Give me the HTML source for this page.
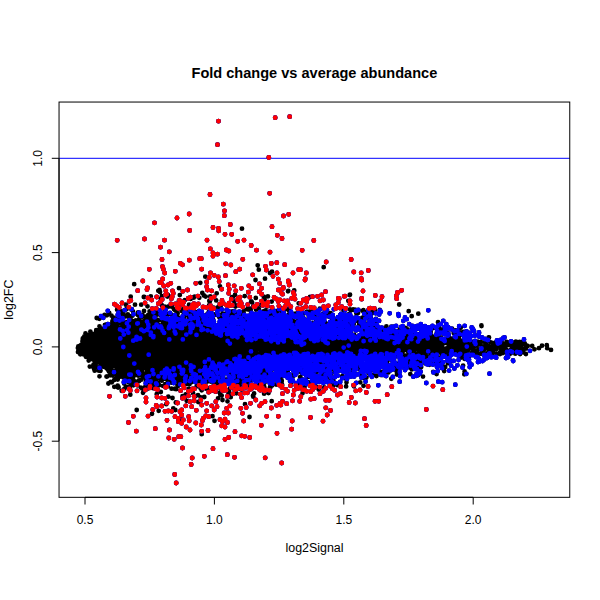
<!DOCTYPE html>
<html><head><meta charset="utf-8"><style>
html,body{margin:0;padding:0;background:#fff;width:600px;height:600px;overflow:hidden}
svg{display:block}
text{font-family:"Liberation Sans",sans-serif;fill:#000}
</style></head><body>
<svg width="600" height="600" viewBox="0 0 600 600">
<rect width="600" height="600" fill="#fff"/>
<line x1="59" y1="158.3" x2="569.8" y2="158.3" stroke="#00f" stroke-width="1"/>
<g fill="none" stroke-linecap="round" stroke-width="4.8">
<path stroke="#000" d="M250.9 374.3h0M146.2 383.1h0M416.6 334.6h0M163.9 376h0M186.4 369.8h0M330.5 313.1h0M124.9 316h0M311.8 384.7h0M186.8 376h0M293.3 370.1h0M117.5 316.9h0M348.3 314.4h0M213.3 319.9h0M133.7 349.1h0M214.8 382.3h0M228.9 378.1h0M203.9 295.5h0M161.8 316.5h0M121.7 370.5h0M325.9 365.7h0M247.8 308.4h0M431.4 335.4h0M300.9 378.6h0M196.8 312.2h0M280.2 369.4h0M430.9 340.4h0M415.2 359.9h0M118.6 323h0M185.4 384h0M353.1 328.6h0M264.3 383.1h0M83.2 353.8h0M210.7 381.6h0M124.3 366.3h0M185.6 326.1h0M155.3 320.2h0M213.6 385.4h0M351.3 329.4h0M112.9 321.8h0M231.8 373.7h0M413.5 351.4h0M343.3 308.2h0M241.5 389.5h0M177.6 313.4h0M165.9 379h0M462.3 340.7h0M366.4 377.6h0M133.1 349.1h0M268 312.2h0M393.4 362.4h0M153 388.2h0M82.3 344.2h0M325.8 363.4h0M312.9 323.4h0M378.2 339.8h0M188.8 376.3h0M143.5 367.9h0M199.7 322.7h0M432.4 345.5h0M383.9 333.3h0M129.6 386.9h0M155.7 313.3h0M215.7 371h0M402.2 353.5h0M448.7 345.6h0M379.8 337.5h0M217.6 310.3h0M170.6 314h0M125.4 372.6h0M363.4 310.2h0M84.4 337.9h0M255.8 297.9h0M251.2 376.7h0M338.4 337.5h0M445.3 333.5h0M178.1 303.3h0M173.1 317.9h0M358.1 321.2h0M188.8 329.8h0M204.3 376.7h0M464.9 358.2h0M105.7 327.7h0M122.4 374.9h0M281.8 372.3h0M161 380.4h0M390.7 358.8h0M149.9 317.3h0M378.4 342.2h0M194.2 296.9h0M181.7 380.5h0M117.4 321.2h0M376.3 354h0M419.3 351.9h0M318.9 388.3h0M437.7 336.5h0M187.4 315.4h0M250.8 308.7h0M108.5 363.9h0M134.5 353.4h0M308.6 321.6h0M148.3 320.6h0M292.8 376.6h0M287.7 371.4h0M147.4 320.8h0M196.6 386.4h0M396.4 355.4h0M114.2 380.1h0M250.9 311.6h0M374.9 309.9h0M205.7 296.6h0M187.7 378.1h0M334.2 336.5h0M385.3 375.3h0M116.8 374.6h0M364.5 318.4h0M210 305.8h0M407.6 329.3h0M96.2 330.2h0M429 357.8h0M310.4 385.5h0M410.3 374.1h0M383.4 329h0M94 336.7h0M322.2 375.7h0M450.7 344.9h0M349.7 328h0M174 309.3h0M264.2 386.6h0M278.3 381.4h0M360.4 370.1h0M425.8 363h0M300.6 363.4h0M447.9 363.2h0M222.5 313.6h0M277 371.8h0M117.7 379.6h0M112.8 375.6h0M243.6 312.8h0M147.2 384.3h0M97.8 333.5h0M107.1 360.1h0M251.1 301.8h0M381.6 353.2h0M459.1 336.7h0M106.2 361.1h0M322.1 378.7h0M334.9 371.7h0M409.8 365h0M288.3 330h0M295.3 313.7h0M195.8 381.3h0M369 373.3h0M183 383.9h0M95.5 365.3h0M151.6 322.3h0M227.7 312h0M148.5 386.9h0M167.2 319.2h0M387.1 361.8h0M202.3 322h0M77.9 348.1h0M82.6 340.3h0M316.5 381.1h0M438.8 339.7h0M124.5 378.1h0M221.3 317.9h0M127.8 316h0M437 332.1h0M133.8 381.8h0M177.1 373h0M121.3 311.4h0M146.9 378.1h0M121.3 327.2h0M104.5 315h0M131.5 309.7h0M212 317.8h0M469.9 340.5h0M434.4 337.2h0M264.6 299.7h0M252 316h0M89.4 334.9h0M85.9 356.8h0M113.5 371h0M460.4 341h0M250.3 315.3h0M93.5 364.7h0M450.4 361.2h0M268.5 393.1h0M111.3 368.2h0M284.9 371.6h0M331.2 368.6h0M250.9 316.7h0M165.4 310.1h0M109.6 360.7h0M115.6 318.7h0M195.3 396.3h0M284.8 309.3h0M99.9 328.1h0M142.4 316.7h0M442.8 348.7h0M292.9 318.2h0M232.6 387.9h0M173.7 365h0M342.3 376.1h0M208.5 344.8h0M332.8 386h0M185.1 331.8h0M431.6 344.1h0M141.2 379.7h0M139.4 318.4h0M267.6 306.3h0M249.6 381h0M239.6 385.8h0M460.7 327.8h0M131.1 353.3h0M469.2 356.2h0M461.1 357.6h0M322.4 314.3h0M156.1 385.9h0M439.6 362.5h0M133.1 347h0M208.4 349h0M441.7 355.6h0M110.6 365.5h0M157.6 324h0M316 319.6h0M115.7 379.1h0M360.3 382.3h0M161.8 305.2h0M108.9 371.6h0M437.2 357.2h0M323.4 377h0M372.7 310.3h0M270.5 373.1h0M415.6 329.4h0M216.5 374h0M389.6 369.9h0M383.5 334.6h0M264.9 382h0M106.5 376.6h0M375.2 323.2h0M85.5 333.4h0M161.9 296.2h0M195.7 337.7h0M157.7 383.2h0M432.8 327.1h0M110.7 362.2h0M97.4 367.3h0M322 315.9h0M129.9 349.8h0M391.5 359.5h0M209.9 301.3h0M157 323.3h0M350.4 315.9h0M130.9 372.1h0M114.7 322.6h0M223.2 375.8h0M174 346.4h0M137.4 385.3h0M189.3 327.9h0M145.3 386.6h0M463.1 365.6h0M446 342.2h0M104.6 362.5h0M92.1 337.2h0M289.8 368.7h0M462.5 342.7h0M263.3 311.4h0M263.1 371.2h0M125.7 316.4h0M104.9 325h0M359.8 366.8h0M380.2 330.4h0M362.4 317.7h0M302.7 316.8h0M464.3 374.3h0M246.9 316.5h0M433.5 341.5h0M142 374.6h0M184 325.9h0M129.6 329.9h0M94.4 359.5h0M215.3 384.4h0M90.4 331.7h0M230.7 397.2h0M105.9 349.5h0M451.5 339.2h0M210.1 349h0M231.4 315.4h0M417.8 349.3h0M372.1 339.8h0M98.9 370.7h0M455.4 354h0M157.2 384.6h0M376.6 325.3h0M188.9 332.8h0M281.7 381.8h0M393.3 364.7h0M392.8 326.9h0M134.9 353.4h0M197.3 382.2h0M359.3 322.8h0M353.1 309.5h0M219.1 316.9h0M327.4 314.2h0M261.4 305h0M138 375.6h0M113.8 323.5h0M193.7 297.7h0M100.2 369.7h0M447.7 359.7h0M281.3 381.1h0M156 333.7h0M430.6 329.9h0M357.9 311h0M187.5 383.4h0M129 382.4h0M142.6 315.3h0M167.4 296.5h0M393.1 329.7h0M221.7 395.6h0M177.3 376.7h0M126.5 309.2h0M179 381.5h0M211.2 308.7h0M339.5 334.7h0M105.7 324.6h0M161 320.1h0M108.1 369.9h0M442.5 329.4h0M146.5 316.4h0M149.6 311.3h0M121.7 374.1h0M125.8 386.6h0M469.1 348h0M128.8 370.8h0M322.8 364.7h0M408 351.3h0M109.8 359.9h0M298.4 332.9h0M179.1 321.7h0M155.4 363.3h0M246.6 371h0M86.1 356.7h0M368.7 372.8h0M199.3 297.8h0M227.3 379.4h0M153.4 332h0M112 366.3h0M227.1 373.1h0M128.4 335.6h0M168.8 313.8h0M112.4 357.2h0M108.4 383.5h0M121.8 327.9h0M186.4 376.3h0M408 350.9h0M178.9 300.7h0M96.5 333.4h0M220.1 304.2h0M163 322.3h0M177.8 386.2h0M388.4 372.4h0M130.7 333.6h0M129.9 388.2h0M311.1 310.5h0M330.7 382.1h0M142.3 368.8h0M309 315.1h0M421.2 367.1h0M452.9 340.1h0M128 331.6h0M107.4 351.3h0M107 376.5h0M136.3 326h0M446.2 348.4h0M407.6 336.8h0M373.3 343h0M400.3 349.3h0M374.3 370.3h0M308.7 317.1h0M355 367.4h0M436.5 339.9h0M378.2 343.1h0M207.3 346.4h0M355.2 310.6h0M249.7 371.1h0M105.1 363.1h0M207 314.5h0M202.7 379.5h0M292.4 379.3h0M132.6 346.3h0M235 375.6h0M365.5 336h0M192.6 330.8h0M190.6 331.5h0M131.3 333.9h0M201.4 318.4h0M107.9 359.2h0M116.5 367h0M210.1 342.4h0M276 371.8h0M302.4 372.1h0M396.2 367.2h0M127.8 314.3h0M236.5 383.2h0M328.3 362.1h0M358.6 336.4h0M127.1 380.6h0M455.5 349h0M300.1 331h0M79.1 346.7h0M184.9 379.5h0M407.2 348.8h0M116.1 373.1h0M417.4 353.6h0M214.6 377.5h0M359.8 323.6h0M135.3 350.5h0M183 384.5h0M210.8 311.2h0M260.7 372.8h0M122.7 321.7h0M116.6 367.9h0M112.6 374.3h0M193.6 336.3h0M126 339h0M111.3 362.6h0M428.3 342.3h0M372.8 337.8h0M422.5 327.1h0M234 382.4h0M408.1 354.6h0M371.7 313.5h0M214.2 314.4h0M441.6 331.4h0M123.5 316.3h0M178.2 370.6h0M347.7 326.6h0M385.2 341.1h0M319.8 308.7h0M94.9 361.6h0M196 335.1h0M273.3 367.4h0M140.2 349.1h0M365.2 315h0M132.4 315.7h0M444.8 343.1h0M448 347.8h0M189.7 368.9h0M147.3 318.3h0M163.2 373.4h0M186.5 310.9h0M198 337.4h0M381 352.5h0M164.8 306.6h0M381.4 341.3h0M216.9 383.1h0M160.4 374.3h0M208.7 348.4h0M214.4 355.9h0M448.6 346.7h0M322.2 363.6h0M177.7 378.3h0M423.5 339.6h0M112.3 362.2h0M458.8 338.3h0M129.2 371.3h0M423.2 355.9h0M331.5 363.5h0M92.5 358.6h0M331.2 373.5h0M130.3 317.1h0M193.7 320.2h0M382 333.8h0M159.7 376.1h0M99.5 376.3h0M440.4 329.9h0M200.2 366.7h0M125.6 333.9h0M225.4 313.8h0M412.2 327.5h0M404.4 355.4h0M237.9 374.3h0M181.6 374.5h0M377.7 351h0M210 352.5h0M172.6 345.5h0M85.8 344.8h0M104.6 348.9h0M374.1 346.7h0M131.6 328.2h0M100.9 331.1h0M102.1 329.3h0M458.7 341.8h0M285.6 368.8h0M205.8 344.6h0M376.4 376.1h0M386.6 344.6h0M186.4 376.8h0M178.7 367.5h0M300.8 363.9h0M240.4 328h0M246.3 316.6h0M226.8 380.9h0M375.9 318.9h0M171.6 388.7h0M222 384.9h0M267.2 327.9h0M183 376.7h0M202.1 378.6h0M212.6 390.5h0M106.1 365h0M129.3 316.7h0M328.7 316.6h0M427.3 352.7h0M263.4 367.3h0M99.5 326.3h0M247.8 377h0M355.1 343.7h0M94.5 364.7h0M174.7 367.6h0M424.4 347.8h0M447.4 351.3h0M135.7 374.7h0M188.9 320.9h0M193 339.4h0M120.5 376.6h0M215 385.4h0M461.3 354.6h0M154.2 334.1h0M155 377.2h0M184.7 331.4h0M219.7 386.4h0M234.4 378.7h0M457.9 349.8h0M212.8 343.8h0M409.2 350.5h0M416.2 336.8h0M421.6 331.3h0M184.9 300.1h0M225.2 326.2h0M460.2 348h0M151.8 328.8h0M366.6 336.8h0M447.8 354.8h0M446.9 352.9h0M184.6 328.4h0M301.1 335.6h0M371.5 338.9h0M440.7 352.5h0M306.9 311.6h0M376.6 346h0M364.7 328.1h0M165.3 327.2h0M368.8 326.7h0M100.5 370.7h0M133.4 372.8h0M182.3 319.9h0M440.7 337.3h0M162.2 313.1h0M219.6 371h0M335 371.9h0M444.7 353.4h0M143 346.3h0M371 318h0M376.7 351.6h0M445.2 350.1h0M105.5 364.4h0M388.2 359.7h0M88.7 360.5h0M104.2 347.8h0M200.9 379.3h0M154.1 334.1h0M431.1 345h0M144.8 374.2h0M152.4 387.7h0M362.9 377.8h0M292.3 330.2h0M107.2 345.7h0M191.3 382.3h0M340.5 335.2h0M340.5 343.1h0M130.7 348.3h0M371.2 328h0M220.5 376h0M384.9 344.8h0M330.7 364.4h0M189.4 314.3h0M419.2 352.3h0M165.7 374.9h0M267.2 391.8h0M109.6 359.4h0M226.1 329.6h0M189.4 330.4h0M131.1 353.7h0M153.3 332.1h0M251.4 313.7h0M223.8 326h0M353.7 324.1h0M161.6 372.3h0M445.6 331.1h0M161.5 367.1h0M175.8 375.1h0M339.5 346.9h0M213.6 358.6h0M195.5 321.1h0M415.7 347.7h0M215.1 354.2h0M110.9 359.2h0M216 325.2h0M261.8 374.4h0M179.6 377.5h0M80.4 345.6h0M468.2 355h0M154.6 373.2h0M111 356.4h0M425.1 353.2h0M407.1 349.1h0M430.7 350.3h0M124.7 372.9h0M187.2 382.1h0M388.6 340h0M211 351.9h0M292.5 330.6h0M94.2 369.2h0M429.2 349.6h0M151.4 384.5h0M78.9 350h0M111.3 330.8h0M135 381.5h0M151.5 324.6h0M123.2 313h0M117.1 309.7h0M186.2 375.5h0M459.6 332.5h0M230.3 318.2h0M247.7 309.4h0M228.3 394.5h0M259.4 378.8h0M260.6 348.4h0M114.3 386.8h0M318.1 350.5h0M417.7 358.2h0M99.3 362.6h0M190.6 363.2h0M369.2 340.5h0M432.5 343.3h0M186.6 362.8h0M324.8 369.6h0M323.1 365.9h0M179.1 376.2h0M189.8 320.9h0M157.6 372.7h0M110 342.1h0M364.1 329.2h0M224 357.3h0M379.5 350.1h0M266.6 373.1h0M141.5 345.7h0M344.2 362.5h0M296.5 315.1h0M422.7 345.6h0M433.4 350.5h0M256.1 349.1h0M404 355.8h0M139.5 329.5h0M355.4 344.1h0M216.6 353.3h0M195.9 362.7h0M369.2 339.7h0M133.8 353.9h0M336.8 338.6h0M196.7 381.9h0M407.2 333.1h0M464.5 358.8h0M298 330.9h0M378 342.4h0M376.4 340h0M198 395.1h0M354.4 344.6h0M265.4 370.3h0M339.5 342.4h0M297.6 383.8h0M323.9 377.1h0M127.7 332.3h0M242.2 380.4h0M152.7 382h0M202.2 322.3h0M144 358.3h0M109.9 327.7h0M289.9 368.3h0M171.8 306.7h0M468.6 342.1h0M155.1 327.9h0M291.6 382.2h0M338 319.8h0M101.2 330.8h0M161.2 331.9h0M307.7 373.5h0M300.1 377.1h0M192.9 328h0M89.1 334.9h0M184 313h0M186.5 333.5h0M86 355.7h0M82.8 354.1h0M269.2 315.8h0M207.8 388h0M196 340.4h0M223.7 359h0M220.8 305.7h0M261 349.2h0M380.7 354.3h0M153.4 313.8h0M130.6 384.3h0M386.4 326.3h0M291.4 379.3h0M114.4 342.2h0M138.5 373.5h0M117.1 376.1h0M454.2 341.1h0M106.7 345.7h0M149.4 330h0M187.6 383.6h0M126.2 374.3h0M103.1 363.3h0M417.3 336.4h0M161.5 378.3h0M108 330.2h0M404.6 350.2h0M298.2 328.5h0M366.4 346.7h0M165.4 328.8h0M177.1 321.2h0M145.9 356.6h0M189.7 316.9h0M150 327.7h0M134.7 326.3h0M327.1 311.2h0M267.9 296.4h0M158.9 310.9h0M208.8 349.2h0M319.7 362.3h0M127 330.7h0M194.7 332.4h0M105.7 364.2h0M162.5 324.5h0M353.6 370.6h0M420.8 361.5h0M409.1 355.7h0M453.7 333h0M254.1 350.3h0M356.5 344.2h0M406.7 363.1h0M422.5 357.5h0M185.6 370.6h0M181.2 377.3h0M442.1 354.1h0M416.8 348.2h0M382.8 340.4h0M271.4 314.8h0M175.9 377.4h0M256.2 361h0M120.1 333.6h0M82.5 341.4h0M99.2 360.1h0M135 321.3h0M143.3 377.4h0M142.4 359.3h0M175.4 348.9h0M253.3 305.9h0M185.4 360.7h0M284 313.7h0M429.3 364.8h0M417.9 375.3h0M145.9 368.5h0M336.1 338.8h0M155.5 379.8h0M185.6 324.2h0M255.1 378.7h0M191.5 371.8h0M276.1 384.5h0M94.6 355.6h0M117.9 328.9h0M269.4 312.5h0M452.6 347.6h0M176.7 320.5h0M409.7 351.9h0M361.4 321.7h0M213.4 373.8h0M96.5 354h0M367.7 347.7h0M217.8 381.4h0M357 344.1h0M310.7 360.6h0M443 350.2h0M436.6 374h0M129.9 354h0M252.9 378.3h0M430.2 356.8h0M442.8 331.4h0M453.7 350.7h0M119.8 314.1h0M278.7 339.5h0M177.5 309.2h0M175.3 351.8h0M279.8 341.1h0M355.5 344.5h0M173.6 368.9h0M92.6 352.9h0M120.4 370.8h0M209.2 305.1h0M382.1 328.5h0M183.8 357.3h0M420.3 367.3h0M263.8 296.7h0M147.7 378.3h0M141.3 322.2h0M151.4 331.6h0M147 370.2h0M115.3 379.3h0M217.5 353.8h0M268 376h0M85.2 339.8h0M302.6 314.5h0M108.5 328.6h0M122.6 325.4h0M117.7 385.7h0M222.2 340h0M398.5 368.7h0M216.3 391.5h0M366.4 350h0M127.1 321.9h0M142.9 321.6h0M400.7 344.8h0M143.1 324.8h0M132.8 376.3h0M82.5 343.8h0M198.1 379.9h0M347.3 340.1h0M350.3 317.6h0M359.1 324.3h0M453 340.9h0M403.9 346.9h0M444.6 340.1h0M264.1 393.7h0M88.6 353h0M159.3 334h0M395.1 350.4h0M147.1 376.3h0M393 339.7h0M239.1 348.6h0M132.1 342.2h0M381 332.9h0M396.9 372.8h0M221.7 375.8h0M454.6 332.5h0M410 337.8h0M89.1 344.1h0M329.1 368.3h0M131.2 325.2h0M113.3 336.3h0M223 321.5h0M121.1 349.4h0M368.5 313h0M375.6 342.5h0M250.9 351h0M102.1 333.1h0M276.9 338.1h0M152 317.3h0M404.2 346.7h0M377.4 328.1h0M121.9 354h0M180.4 371.2h0M130.4 379.5h0M111.8 382.3h0M231.7 384.4h0M433.8 358.2h0M324.9 344.6h0M397.4 344.5h0M406.7 349.3h0M275.7 366.9h0M122.1 348.7h0M372.8 374.9h0M94.4 340h0M222.4 361.9h0M339.6 348.3h0M364.7 348.9h0M235.4 306.5h0M396.1 370.2h0M114.3 371.1h0M315.7 348.3h0M263.9 383.2h0M229.3 377.7h0M124.2 327.9h0M115.3 359.1h0M78.3 347.3h0M361 336.1h0M147.6 370h0M256 309.4h0M201.7 326h0M214.9 345.6h0M403.3 350.5h0M224.9 353.8h0M309.2 311.7h0M173.9 357.4h0M265.3 331.8h0M427.3 357.2h0M210.7 352.5h0M98.6 348.5h0M138.4 375.5h0M432 347.5h0M463.7 331.9h0M446 352.4h0M144 311h0M374.8 347.7h0M440.7 349.7h0M119.8 349.2h0M405.6 339.5h0M133 332.2h0M262.2 380h0M150.3 313.9h0M119.2 352.1h0M234.2 382.1h0M234.4 389.3h0M397.7 348.7h0M93.4 349.7h0M376.3 336.2h0M104 366.8h0M403.2 344.6h0M377.2 329.3h0M410.8 348.6h0M265.2 319.5h0M332.5 318.7h0M83.1 344.9h0M204.6 332.5h0M218.5 347.5h0M131.4 340.3h0M203.9 330.7h0M181.7 374.4h0M397.1 353.5h0M228 357h0M447.3 338.4h0M360 347.7h0M183.3 375.9h0M338.7 367.2h0M440.6 348.4h0M209.6 356h0M214.6 389.2h0M394.8 341.1h0M106.3 360.2h0M450.7 343h0M410 348.9h0M139.5 342.4h0M429.3 339.7h0M185.9 324.7h0M122.3 321.5h0M148.3 370.9h0M344.7 322.5h0M385.9 348.7h0M125.5 370.1h0M174.1 358.9h0M191.9 333.8h0M211 352.9h0M469.1 348.2h0M337.2 343.3h0M116.1 371.5h0M353.9 386.3h0M158.2 378.4h0M123 337h0M98.3 335.4h0M235.9 346.4h0M142.1 359h0M240.1 383.7h0M390.1 347.9h0M371.8 347.7h0M90.2 346.7h0M332.7 316.6h0M411.8 369.4h0M338.7 368.7h0M362.7 323.7h0M268.7 332.3h0M206.7 327.5h0M163.1 370.5h0M212.8 343.5h0M94 334h0M112.4 321.2h0M116.2 329.8h0M98.7 356.3h0M326.3 345.7h0M188.2 360.6h0M197.4 367.1h0M195.5 371.3h0M218.3 354.7h0M191.5 361.7h0M379.8 310h0M325.8 371.6h0M109.6 348.6h0M122.8 361.9h0M257.2 343.5h0M141.5 339.6h0M376.3 334.9h0M350 309.3h0M212.4 359.1h0M105 351.1h0M181.4 359.3h0M82.1 350.9h0M418.9 365.3h0M131.3 347.5h0M316.4 353.5h0M380.5 355.9h0M423 376.6h0M281.5 310.7h0M211.3 354.6h0M103.1 349.5h0M102 366h0M332.6 321.6h0M122.5 336.2h0M429.9 348.4h0M216.2 300.4h0M444.2 371.1h0M251.7 353.8h0M280.7 377.4h0M139 380.3h0M350.3 347.5h0M381.5 341.2h0M197.9 339.3h0M314.1 349.4h0M444.8 351.5h0M113.7 335h0M263.1 367.9h0M147.7 372.6h0M433 328.2h0M104.9 345.7h0M103.6 350.3h0M436.6 333.4h0M377.9 344.4h0M183.9 350.8h0M142.1 388.5h0M202.5 379.6h0M182.5 396.2h0M296.1 323.5h0M439.4 358.9h0M423.9 352.9h0M236.7 358.8h0M311.8 365.4h0M256.3 357.8h0M178.8 347.7h0M461 343.2h0M361.9 350.4h0M173.1 357.3h0M144.9 327h0M427.4 341.5h0M419.2 353.8h0M177.9 357.8h0M372 328.4h0M173.4 355.5h0M97.2 340.9h0M98.1 347h0M173.8 362.8h0M163.4 330.9h0M177.2 315.6h0M78.3 346.5h0M386.7 345.2h0M164.7 330.7h0M201.7 365.1h0M179 346.3h0M197.4 375.7h0M239.9 316.1h0M181.7 360.4h0M149 358h0M143.8 350.9h0M212 377.8h0M216.8 314.9h0M100.9 328.5h0M247.7 346.4h0M185.3 369.2h0M129.4 372.8h0M342.5 349.4h0M191.2 363.1h0M343.4 309.8h0M288.7 314.9h0M388 359.5h0M378.6 329.6h0M196.8 341.3h0M119 367.2h0M119.1 350.3h0M159.8 371.6h0M235.2 344.9h0M176 374.9h0M211.5 331.7h0M302.3 348.5h0M223.4 314.5h0M124.3 367h0M403.7 345.5h0M127.3 373.6h0M185.5 362.5h0M308 369.5h0M452.1 352.2h0M123.4 377.5h0M148 363.5h0M132.4 355.5h0M209.3 300.9h0M176.5 365.6h0M359.8 345.5h0M281.7 380.5h0M414.8 345.8h0M221.7 363.3h0M420.9 351.6h0M172.9 334.2h0M354.2 334.9h0M179.2 365.3h0M366.6 333.9h0M211.3 348.3h0M175.1 366.5h0M305.3 352h0M428 346.2h0M411.7 343.1h0M363.5 385.8h0M383.7 353.9h0M378.4 348.8h0M404.6 341.8h0M392.7 352.7h0M105.5 359.7h0M261.2 368h0M175.1 310.3h0M165.6 329.7h0M211.8 345.5h0M164.4 359.6h0M416.5 354h0M349.8 340.6h0M157.7 372.4h0M103 344h0M204 367.3h0M435.3 346.3h0M303.1 341.9h0M165.7 329.6h0M390 328.8h0M167.3 327h0M170.5 334h0M438.1 333.6h0M157.1 364.1h0M250.9 352h0M424 347.8h0M411.8 367.8h0M194.3 365.8h0M439.2 328.4h0M454.4 331.2h0M257.5 305.2h0M214.2 378.8h0M105.8 367h0M124.1 363.4h0M97.4 347.4h0M374.4 351.7h0M198 363.4h0M203.4 384.7h0M139.1 321.1h0M300.7 330.1h0M241.9 347.9h0M134.4 335.2h0M205.7 326.2h0M154 335.1h0M228.3 381.2h0M357.9 345h0M96.6 359.2h0M377.5 345.4h0M341.1 342.3h0M428.3 349.9h0M427.8 340.1h0M136.3 329.9h0M148.8 357.7h0M451.4 344.3h0M132.4 340h0M118.5 366.6h0M108.3 359.4h0M134 346.6h0M326.7 362.8h0M380.2 359.8h0M274.7 341.1h0M169.4 337h0M221.4 362.1h0M461.8 349h0M257.2 377.2h0M188.4 307.7h0M95.5 352h0M122.9 358.1h0M411.9 340.1h0M351.3 333.9h0M171.7 364.1h0M450.4 338.3h0M110.2 350h0M102.5 356.5h0M380.9 347.5h0M290 381.1h0M185 367.7h0M140.2 372.6h0M292.9 324.5h0M200.3 324.9h0M135.4 349h0M353.8 370.1h0M240.2 324.4h0M183.9 352.8h0M223.3 358.4h0M102.5 358.3h0M117.8 326.7h0M437.5 352.6h0M425.4 363.4h0M405.1 356.7h0M211.3 353h0M115.1 340.2h0M389.7 345.6h0M369.8 339.2h0M237.7 353.4h0M113.1 327.8h0M167.5 384.7h0M383 371.9h0M226.3 353.9h0M136.1 336h0M468 344.5h0M89.8 366.6h0M361.8 335.6h0M189.6 312.4h0M274.1 369.2h0M430.7 331.9h0M156.1 328.2h0M416 354h0M207.3 347h0M166.8 323.4h0M161.2 369.9h0M301.5 333.9h0M137.4 344.6h0M413 353.2h0M333.8 369h0M121.5 330.4h0M232.4 311.4h0M168.2 382.5h0M155.9 388.9h0M112.2 372.1h0M127.2 354h0M340 337.2h0M145.9 381.2h0M449.2 337.8h0M219.9 392.8h0M109.3 347h0M160.5 353.5h0M333.5 381.1h0M229.7 388.8h0M197.7 361.1h0M214.2 347.5h0M161.5 355.9h0M389.7 339.3h0M350.2 333.2h0M194.9 326.3h0M397.2 354.6h0M218.3 378.2h0M97.6 333.6h0M202.8 342.5h0M96 352.4h0M238.6 322.6h0M177.5 385.5h0M143.3 340.2h0M259.9 344.5h0M183.8 314.5h0M320.4 345.7h0M116.6 368.9h0M116.5 340.8h0M100.4 370.9h0M123.5 334.2h0M258.5 358.5h0M419.7 347.3h0M200.1 330.6h0M424.2 343.5h0M437.7 340h0M155.8 313.5h0M131 322.9h0M125.5 326.6h0M178.7 324.1h0M384.7 348.6h0M113.3 347.2h0M181.1 359.5h0M381.3 339.2h0M244.5 348.1h0M337.9 325.2h0M222.2 362.9h0M158.1 333.4h0M193.6 315.8h0M147.7 386.5h0M182.4 362h0M278.5 355.1h0M87.2 339.8h0M241.7 356.4h0M235.1 325h0M448.4 342h0M222.6 355.3h0M461 350.2h0M240.3 315.8h0M441.7 343.3h0M189.8 328.3h0M263.3 384.1h0M95.1 364.6h0M361.2 345.3h0M123.2 341h0M385.7 346.5h0M244.7 296.1h0M143.5 356.4h0M157.1 319.7h0M379.4 336.5h0M236.4 354.1h0M103.9 351.2h0M397 374.5h0M129.7 324.2h0M141.5 334.1h0M187.4 378.7h0M267.9 327.1h0M288 309.3h0M191.4 332.6h0M428.6 343.3h0M360.7 365.8h0M138.8 362.1h0M248.9 350.9h0M186 379.9h0M124.1 383.6h0M395.3 346.4h0M150.4 374.3h0M159.3 357.2h0M108.4 324.7h0M165.9 361.8h0M159.1 328.4h0M159.1 357.6h0M259.4 346.1h0M148.1 371.8h0M238.7 388.6h0M183.7 348.6h0M194.8 332.4h0M148 362.4h0M125.4 360.5h0M120 342.1h0M314.9 352.6h0M436.2 353.6h0M228 368.3h0M156.8 374.8h0M199.1 368.4h0M386.5 364.8h0M182.4 327.1h0M290.9 343.7h0M325.5 379.2h0M432.5 346.7h0M105.9 331.1h0M159.9 368.1h0M352.7 350.1h0M363.1 343.9h0M388.4 342.3h0M230.8 367h0M148.5 378.5h0M368 350.8h0M156.3 329.6h0M88.2 356.5h0M365.1 338.8h0M160 357.9h0M131 374.6h0M316.7 314.4h0M123 365.8h0M220.4 395.1h0M166.9 332h0M105.9 357.5h0M169.7 356.5h0M107.3 350.7h0M272 385.6h0M213 351.5h0M155.7 338.5h0M105.6 334.8h0M167.4 327.8h0M120.8 366.9h0M402.7 339.8h0M403.2 346h0M381.1 375.1h0M348.7 324h0M292.9 318h0M222.3 355.6h0M407.6 329.5h0M195.3 328.5h0M226.3 337.1h0M319.9 325.1h0M174.8 380.9h0M238.4 358.2h0M147.6 368.2h0M206.9 368.4h0M330.2 354.1h0M296.8 334.3h0M93 336.3h0M192.3 323.1h0M110.1 335h0M127.9 343.6h0M300.5 341.6h0M114.8 326.5h0M189.3 336.5h0M173.9 328.1h0M255.6 347.9h0M308.2 382.4h0M331.2 357h0M407.6 358.1h0M99.6 354.5h0M382 347.3h0M123 353.4h0M229.9 354.6h0M143.2 328.6h0M385.7 351.9h0M116.6 338.5h0M299.3 315.7h0M84.9 352.3h0M287.5 352.6h0M200 339.7h0M117.6 352.5h0M384.9 339.9h0M177.1 380.7h0M279.8 307.5h0M426.2 345h0M300.4 377.1h0M410 351.1h0M225 341h0M319.4 342.4h0M248.4 384.5h0M285.6 316.1h0M410.5 331h0M181 343.7h0M83.5 345.8h0M222.9 378.2h0M321.5 343.1h0M91.4 355.6h0M269.5 377.2h0M139.8 326.7h0M107.7 324.1h0M166.2 355.9h0M167.7 334.5h0M179.5 364.4h0M261.7 343h0M372.3 369.5h0M136.2 365.9h0M244 345h0M352.4 370h0M329 324.2h0M215.8 351.8h0M158.1 343.4h0M139 326.1h0M385.6 332.7h0M386.2 363.2h0M428.6 361.6h0M172.7 356.9h0M351.6 324.6h0M212.4 329.8h0M211.6 372.5h0M353.3 341.1h0M94.9 341.2h0M91.7 347.5h0M238.4 344.7h0M102.8 354h0M291.9 329.7h0M205 341.6h0M127.1 339.1h0M238.9 354h0M469.7 336.6h0M451.1 339.7h0M122.5 325h0M115.3 373.7h0M359 327.1h0M142 375.2h0M423.2 349h0M163.3 354h0M159.2 385.2h0M152.3 378.6h0M225.5 365.2h0M114.7 335.2h0M422.3 348.5h0M317.9 345.3h0M256.4 341.3h0M191.8 355.9h0M80.3 354.3h0M282.3 343.1h0M157.3 340.5h0M197.9 363h0M107.5 366.5h0M312.6 346.7h0M111.8 333.5h0M452.8 351.6h0M132.6 368.9h0M119.2 345.2h0M189.2 336.8h0M387.5 345.5h0M165.8 348.4h0M164.8 357.2h0M233.6 378.4h0M232.2 358h0M415.9 353.7h0M136.3 371.1h0M376.5 345.6h0M392.8 363.9h0M193.5 353.2h0M378.6 331.5h0M225.1 319.6h0M85.1 346.2h0M255.9 345.9h0M359.7 374.4h0M88.3 343.6h0M206.2 354.4h0M187.5 345.9h0M237.7 349.9h0M94 360.1h0M160.1 364.1h0M447.7 333.1h0M204.4 370.4h0M250.3 349.5h0M206 334.9h0M158.8 325.2h0M306 349.1h0M425 350.7h0M171 347.5h0M328 353.2h0M464.5 338h0M173.7 351.7h0M249.9 349h0M411.2 345.9h0M84.3 354.7h0M353.2 374h0M222 355h0M107.3 351.8h0M402 340.5h0M256.5 350h0M349.3 346h0M158.1 336.9h0M134.9 354.5h0M372.3 345.8h0M423.9 351.9h0M305.3 338.6h0M216.1 340.1h0M417.5 356h0M82.8 338.5h0M446.3 349.7h0M433.2 345.7h0M144.9 323.9h0M353.4 347.8h0M112.2 370.5h0M206.2 350.7h0M208.1 340.9h0M314.3 345.1h0M104.5 361.3h0M331.6 362.6h0M182.8 324.9h0M207.7 339.4h0M295 368.6h0M117 339.2h0M85.6 347.1h0M132.9 321.2h0M342.4 338.4h0M340.2 334.1h0M142.4 352h0M304.9 367.9h0M189.8 332.3h0M230 339.6h0M127.7 364.9h0M227.3 339.1h0M313.2 349.8h0M220.5 353.7h0M114.7 324.5h0M399.6 334.5h0M240 374.1h0M84.3 336.4h0M414.2 345.1h0M364.4 322h0M153.3 338.2h0M210.9 357.7h0M347.4 350.7h0M422.5 354.5h0M228.9 391.7h0M89.7 342.2h0M379.1 320.6h0M104.7 367.1h0M120.3 360.5h0M88.1 340.2h0M344.3 339h0M124.9 365.2h0M157.9 324.6h0M195.6 358.7h0M419.2 334.2h0M124.4 388.9h0M303.6 343.1h0M327.7 371.4h0M206.5 339.9h0M185.5 370.7h0M426.4 351.1h0M211.2 368.3h0M278 351.4h0M118.1 387.6h0M129.5 368.1h0M155 359.9h0M460.5 348.2h0M430 330.9h0M402.4 355.8h0M187.1 334h0M174.7 326.9h0M455 352.3h0M198.1 369.9h0M127.7 324.6h0M276.7 345.1h0M459.5 347.4h0M273.5 347.6h0M174.5 371.9h0M167 377.8h0M174.6 377.1h0M342.7 351.5h0M89.9 336.7h0M273.5 312.8h0M324.4 340.8h0M114.5 356.6h0M344.5 341.7h0M403.3 338.2h0M168.3 337.5h0M413.4 339.9h0M111.6 351h0M141.9 370.3h0M448.7 347.9h0M84 349.2h0M345 351.5h0M255.6 348.2h0M200.5 367.4h0M174.8 370.8h0M331 349.8h0M100 337.4h0M223.4 366.2h0M176.5 362.2h0M229.8 353.3h0M194 361.8h0M267.9 370.2h0M213.3 341.7h0M185.9 356.6h0M99 351.7h0M138.9 336.8h0M454.3 346h0M94.2 348h0M210.1 317.4h0M153.4 337.3h0M220.8 342h0M189.5 329.1h0M149.7 340.5h0M135.5 362.7h0M154.1 339.6h0M88.6 354.4h0M195.2 328.5h0M256.6 334.8h0M419.7 340.8h0M333.9 340h0M182.7 309.4h0M159.1 352.2h0M258.5 338.6h0M331.5 363h0M167.1 360h0M104.9 356h0M173.6 337.3h0M112 361.3h0M114.5 349.3h0M367.7 317.1h0M91.7 337.5h0M171.8 349h0M375.5 339.8h0M180.2 350.5h0M207.7 356.2h0M179.1 353h0M168 364h0M259.5 342.2h0M452.1 328.7h0M195.5 332.7h0M153.6 317.4h0M190.7 343.9h0M338.5 328.9h0M197.3 328.3h0M134.5 341.7h0M110.7 381.8h0M181.4 345.1h0M240.1 380h0M98.2 343.8h0M182.9 364.6h0M197.1 374.1h0M146.1 326.3h0M164.4 366.9h0M219.2 352.4h0M296.3 343.6h0M200.6 342.6h0M239.6 344.8h0M197.1 353.4h0M220 339.3h0M129.7 347.6h0M155.4 350.1h0M380.5 374h0M138.8 335.9h0M333.7 344.3h0M276.2 349.5h0M460.2 343.6h0M446.9 357h0M105.3 341.2h0M150.8 367.5h0M167.5 331.8h0M210.6 328.2h0M430.3 334.5h0M201.9 362.3h0M344.9 349.5h0M148.8 329.2h0M316.1 353.3h0M317.2 344.5h0M200.6 380.8h0M410.1 350h0M385 351.4h0M315.7 377.9h0M181.1 355h0M123.1 354.4h0M126.5 342.6h0M259.5 384h0M198.7 325.9h0M157.9 357.2h0M152 360.3h0M371.4 339h0M324 347.1h0M379.9 328.7h0M107.6 346.4h0M279.7 346.1h0M147.1 360.3h0M179.5 346.1h0M173.2 353.2h0M211.8 325h0M317.3 345.6h0M171.4 346.6h0M138.7 348.8h0M190.9 341.8h0M300 351.3h0M286 336.7h0M126.9 346.1h0M238.6 342.8h0M208.2 333.5h0M125.2 364.8h0M457 346.9h0M349.8 331.6h0M139.2 365.8h0M123.7 350h0M173.9 358.8h0M104.6 363.6h0M190.9 377h0M93 339.8h0M184.4 348h0M257.9 381.8h0M357.6 310.7h0M409.7 334.6h0M119.6 357.9h0M154.2 335.3h0M154.2 368.4h0M109.6 359.1h0M212.1 388h0M223.1 342.4h0M221.6 351.5h0M414.4 348.6h0M180.4 375.4h0M421.9 342.6h0M422.1 356.5h0M167.2 357.6h0M113.2 360.3h0M255.5 350.6h0M160.8 298.7h0M184.5 353.9h0M168.7 306.5h0M101.9 350.2h0M277.7 337.7h0M88.1 350.6h0M152.5 377.1h0M237.2 313.9h0M279.6 347.1h0M102.1 354.9h0M308.3 376.9h0M157.6 372.3h0M186.5 340.1h0M226.7 320.7h0M312.5 348.1h0M300.7 353.2h0M105.1 351.7h0M242.1 345.8h0M108.1 351.6h0M218.4 343.2h0M143.1 360.7h0M235.1 327.7h0M240.9 341.8h0M150.7 377.7h0M139.2 323.8h0M256.7 349.4h0M104.7 331.6h0M195.3 341.5h0M339.9 347.8h0M231.7 336.1h0M174.1 368.7h0M333 359.7h0M350 375.9h0M132.1 356.9h0M206 342.4h0M158 363.6h0M103.6 342.8h0M88.7 351.2h0M356.6 362.3h0M161.2 344.1h0M374.9 351.8h0M301.1 372.3h0M468 344.9h0M102 344.8h0M280.9 351.9h0M128.3 334.3h0M185.2 333.4h0M155.2 371.8h0M127.5 351.3h0M133.3 379.7h0M171.6 329.7h0M159 326.4h0M323.2 350.8h0M105.5 357.9h0M185.4 373.1h0M93.3 367h0M266.6 316.5h0M405.6 327.8h0M252.1 342.7h0M81.2 345h0M139 344.2h0M290.4 351.6h0M255.4 348.7h0M94.3 358.2h0M158.5 366.3h0M358 312.9h0M204.8 359.2h0M215 347.9h0M210.2 341.9h0M198.2 384.6h0M161.1 339.5h0M316.1 344.3h0M89.3 353.2h0M295 326.6h0M218.7 315.1h0M412.2 355.3h0M166.1 317.2h0M211.3 298.3h0M236.7 359.5h0M165.9 326.2h0M162.1 361.3h0M189.1 317.1h0M439.4 331.7h0M155.5 359.9h0M148.3 314.8h0M425.2 339.9h0M356.4 313.4h0M184.3 352.9h0M188 353.9h0M163.4 356.1h0M326.6 346.7h0M150.6 377.5h0M223.1 325.6h0M184.4 348.6h0M109.4 352.6h0M197.1 346.5h0M184.1 315.3h0M166.3 324.3h0M406 342.3h0M141.2 351.5h0M248.7 353.6h0M340.6 353.1h0M202.6 360.3h0M188.1 343.5h0M261.1 346.1h0M418.3 347.8h0M148 343.7h0M413.5 351.3h0M440.7 339.3h0M304.1 352.4h0M119 316.9h0M338.3 340.5h0M223 344h0M288.2 352.5h0M177.4 360.1h0M274.5 353.3h0M424.3 347.7h0M300.4 341.7h0M139.9 340.4h0M225.3 362.5h0M240.5 351h0M377.2 345.7h0M236 349.8h0M282.7 341.5h0M86.4 341.2h0M398.4 355.4h0M159.1 361h0M356.9 353.2h0M143.9 341.3h0M194.3 345.6h0M204.2 352.8h0M441.4 348h0M417.7 355.4h0M243.4 348.1h0M384.2 358.5h0M325.4 322.8h0M440.6 365.8h0M280.1 314.8h0M138.6 325.2h0M370.5 352.7h0M182.4 368.1h0M140.4 346.4h0M394.5 343.5h0M268.1 314h0M293.4 321.6h0M418.4 349.1h0M227.8 357.8h0M145.5 342.4h0M143 366.9h0M269.5 343.8h0M277.6 342.7h0M109.3 353.2h0M193.7 368h0M176.8 370.9h0M186.7 365h0M148.4 344.9h0M340.6 347h0M118.4 350h0M406.2 349.2h0M201.2 349.4h0M202.5 344.9h0M139 372h0M243.4 345.6h0M400.2 343.2h0M313.3 350h0M438.7 344.2h0M161.7 380.7h0M391.3 326.6h0M346.8 376.5h0M235.4 342.1h0M246.3 320.1h0M99.3 318.8h0M115.6 366h0M94.4 367.4h0M152.7 338.8h0M346 353.5h0M334.2 336.1h0M108.4 324.6h0M214.5 352.7h0M124 357.5h0M339.8 351.1h0M280.3 348.7h0M320.7 349.8h0M442.1 341.6h0M334.4 351.3h0M143.2 321.3h0M288.4 340.3h0M204.4 347h0M260.5 342.6h0M288.3 328.7h0M172.4 328.4h0M154.1 318h0M171.1 330.2h0M147.8 362.4h0M156.1 315h0M227.5 372.4h0M204 338.4h0M343.3 355.3h0M193.7 351.8h0M329.5 350.1h0M247.1 348.6h0M209.7 376.4h0M115.8 351.8h0M235.9 373.9h0M253 395.7h0M138.4 312.5h0M223.2 351.1h0M324 368.4h0M205.8 350.7h0M352.2 353.3h0M459 352.7h0M223.2 363.3h0M233.2 355h0M225.1 367.2h0M142.8 336.9h0M365.8 341.5h0M230.8 353.5h0M202 356.5h0M163.6 351.3h0M180.1 353.4h0M219.1 356.2h0M237.6 378.5h0M112.6 332.6h0M437 344h0M342.6 322.7h0M291.4 351h0M403.1 351.1h0M372.1 346.6h0M374.3 325.8h0M93.8 348.7h0M344.6 329.8h0M223.7 346h0M333.8 349.2h0M277.2 347.1h0M302.1 384.9h0M89.1 357.8h0M242.6 340.5h0M202 327.8h0M225.7 352.7h0M285.6 340.4h0M200.3 384.2h0M206.6 356h0M454.5 341h0M240.4 375h0M227.9 362.9h0M282.2 385h0M325.2 342.5h0M266.4 346.8h0M362.6 324.5h0M193.5 360.6h0M91.4 343.9h0M114.4 360.2h0M333.3 346.7h0M130.3 342.5h0M106.9 315.3h0M255.7 342.9h0M197.8 362h0M193 356.9h0M124.1 329.6h0M207.4 358.9h0M150.2 356.7h0M143.6 332.2h0M140.6 338.3h0M88.3 350.7h0M247.4 344.6h0M327.4 346.4h0M253.3 339.4h0M168 334.3h0M422.7 354.8h0M285.6 343.2h0M238.3 317.2h0M410.7 342h0M195.7 366.9h0M109 333.3h0M337.1 343.5h0M177.3 329.9h0M440.4 350.4h0M94.7 344h0M200.7 374.7h0M235.2 353.9h0M89.3 336.6h0M170.5 364h0M199 373h0M141.4 322.4h0M91.1 357.7h0M144 373.3h0M433.7 351.3h0M117.4 339h0M151.2 314.7h0M178.2 317.8h0M165.1 310.8h0M212.9 340.4h0M145.2 367.8h0M398.5 343.7h0M397.2 364.9h0M118.3 333.6h0M177.7 346.5h0M388.8 352.9h0M151.2 312.4h0M218.3 354.6h0M189.9 338.4h0M340.2 367.4h0M88.6 352.7h0M161.6 364.7h0M192.6 378.4h0M178.1 381.2h0M464 345.7h0M215.3 344.3h0M153 343.1h0M314.7 350.6h0M342.8 344.3h0M170.2 360.4h0M203 320.5h0M168.6 381.3h0M123.5 353.4h0M184.9 355.8h0M112.9 346.4h0M415.2 342.8h0M277.6 344.3h0M175.6 308.6h0M196.7 331h0M347.8 347.2h0M414.5 352.7h0M133 311.3h0M195.4 361h0M237.1 344.6h0M88.3 357h0M195.7 354.3h0M212.9 337.2h0M272.1 324.4h0M251.2 350.9h0M113.1 354h0M190.9 364.8h0M189.3 345.5h0M226.2 349.7h0M156.3 355.6h0M206.5 360.9h0M129.2 317.8h0M275 379h0M115.2 365.2h0M175.5 352.1h0M191.6 357.3h0M136.9 343.3h0M151.8 321.4h0M111.5 338.4h0M358.4 342.3h0M437.6 348.5h0M277.5 310.9h0M365 331.2h0M318.2 348.9h0M105.8 355.3h0M293.1 349.9h0M198 319.8h0M313.7 344h0M126.5 356.4h0M219.3 353.4h0M259.1 358.9h0M333.3 344.2h0M183.6 336.1h0M93.2 346.5h0M93.3 335h0M226.6 353.6h0M221.1 349h0M203.1 337.7h0M131.9 345.8h0M208.9 336.9h0M202.7 345.8h0M304.4 351.9h0M139 361.2h0M164 350h0M213.8 351.2h0M379 371h0M440.3 341h0M328.2 355.2h0M135.1 370.9h0M166.3 316h0M223.4 337.9h0M100.8 333.8h0M149.7 374h0M231.6 340.2h0M325.9 344.7h0M137.4 334.3h0M120.6 353.6h0M220.6 342.1h0M187 320.9h0M160.9 337.2h0M434.1 361.6h0M213.8 322.7h0M223.4 349.5h0M374.6 354.1h0M323.9 356h0M433.2 358.3h0M364 346.2h0M444.2 356.6h0M181.6 371.9h0M246.2 343.5h0M233.9 385.7h0M184.4 378.6h0M89.2 342.1h0M181.6 365.1h0M139.8 330.6h0M178.1 352.9h0M300.3 352.1h0M157.6 320.9h0M149.8 356.7h0M165.5 341.2h0M169.1 353h0M254.9 353.7h0M277 348.2h0M262.6 355.4h0M346.5 382.3h0M109.3 371.2h0M167.6 358.1h0M183.2 345.8h0M119.5 339.6h0M113.8 325h0M116.4 363.6h0M135.3 363.2h0M248.4 354h0M230.2 366.6h0M267.4 351.5h0M428.5 351.5h0M211 336.5h0M430.8 354.5h0M235.2 305.4h0M179.5 364.7h0M132.2 332.6h0M390.7 346h0M218.6 355.9h0M304.1 346.7h0M135.5 350.3h0M228.8 351h0M234.7 320.2h0M442.3 363.6h0M288.8 310.6h0M266.5 347.9h0M356.4 339.4h0M402.9 341.9h0M397.7 346.4h0M157.2 354.6h0M255.7 315.8h0M196.7 347.5h0M232.1 338.9h0M232.3 358.6h0M204.2 343h0M361.5 337.3h0M252 375.1h0M361.8 346.8h0M190.2 360.9h0M275.5 349.7h0M415.6 338.4h0M164 353.6h0M181.5 359h0M130 347.6h0M137.3 349h0M410.8 367.9h0M396.9 363.9h0M144.5 355.2h0M234.1 337.1h0M142.4 337.2h0M141.3 338.1h0M151.4 364.3h0M372.4 355.5h0M234.7 315.4h0M328.3 370.2h0M140 361h0M220.4 358.9h0M301.4 353.9h0M124.9 340.1h0M359.8 338h0M404.5 342.5h0M143 357h0M272.6 346h0M185 375.8h0M153.5 319.5h0M340.7 342.1h0M375.7 342.2h0M379.5 349.8h0M383.5 351.1h0M337.4 348.1h0M176.1 359h0M283.9 346.3h0M127.1 359.8h0M382.7 349.2h0M92.8 347.6h0M169 332.6h0M353.2 344.5h0M408.9 341.3h0M250.2 378.3h0M165.3 353h0M206 342.1h0M278.8 379.6h0M127.6 367.5h0M186.6 360.6h0M128.4 349h0M116.8 332.1h0M239.8 352.1h0M190.3 319.8h0M228.5 374.5h0M294.4 342.2h0M175.9 351h0M428.8 339.3h0M239.5 356.9h0M197.2 368.2h0M265.6 310.4h0M431.2 339.3h0M460.2 349.5h0M99.8 342.3h0M235.2 373.6h0M393.1 349.8h0M107.5 353h0M244.2 337.5h0M228.8 343.9h0M341.3 367.9h0M124.8 368h0M351.6 341.4h0M161.8 372.1h0M214.7 335.1h0M436.3 363.8h0M147.3 388.8h0M279.6 346.7h0M117.6 363h0M135.9 320.4h0M140.6 352h0M165.2 313.3h0M219.6 346h0M249.3 353.9h0M354.8 336.5h0M415.6 333.7h0M192 327.6h0M156.4 345.8h0M227.2 335.4h0M385.3 347.3h0M207.9 367.2h0M351.6 348.3h0M463.9 354.6h0M300.4 348.5h0M126.5 332.8h0M167.5 347.4h0M334.9 352.6h0M130.8 350.7h0M255.6 357h0M433.2 371.8h0M369.8 345.7h0M469.2 348.6h0M139.1 342.6h0M177.9 355.1h0M125.8 324.8h0M228.4 348.3h0M180.5 335.1h0M397 354.6h0M250.5 344.5h0M285.9 351.1h0M245.9 350.3h0M405.6 343.6h0M252 353.6h0M230.2 351.4h0M111.2 369.8h0M173.6 369h0M355.9 348.7h0M118.6 336.3h0M164.1 363.5h0M369.3 337h0M375.5 353.5h0M295.4 332.4h0M167.8 386.2h0M240.7 342h0M309.4 352.1h0M337.4 329.7h0M165.5 325.7h0M416 341.1h0M333.5 342.6h0M218.7 362.9h0M455.4 346h0M217.3 352.1h0M308.9 343.7h0M148.6 361.6h0M460.7 349.3h0M120.8 354.1h0M192.6 332.6h0M99.8 342.5h0M445.2 351.1h0M274.8 355.1h0M461.7 342.8h0M296.7 342.7h0M355.8 351.6h0M106.6 331.1h0M289.2 342.2h0M136.4 350.4h0M244 310h0M147.1 366.6h0M100.9 345.6h0M362.8 352.1h0M228.9 349.8h0M93 339.3h0M335.3 341.6h0M134.3 325.1h0M312.6 348.5h0M144.9 361.8h0M116.3 352.4h0M167.2 336.8h0M135 360.8h0M218.9 355.8h0M166.6 335h0M416.3 340.4h0M213.3 387.1h0M154.1 345.3h0M347.4 327.3h0M121.8 357.5h0M107.1 353.2h0M117.4 360.7h0M150.6 354.1h0M431.7 336.2h0M263.4 351.7h0M115.8 349.3h0M103.9 338.1h0M206.8 360.6h0M181 360.3h0M124 357.2h0M210.2 370.4h0M232 343.1h0M167.1 345h0M146.4 319.5h0M327.1 351h0M165.3 384.1h0M130.9 379.2h0M199.4 353.8h0M134.8 329.8h0M191.3 348.9h0M257.1 356.1h0M146.2 346h0M268.1 348.2h0M270.9 336.5h0M184.5 353.1h0M197.1 357.9h0M110.4 340.7h0M340.4 351.5h0M287.8 342h0M102.2 340h0M110.4 359.5h0M154.9 312.7h0M116.6 346.6h0M233.2 351.9h0M149.6 360.6h0M381.1 339.5h0M83 350.5h0M391.3 348.9h0M449.5 341.6h0M143.3 330.1h0M144.1 343.1h0M189.2 383.8h0M346.2 343.7h0M191.3 337.2h0M312.5 353.8h0M294 353.9h0M268.7 341.7h0M99.9 345.1h0M154.4 386.3h0M409.3 349.6h0M108.6 359.6h0M125.3 338.2h0M211.4 339.6h0M238 354.1h0M421.7 350.3h0M134 357.9h0M282.6 349.4h0M132.3 361.2h0M199.9 334h0M129.6 340.3h0M118 333.4h0M145.7 350.8h0M172 326.9h0M159.4 314.3h0M154.8 335.1h0M245.1 341.4h0M185.2 338.9h0M227.1 340.8h0M243.7 350.8h0M208.7 312.1h0M349.5 321.3h0M167 332.2h0M183.6 363.1h0M434 349.3h0M209.5 351.5h0M179.1 363.9h0M173.6 359h0M124.5 362.6h0M236.3 336.6h0M78 352h0M220.2 358.5h0M94.7 361h0M252.3 378.5h0M306.6 351.8h0M325.6 356.5h0M189.7 359.4h0M368.2 353.8h0M234.4 362.2h0M421.9 337.8h0M167.8 357.5h0M121.5 341.4h0M247.5 340.6h0M400.8 354.4h0M270.6 349.8h0M82.2 345h0M453.7 343.1h0M363.5 339.7h0M132.3 365.9h0M141.3 357.7h0M322.5 323.3h0M137.1 347.7h0M149.4 338.2h0M162.3 346.3h0M202.8 369.3h0M212.6 355.5h0M276.2 355h0M126 330.5h0M160.5 341.6h0M263.5 342.4h0M202.8 371.9h0M191.1 312.5h0M200.8 397.4h0M219.7 365.2h0M171.2 357h0M332.5 341.8h0M423.9 341.2h0M131.5 380h0M414.9 339h0M180.1 341.5h0M188.5 367.4h0M189.6 333.1h0M110.2 355.5h0M464 351.9h0M393.3 346.9h0M243.6 354h0M197.8 342.7h0M134.8 342.3h0M250.6 356h0M411 359.9h0M349.7 351.3h0M349.6 369.7h0M366.8 343.1h0M152.3 347.4h0M176.2 345.9h0M218.3 352.6h0M265.2 352.1h0M101.9 348.8h0M213.2 359.8h0M109.1 349.3h0M321.4 338.7h0M126.8 360.4h0M155 365h0M93.1 344.1h0M259.7 353.4h0M306.1 340h0M111.9 360.8h0M169.2 342h0M336.5 320.3h0M194.5 352.4h0M104.1 334.9h0M145.4 365.4h0M149.1 330.9h0M184.1 338.9h0M110.1 375.3h0M140.9 387.6h0M390.3 339.7h0M155.1 324.9h0M303.1 338.2h0M134 345h0M116 363.7h0M163.4 373.3h0M308.4 342.4h0M143.8 334.6h0M320.3 350.5h0M439.4 349.6h0M244.3 352.3h0M287.9 342.6h0M181.7 332h0M381.6 354.4h0M252.5 357.1h0M146.2 340.9h0M369.1 336.9h0M277.5 344.2h0M222.4 351h0M130.2 349.4h0M189.6 316.1h0M95.3 351h0M382.3 343.5h0M157.1 351.6h0M131.2 316.7h0M416.7 343.8h0M330.5 378.2h0M309.5 346.5h0M355.8 345.5h0M151.4 351.1h0M204.2 328.1h0M224.5 368.3h0M312 353.5h0M435.1 349.3h0M152.3 334.2h0M202.6 346.1h0M371.3 349.4h0M165.1 322h0M199.5 369.9h0M277.5 336.2h0M199.6 333.1h0M289.6 338h0M382.3 338.5h0M117.2 347h0M174 363h0M245.8 353.4h0M170 328.1h0M140.7 369.3h0M311.2 349.6h0M88.6 347.5h0M207.1 365.4h0M130 320.5h0M218.1 349.3h0M178.9 331.8h0M306.9 340.2h0M232.5 352.4h0M465.1 342.9h0M105.8 339h0M141 322.1h0M117.9 371.9h0M293 346.2h0M227 355.6h0M158.7 337.1h0M171.8 378.9h0M103.9 338.6h0M118.1 369.6h0M156.8 369.6h0M371.2 352.1h0M126.5 333.6h0M223.5 331.7h0M229.3 364.4h0M210.7 350.8h0M242.5 357.4h0M460.2 346.1h0M91.9 359h0M227.2 340h0M264.1 350.6h0M91.9 347.6h0M82.2 353.7h0M242.4 347.9h0M150.1 359.6h0M147.1 347.3h0M145.3 317.3h0M228.6 333.7h0M449.9 348h0M233.4 381.2h0M236.4 393.3h0M173 381h0M251.4 339.2h0M234.5 355.2h0M281.8 350.7h0M318.9 327.6h0M269.4 351.6h0M388.8 359.3h0M241.1 348.4h0M151.4 341.1h0M328.1 345.4h0M268.3 345.5h0M192.8 317.9h0M163.5 318.9h0M177.7 342.6h0M347.2 347.6h0M288.1 352.3h0M159.9 314.7h0M245.9 358.2h0M189.6 341.8h0M153 348.3h0M364.8 352.4h0M218.7 346.9h0M170.4 354h0M189.7 353.1h0M409.3 334.6h0M249.9 345.4h0M204.7 336.2h0M394.5 342h0M319.7 352.1h0M353.7 352h0M237.2 343h0M366.3 328.8h0M191 324.1h0M364.2 354.4h0M336.8 347h0M344.6 378h0M217.6 352.7h0M324.4 352.1h0M264.6 347.8h0M174.8 335.5h0M252.9 346.2h0M168.1 350.3h0M206.1 378.2h0M216.3 337.1h0M271.4 346.6h0M96.1 345.8h0M171 338.9h0M124.5 334.7h0M419.5 356.6h0M228.8 328.1h0M264 339.7h0M190.8 371.7h0M211.1 339.2h0M343.9 343.1h0M195 350h0M248.6 348.9h0M110.3 353.5h0M115.6 356.9h0M114.3 344.4h0M173.1 350.5h0M257.2 338.2h0M205.7 334.8h0M91.9 349.8h0M82 345h0M214.1 343.9h0M320.9 341.9h0M270 334h0M144.6 346.7h0M126.1 353.6h0M408.1 345.1h0M198 356.1h0M179.6 364.1h0M234.9 346.9h0M199.4 353.2h0M189.6 383.9h0M190.8 349.3h0M245.7 357.8h0M442 346.1h0M231.5 351.3h0M400.7 353.4h0M234.1 323.9h0M275.4 379.2h0M320.1 344.9h0M149.5 371.6h0M310.2 358.4h0M335 328.9h0M214.8 333.8h0M332 349.5h0M193.8 355.3h0M293.3 344h0M177.3 359.5h0M162.7 355.9h0M269.6 353.6h0M175.5 323.5h0M157.8 366.1h0M437.2 334.3h0M122.7 329.4h0M469.5 345.7h0M456.9 335.6h0M247.9 359.9h0M279 348.7h0M212.5 335.5h0M192 327.7h0M266.1 340.9h0M167.5 337.9h0M255.8 346.3h0M246.1 349.7h0M195.8 349.7h0M128.8 338h0M354.8 353.8h0M141.6 338.5h0M190.6 298.9h0M238.5 322.6h0M282.1 371.6h0M102.7 353.8h0M299.5 353.7h0M399.3 340.1h0M176.3 337.9h0M112.3 331.4h0M284.8 346.4h0M145.1 339.7h0M191.8 347.7h0M404.6 360h0M114.9 363.3h0M147.2 350.3h0M118.4 313.2h0M154.6 341.9h0M277.3 345.7h0M413.4 334.8h0M382.3 358h0M158 347.5h0M350.7 310.4h0M301.1 339.1h0M244.8 315.8h0M203.7 369.9h0M117.2 361.1h0M243.3 353.4h0M152 364.6h0M128.2 359.7h0M184.7 363.6h0M233.9 344.5h0M368.3 349.2h0M457.7 343.5h0M185.7 343.5h0M248.4 347.1h0M310 356.6h0M99.1 341.1h0M179.1 345.4h0M193.2 336.5h0M260.8 349.9h0M200.4 317.4h0M94.7 370.7h0M219.3 368.1h0M98.2 359.5h0M121.1 373.6h0M311.3 342h0M200.4 376.7h0M320.5 323.1h0M301.3 336.9h0M105.6 357.3h0M189.6 372.2h0M240.2 375.6h0M240.4 361.1h0M231.1 341.7h0M98.5 355.7h0M271.3 353h0M197.6 359.1h0M170.8 376.7h0M111.5 365.5h0M147.5 356.1h0M342.6 320.6h0M206.7 343.6h0M457.9 336.3h0M428 340.8h0M104.2 352.1h0M399.7 329.5h0M456.6 338.3h0M155 340.7h0M127.8 353.1h0M238.9 356.2h0M278 342.6h0M225.6 341.2h0M97.2 345.3h0M169.2 364.7h0M261.6 376.7h0M432.1 347h0M189.6 351.4h0M175.8 360.2h0M109.9 333.8h0M147.8 366.2h0M213.7 346.1h0M169.8 322.9h0M240.7 336.9h0M307.9 339.3h0M440.9 346.1h0M175.7 342.5h0M169.7 352h0M195.1 343.6h0M359 356.7h0M114.8 360.6h0M95.6 364.4h0M206.2 334.9h0M134 366.1h0M279.1 342.4h0M97.6 339.9h0M298.6 352.9h0M292.8 342.4h0M114.7 329.3h0M336.7 333.2h0M273.2 316.6h0M87.3 336.2h0M288.7 347.1h0M144.2 342.9h0M277.5 356.3h0M263.6 336.6h0M214.4 373.3h0M295 315.2h0M101.9 347.2h0M460.8 332.3h0M114.8 354.3h0M155.6 321h0M192.6 340.4h0M421.7 340.3h0M445.2 367h0M331.8 346.6h0M271.7 309.9h0M177.3 336.3h0M284.1 347.5h0M154.4 356.4h0M131.3 379.6h0M142.2 346.5h0M97.8 339.9h0M160.3 329h0M307.7 352.7h0M176.7 341.9h0M113.4 354.7h0M419 345.3h0M142 327.9h0M116.8 386.8h0M400.3 343.3h0M97.6 340.7h0M211.5 338.7h0M377.3 346h0M287.3 328.8h0M275 355.5h0M211 359.7h0M264.3 353h0M111.1 326h0M466.3 347.5h0M207.3 351.4h0M189.7 359.2h0M210.2 296.5h0M163.1 318h0M287.1 346.4h0M95.4 353h0M240.9 342.6h0M152.3 374.6h0M175.3 380.8h0M137.8 331.7h0M198.7 349.2h0M108.8 335.2h0M164.3 343.4h0M312 328.2h0M269.3 338.9h0M197.9 362.4h0M220 342.2h0M247.8 363.8h0M282.6 334.1h0M220.2 357.6h0M200.6 359h0M389.8 342h0M150.8 345.9h0M202.4 351.6h0M325.6 350.2h0M124.4 350.9h0M245.8 380.1h0M212.8 343.7h0M408.9 353.4h0M108.1 337.2h0M219.9 369.6h0M213.5 334.6h0M159.9 348.4h0M97.5 337.8h0M161.4 336.9h0M242.7 337.2h0M190.7 366.1h0M233.7 356.5h0M80.3 347.4h0M111.5 345.6h0M294.7 348.4h0M467.3 354.9h0M98.5 346.6h0M127.5 362.3h0M139.2 350h0M173.2 323.2h0M110.5 369.4h0M142.4 362.5h0M91 338.5h0M154 356.8h0M455.6 330.3h0M159.6 344.4h0M120.2 348.7h0M313.2 342.4h0M181.4 339.3h0M284.7 355.5h0M139.3 346.9h0M343.2 343.8h0M127.7 331.2h0M171.9 372h0M218.5 343.2h0M202.1 361.1h0M122.7 336.4h0M248.7 347.7h0M361.2 338.5h0M166.3 352.1h0M100.7 338.5h0M123.6 336.6h0M252.7 348.2h0M270.2 356.1h0M340.6 341.8h0M108.2 337.9h0M198.9 370.5h0M207.2 381.5h0M154.6 384.1h0M330.3 344.2h0M234.5 350.7h0M126.3 348.3h0M316 371.9h0M206 348.7h0M118.2 369.9h0M132.5 337.1h0M128 348.2h0M243.7 317h0M87.6 348.6h0M129.9 337h0M188.5 356.3h0M468.3 348.1h0M100.6 364.9h0M315.5 341h0M139.8 364.4h0M163.9 336.6h0M136.9 353.4h0M216.3 364.7h0M195.9 350.3h0M136.1 370.3h0M106.9 357.7h0M160.3 349.2h0M389.9 335.4h0M218.2 355.6h0M271.5 354.5h0M282.4 347.3h0M138.1 354.9h0M331.4 349.6h0M261.7 346.9h0M163.8 321.4h0M230.4 376.6h0M234.2 372.9h0M197.7 380.4h0M242.6 337.8h0M267.5 343.2h0M103.3 335.1h0M146.6 333.2h0M202.9 353.9h0M122.6 344.7h0M152.8 355.5h0M101 350.2h0M216 364.9h0M113.6 361.5h0M310.3 349.6h0M296.7 321.6h0M245.4 361.6h0M157.3 358.7h0M200.4 362.7h0M330.7 344.7h0M161 346.1h0M320.5 352.2h0M111.5 315.7h0M130 363.7h0M375.5 349.7h0M114.7 331h0M131.4 345.8h0M236.1 339.4h0M329.9 346.6h0M201.1 339.5h0M396 343.1h0M144.4 356.3h0M257.5 353.1h0M231.5 361h0M236.4 360.2h0M296.5 347.5h0M173.8 340.9h0M82.3 345.5h0M100.3 344.1h0M389.7 343.5h0M270.5 356.1h0M271.2 348.3h0M221.3 389.6h0M202.8 351.6h0M255.9 334.5h0M184.9 328.8h0M128.7 355.8h0M184.1 317h0M303.7 338.5h0M451.3 340h0M269.9 330h0M348.5 342.9h0M292.8 355.1h0M317.3 371.5h0M195.7 346.4h0M337.3 385.2h0M399.8 348.9h0M458.7 338.9h0M146.7 325.3h0M227.1 361.8h0M214.9 333.7h0M407.7 360.5h0M100 337.8h0M380.8 348.5h0M407.7 346h0M155.3 339.8h0M160.4 333.7h0M180.3 361.3h0M357.9 348h0M369.6 336.4h0M434.1 350.1h0M293.6 350.6h0M154 353.6h0M208.5 361h0M168 367.2h0M399.6 335.4h0M244.9 373.5h0M254.2 348.3h0M233.6 348.4h0M138.1 312.5h0M426.7 359.7h0M411.7 340.6h0M110.8 353.3h0M131.2 357.4h0M229.5 325h0M141.7 346.3h0M166.6 346.6h0M95.9 353.7h0M171.8 341.1h0M305.7 342.9h0M172.8 338.3h0M178.4 337.6h0M240.4 340.1h0M316.1 340.3h0M445.6 328.3h0M346.7 361.8h0M162.6 346.5h0M133.4 355.6h0M258 338.5h0M160.2 336.2h0M305.1 344.5h0M332.7 346.9h0M330.7 340.6h0M261.6 342h0M170.8 346.8h0M345.1 346.6h0M295.4 315.1h0M188.2 368.3h0M374.5 330.5h0M201.2 333h0M112.3 323.1h0M190.5 369.2h0M189.1 350.5h0M188.3 328.6h0M254.5 359.2h0M264.8 355.5h0M216.1 359.1h0M198.3 357.3h0M315.1 353.4h0M103.9 334.5h0M142.5 365.5h0M386.5 350.3h0M265.3 320.9h0M448.4 352.9h0M381.2 338.4h0M232.7 347.9h0M163.6 338.1h0M107.7 341.3h0M119.3 344.2h0M170.7 332.8h0M225.2 334.7h0M303.6 343.3h0M131.3 378h0M161.1 349.4h0M364.8 371.3h0M431.5 337h0M346 315.3h0M204.3 397h0M345.8 343.5h0M210.4 351.7h0M282 351.8h0M185.4 313.8h0M242 346.9h0M183.8 334h0M96.9 332h0M324.3 324.9h0M140.3 339.2h0M213.4 334.5h0M170.2 343.7h0M392.2 343.8h0M365.4 351.5h0M259.5 374.2h0M122.8 341.9h0M294.2 354.8h0M131 335h0M136.8 330.9h0M148 335.3h0M205.5 350.3h0M129.3 338.7h0M197.5 357.4h0M297 340.8h0M202.9 336.3h0M228.4 327.3h0M228.8 345.5h0M349 339.5h0M268 341.1h0M218.8 342.9h0M270.7 371h0M165.8 357.9h0M227.7 339.6h0M245.5 330.3h0M101.3 359.5h0M194.3 323.3h0M253.4 339.5h0M305 337.5h0M282.1 350.2h0M299 337h0M158.4 359.9h0M399.9 341.9h0M383.8 339.4h0M422.2 354h0M242.3 341h0M306 347.4h0M194.2 349.6h0M177.8 367.3h0M255.4 357.3h0M255.2 357.9h0M163.2 350.3h0M371 351h0M292.1 347.9h0M213.7 339.7h0M225.8 346.4h0M310.5 339.9h0M185.4 336.3h0M232.6 350.3h0M201.2 328.1h0M176.2 331.6h0M335.1 383.8h0M160.8 360.7h0M171.1 375.2h0M163.6 332.3h0M397.8 339.9h0M359.7 343.1h0M221.3 359.4h0M144.3 324.4h0M196.8 341.8h0M244.8 326.8h0M149.5 348.7h0M282.2 351.9h0M204.1 356.3h0M131.2 376.5h0M223.4 337.7h0M375.4 334.8h0M146.2 351.6h0M393.4 334h0M128.4 371.8h0M226.2 359.4h0M136 339.8h0M194 340.1h0M264.9 329.6h0M412.1 345.2h0M95.1 356.8h0M102.8 361.4h0M199.5 337h0M169.1 339.3h0M180.1 353.4h0M182 363.3h0M330.8 346h0M229.6 341.2h0M195.4 335.7h0M187.8 349.3h0M319.4 337h0M250.5 358.5h0M242.8 349.6h0M169.6 376.2h0M242 360.9h0M171.8 382.7h0M165.5 318.8h0M198.9 370.2h0M465.4 355.9h0M181.7 310.9h0M136.9 366.5h0M229.9 335.7h0M369.6 343.4h0M161.3 359.2h0M148.7 321.4h0M177.8 332.1h0M332.4 346.4h0M418.7 360.9h0M259.6 341.6h0M161.3 340.5h0M168.6 330.5h0M189.5 339.1h0M161.1 349.8h0M218 360h0M179.1 327.3h0M432.9 355.8h0M127.1 377h0M155.1 357.2h0M89.4 351.4h0M347.9 343.8h0M268.1 320.9h0M229.8 358h0M208.3 357.8h0M135.6 343.2h0M320.5 356.7h0M326.5 373.6h0M416.1 348.4h0M437.1 353.9h0M200.2 346.1h0M341.4 322.3h0M144.2 345.4h0M146.4 336.8h0M168.5 328.2h0M122.9 347.6h0M312.5 345.7h0M205.5 364.4h0M229.5 360.8h0M142.7 344h0M304.5 338h0M184.8 331.7h0M322.9 371.7h0M235.5 348.9h0M188 349.1h0M190.9 326.6h0M281.7 342.2h0M338 351.4h0M291.6 344.1h0M99.1 368.8h0M203.9 335.8h0M263.6 346.8h0M338.1 349.7h0M208.5 359.7h0M422.4 341.9h0M270.2 374.6h0M158.1 332.5h0M229.8 335.2h0M227.4 333.4h0M118 355h0M153.5 363.5h0M354.9 348.7h0M196.4 374.7h0M135.4 353h0M175.5 344.7h0M173.4 345h0M118.7 337.1h0M343.5 343.1h0M391.4 342.5h0M425.3 352.7h0M251.3 301.4h0M317.2 361h0M167.1 352.8h0M161 346.2h0M250 342.6h0M287.7 349h0M360.9 340.8h0M244.4 378.5h0M109.8 345.6h0M201.3 336.1h0M176.4 344.9h0M239.7 342.7h0M232.3 348.9h0M229.1 346.3h0M164.7 339.8h0M270.1 386.7h0M219.8 335.5h0M167.5 367h0M140.1 354.2h0M273.5 343.1h0M200.3 327h0M251 359.5h0M220.1 343.3h0M327.2 340.4h0M97.6 346.5h0M227.6 351.7h0M149.5 370.2h0M261.5 367.2h0M208.2 363.5h0M153.3 387.7h0M227.3 356.7h0M215.3 361.8h0M221.9 349.4h0M211.3 333.2h0M390 349.6h0M349.3 342.3h0M313.8 340.9h0M245.6 382.2h0M226.7 346.2h0M457.3 340.5h0M309.3 340.3h0M297.7 349.8h0M209.1 359.7h0M233.4 361.1h0M350.9 345.3h0M244.5 384.2h0M392.7 347h0M97.5 337.5h0M368.7 344h0M280.6 353.6h0M195.3 344.9h0M297.4 317.7h0M225.2 344.3h0M210.9 332.5h0M356.9 344.3h0M261.2 347.2h0M305.5 348.9h0M120.5 364.8h0M247 354.2h0M102.4 333.4h0M231.2 339.9h0M121.5 312h0M136.2 372.7h0M356.1 357h0M381.5 344.6h0M389.2 353.9h0M335.9 361.8h0M82.3 348.5h0M179.1 365.2h0M123.9 389.7h0M438.8 340.2h0M151.1 351.7h0M112.9 323.7h0M169 371.8h0M140.8 358.3h0M180.4 361.6h0M171.5 347.7h0M115.3 348.7h0M299.3 347.5h0M147.9 322.1h0M120 365.7h0M308.7 349.6h0M399.1 356.1h0M130.5 378.9h0M124.1 344h0M322.4 341h0M274.3 350.9h0M210.5 364.7h0M117.8 354.8h0M114.1 344.2h0M147.4 353.8h0M117.9 353.3h0M136.8 357.7h0M206.5 328.3h0M109.6 344.4h0M182.9 367.8h0M198.6 339.1h0M291.7 375.5h0M125.5 354.9h0M127.5 324.1h0M340.8 341.9h0M292.3 339.6h0M264.9 353.9h0M265 343h0M319.7 360.4h0M352.3 339.8h0M387.2 355.5h0M330.5 345h0M186.5 350.1h0M322.9 368h0M136.8 333.8h0M106.8 368.4h0M356 349.6h0M219.8 336.5h0M321 366.7h0M301.4 346.7h0M358.9 352.1h0M465.4 342.6h0M181.3 370.5h0M240.9 343.4h0M404.1 336.6h0M185.8 340.3h0M433.4 347h0M143.3 356h0M301.4 310.7h0M281.3 347.8h0M333.3 346.4h0M173.9 317.6h0M464.6 371.5h0M346.3 350.5h0M258.9 309.1h0M113.9 343.7h0M328 376.4h0M104.4 338h0M381.1 350.9h0M148.8 376.9h0M212.2 362.5h0M242.2 322.1h0M270.9 338.3h0M298.4 346.2h0M230.6 347h0M428.7 338.4h0M294.1 327.1h0M118.6 387.2h0M342.3 345.6h0M115.3 339.2h0M86.5 353.2h0M165.5 338.8h0M104.5 343.5h0M126 380.9h0M170.6 367.6h0M213.7 348.5h0M332.7 351.7h0M203.3 380h0M219.1 340.7h0M139 368.1h0M247.7 344.3h0M307.1 346.8h0M292.6 342.3h0M147.8 369.6h0M232.6 340.7h0M178.3 339.4h0M226.3 329.8h0M297.9 343.7h0M121.9 346.8h0M313.8 352.1h0M179.8 339h0M183.4 331.6h0M134 375.7h0M232.7 297.4h0M398.6 338.1h0M105.5 343.5h0M315.5 361.1h0M149.5 345.1h0M364.1 339.6h0M213.7 307.7h0M216.5 351.9h0M215.4 359.1h0M181.2 363.5h0M293.6 357.8h0M204.3 352h0M465.2 348.4h0M112.1 340.7h0M121.3 334h0M137.9 314.9h0M183.3 368.3h0M175.9 362.7h0M140 322.9h0M236.8 328h0M269.6 330.5h0M391.7 343.4h0M155.9 359.5h0M143.7 350.5h0M113.1 351.7h0M260.9 339.7h0M342.7 356.4h0M187.6 380.6h0M136.7 338.6h0M181.3 347.1h0M239.3 339.8h0M184.8 351.5h0M353.4 352.8h0M266 380.3h0M444.6 340.6h0M260.3 368.3h0M136.4 367.3h0M82 350.4h0M250.2 363.7h0M117.3 356.5h0M85.9 353.7h0M117.2 344.8h0M427.2 351.6h0M177.5 360.7h0M184.2 342.3h0M176.1 351.6h0M287.1 346.2h0M294.7 331h0M183.8 381.6h0M129.5 361.6h0M174.7 342.2h0M444.4 342.8h0M305.4 344.5h0M272.8 348.4h0M213.1 347.1h0M243.8 347.5h0M139.2 381.1h0M238.3 339.4h0M143.5 361.8h0M203 307.1h0M189.1 304.6h0M218.2 307.1h0M252.1 302.4h0M168.1 295.1h0M232 297.1h0M234.3 301.4h0M162 298.3h0M238.3 305.2h0M179.8 295.1h0M271.7 301.6h0M255.7 385.5h0M254.1 393.4h0M147.7 387.7h0M270.6 386.9h0M304.6 386.7h0M346.1 386.4h0M209.3 391.9h0M174.8 388.8h0M189.8 389.7h0M176.1 389.2h0M200.7 388.4h0M316.8 386.9h0M193.1 393.2h0M296.3 386.6h0M205.7 388.6h0M250.1 388.3h0M236.2 385.7h0M220.1 393.4h0M174.7 388.8h0M188.9 388.7h0M264.5 391.1h0M163.1 385.9h0M185.7 394.3h0M302.2 385.6h0M133.4 385.3h0M255.3 386.5h0M318.7 389.5h0M210.5 387.6h0M324.3 387.4h0M201.6 388.3h0M299.6 386.3h0M319.1 387.7h0M198.6 385.5h0M208.8 389.7h0M525.9 354h0M525.9 348.6h0M525.9 345.3h0M524.8 343.4h0M523.3 352.3h0M522.3 349h0M521.8 345.2h0M522.5 342.5h0M520.1 354h0M519.1 348.7h0M518.9 345.7h0M519.6 341.8h0M515.3 353.7h0M515.4 349.2h0M515.2 345.3h0M515.9 341.6h0M512.4 352.3h0M512.1 348.6h0M512.2 346.3h0M512.8 342.3h0M510.5 353.6h0M510.6 350.1h0M510.2 345.1h0M509.8 342.7h0M507.5 353.4h0M506.3 349.6h0M505.6 345.8h0M506.8 342h0M502.9 353h0M502.8 349h0M504.3 345.3h0M503.1 343.3h0M499.8 352.8h0M500.8 350.2h0M500.3 346.8h0M499.4 342.4h0M496.8 353.7h0M496.3 349h0M496.1 346.5h0M496.3 341.7h0M492.8 352.9h0M493.6 349.8h0M494.4 345.6h0M494.1 343.5h0M489.7 353.4h0M490.5 349.8h0M491.3 346.9h0M490.8 342.4h0M487.8 353.2h0M488.2 349.1h0M487.9 346.1h0M486.5 342.8h0M483.5 353h0M484 350h0M485.2 345.2h0M484.7 342.1h0M481.1 353.8h0M480.5 349.6h0M481.6 346.4h0M480.9 342.1h0M477.4 353.2h0M478.2 349.4h0M476.9 345.4h0M477.9 341.6h0M474.9 352.7h0M474 349.7h0M474.2 346.6h0M473.9 341.7h0M472.1 352.6h0M472.4 348.6h0M471.6 345.8h0M471.7 343.4h0M467.4 352.4h0M468 350.2h0M467.3 345.2h0M467.3 342.4h0M464.1 353h0M465.1 349.2h0M465.3 345.1h0M464.6 341.8h0M134.2 284.2h0M159.5 290h0M160 292h0M179 288.2h0M130.7 296.7h0M144.2 297h0M194.7 296.7h0M242 228.7h0M257.7 265.3h0M258.8 269.7h0M270 273h0M272 271.7h0M265 278.7h0M255.5 280h0M205.3 276.7h0M200.3 282.8h0M220 286.3h0M202.3 293h0M216.7 293.3h0M235 295h0M288.3 290.8h0M294.2 290.8h0M323.7 267.2h0M349.7 295h0M310 297h0M135 304.7h0M141.2 304.7h0M143.8 297h0M150.8 296.3h0M147.5 306.3h0M125.8 304.7h0M158.3 290.8h0M96.7 318h0M113 317.5h0M109.2 313h0M143 392.8h0M130.3 394.7h0M136.7 410h0M152 413.8h0M158.7 410.8h0M172.5 398h0M175.8 402.5h0M173.3 408.3h0M175.3 410h0M166.3 404.2h0M156.7 394.2h0M160.8 392h0M168.3 396.7h0M121.7 390.8h0M201.7 434.2h0M212.5 416.2h0M214.5 420.8h0M249.5 417h0M271.7 401.2h0M227.5 401.3h0M222.5 400h0M245 404.2h0M218 398.3h0M198.3 402h0M186.7 400.8h0M185 397.5h0M180.8 419.2h0M182 420.8h0M201.7 390.3h0M253.3 396.7h0M302.5 393.3h0M391.3 378.8h0M481.4 325.4h0M488.7 337.3h0M551 349.9h0M546.8 345.2h0M547.2 348.2h0M542 345.7h0M539 348.2h0M534.5 349.3h0M532.2 346h0M527.7 346h0M521.7 343h0M523.2 349.3h0M518 346h0M515 344.8h0M512 347.5h0M507.5 345.2h0M503.7 346h0M500 353.5h0M501.5 348.2h0M495.5 347.2h0M492.5 343h0M491 349.3h0M485 346h0M480.5 344.2h0M476 344.5h0M471.5 346h0M474.5 352h0M399.2 304.5h0M408.7 311.2h0M411.7 316.2h0M418.3 313.7h0M438 322.2h0M288 291.3h0M294.2 290.3h0M350 294.7h0M348.3 300.8h0M298.7 303.3h0M355 309.7h0M362.5 310.8h0M365.8 312.5h0M481.5 326h0M489 337.5h0M500 354h0M521 343h0M517 345h0M418.2 328.7h0M334.5 323.5h0M221.1 365.5h0M321.7 377.9h0M448.3 359.3h0M428.2 351.3h0M258.9 356.6h0M287.6 377.7h0M334.1 360.7h0M339.5 319.6h0M352.3 356.5h0M394.4 357.9h0M350.6 330.9h0M302.8 383.7h0M271.6 334.1h0M233.6 377.3h0M438.2 366.3h0M335.5 324.7h0M324.7 311.1h0M274.6 334.1h0M166.7 368.7h0M333.4 318.4h0M327.8 336.8h0M354.6 337h0M441.4 338.8h0M303.5 366.3h0M324.3 325.9h0M321 316.5h0M232.1 317.1h0M385.6 362.4h0M340.9 365.1h0M325.2 341.7h0M241.4 330.3h0M177.9 326.4h0M329.6 360.4h0M297.7 336.8h0M150.6 381.5h0M419.5 334.3h0M185.2 324.3h0M337.4 357.9h0M356.2 383h0M275.3 318.7h0M237.7 371h0M429.6 363.8h0M369.5 321.2h0M225.4 368.7h0M399.7 358.4h0M263.4 319.7h0M268.5 320.1h0M236.3 335.5h0M271.2 327h0M268.7 320.6h0M182.6 316.5h0M347.9 375h0M350.5 332h0M166.8 319.2h0M243.7 322.6h0M351.3 316.9h0M215.8 367.1h0M343.8 356.6h0M415.4 329h0M220.6 372.5h0M299.8 317h0M231.3 325.7h0M185.2 381.6h0M392.1 364.7h0M430.6 329.2h0M376.4 320.1h0M225.6 330.1h0M165.1 313h0M264.6 328.6h0M335.7 383.2h0M153.4 336.1h0M195.6 379h0M212 373.5h0M258.2 373.8h0M227 334h0M301.4 329.9h0M298 327.2h0M248.2 315.9h0M170.5 377.6h0M246.7 325.5h0M229.8 378.6h0M367.7 316.7h0M315.7 369.5h0M215.8 377.7h0M328.3 369.3h0M290.1 380.9h0M386.1 338.5h0M254.1 335.1h0M361 329.9h0M229.3 333.6h0M352.6 325.4h0M275.3 331.9h0M343.9 361.1h0M246.9 340h0M211.2 325.3h0M230.3 326.4h0M346.9 335.8h0M330.2 321.8h0M190.5 332.3h0M315.1 312.1h0M414.4 368.1h0M423 357.1h0M311.7 338.4h0M366.6 351.3h0M301.9 311h0M282.6 371.1h0M270.3 370.1h0M368.3 357h0M183.9 324.3h0M339.1 360.6h0M182.1 319.3h0M385.5 369.4h0M361.8 332.7h0M426.2 336.1h0M328.5 325.1h0M230.1 380.4h0M134.3 363.6h0M203.7 315.3h0M168.1 384h0M239.8 312.1h0M301.7 344.8h0M203.1 329.4h0M400 339.7h0M362.6 324.7h0M283.5 313.4h0M442.4 357.1h0M346.6 360.9h0M405.1 370h0M427.2 330.1h0M460.2 353.8h0M420.9 365.1h0M354.4 320.8h0M395.6 338h0M327.8 370.9h0M240.3 372.1h0M268.7 319.9h0M260 311.8h0M238.5 321.1h0M283.8 337.4h0M357.9 327.5h0M123.3 347h0M244.4 360.9h0M431.1 327.4h0M322.4 335.8h0M264 325.3h0M347.9 361.6h0M162.5 316.3h0M340.2 382h0M263.5 381.8h0M171.5 317.9h0M266.3 366.2h0M259.7 336.3h0M212.9 381.3h0M321.7 327.7h0M269.7 311.7h0M181.7 370.2h0M323.8 370.4h0M225.7 369.2h0M294.1 353h0M406.2 331.5h0M336.1 374.7h0M281.1 333h0M417.1 363.4h0M299.6 369.9h0M267.8 380.9h0M291 311.7h0M319.7 322.6h0M441.5 364.3h0M318.2 354.4h0M412.7 355.8h0M173.6 318.3h0M286.6 330.3h0M204 370.1h0M247.2 329.4h0M270.7 373.1h0M414.8 330.4h0M333.8 309.3h0M399.4 364.6h0M227.4 315.5h0M202.7 382.2h0M237.3 380.9h0M466.1 355.5h0M322.5 368.8h0M213.8 328.5h0M325.9 374.8h0M238.2 323.4h0M378.6 356.3h0M427.7 338.4h0M253.8 359.1h0M246.4 331.7h0M271.3 365.4h0M217.3 373.1h0M170 312.9h0M449.1 370.6h0M128.4 332.7h0M283.8 341.4h0M400.1 376.2h0M173.6 327.3h0M264.8 329.3h0M326.8 363h0M316.6 380.7h0M195.9 375.6h0M329.3 316.6h0M312.5 315.6h0M318.1 360.2h0M351.7 320.9h0M328.5 326.1h0M226.9 324.5h0M420.5 325.6h0M371.4 355.8h0M275.3 362.9h0M234.2 382.5h0M416.2 333.9h0M247.7 363.4h0M364.7 376.1h0M169.1 327h0M174.7 331.6h0M372.2 356h0M221.7 383.5h0M431 359.4h0M387.8 339.2h0M138 372h0M371.9 376.8h0M125.8 381.1h0M252.9 377.2h0M270.4 325.9h0M271.7 322.9h0M404.1 334h0M205 316.3h0M269.9 377.5h0M312.7 317.2h0M399.6 367.8h0M331.7 363.7h0M347.1 319.8h0M299.7 355.9h0M294.3 364.6h0M299.8 320.5h0M295.9 353h0M442.1 368.2h0M366.6 331.7h0M148.4 327.6h0M409.6 356.5h0M375.8 340.7h0M171.5 318.2h0M447.4 360.7h0M213 375.2h0M275.4 366.9h0M289.7 354.9h0M447.7 335.8h0M284.2 368.4h0M197.6 324.7h0M137.8 323.3h0M391.9 331.2h0M255.4 362.4h0M276.1 379.8h0M224.4 323.8h0M278.2 378.1h0M298.3 336.8h0M263.8 326.6h0M363 326.8h0M285.6 331.5h0M346.8 371.9h0M243.1 320.7h0M328.3 326.4h0M165.8 309.8h0M355.8 374.3h0M200.9 325.9h0M314.8 325.1h0M303.9 371.4h0M190.5 331.3h0M404.1 365.1h0M322.6 339.8h0M292.6 331.2h0M297.3 337.6h0M257.8 373h0M419.5 358.1h0M350.1 314.6h0M209.4 324.9h0M394.6 343h0M287.5 331.1h0M357.3 329.7h0M291.1 336.2h0M276.3 363.2h0M276.2 356.6h0M375.9 319.2h0M297.1 317.1h0M318.3 359.9h0M329.1 366.7h0M206.6 315.4h0M356 311h0M271.7 337.5h0M440.7 332.7h0M272.7 362.5h0M223.6 374.1h0M414.6 366.7h0M355.8 369.4h0M308 353.6h0M191.3 371.3h0M175.5 333.6h0M272.7 368.7h0M262.6 380.8h0M300.4 337h0M322.4 335h0M159.1 327.1h0M169.3 339.4h0M396.1 325.9h0M207 323.9h0M258.1 317.7h0M292.6 329.6h0M427.6 337.7h0M270.5 357.8h0M339.7 353.6h0M271.3 341.3h0M387.3 335.7h0M303.8 318.7h0M412 363.2h0M298 322.1h0M229.9 367h0M254.5 379.4h0M399.8 371.9h0M239.2 311.7h0M422.7 336.6h0M165.3 375.6h0M269.1 377h0M281.4 309.2h0M248.9 336.3h0M236.5 372.1h0M279.9 315h0M340.5 333.7h0M316.9 320.1h0M156.6 324.6h0M269.8 383.2h0M250.8 318.7h0M181.9 373.5h0M139.1 312.7h0M322.8 323.2h0M336.7 329.7h0M455.8 337.3h0M208.4 313.4h0M345.7 315h0M380.8 357h0M275.6 372.8h0M466.5 331.5h0M242.4 326.5h0M206.6 316.3h0M267.4 321.9h0M146.8 376.9h0M284.2 354.7h0M296.8 315.8h0M334.8 367h0M395.1 362.6h0M115.7 319.9h0M385.8 330.3h0M451.7 351.2h0M193.6 366.8h0M304.1 343.6h0M390.8 354.4h0M185.1 378.6h0M413.1 355.2h0M322.8 357.2h0M327.4 361.3h0M374.8 331.2h0M340.6 318.4h0M315.5 370.3h0M325.5 374.9h0M314.5 382.4h0M159.8 310.3h0M208.4 370.5h0M211 367.4h0M303.4 338.3h0M323.2 324.4h0M239.3 328.2h0M367.3 335.6h0M318.1 356.1h0M334.7 335.1h0M380.3 355.7h0M274.1 379.7h0M454.4 368.6h0M301.4 356h0M312.7 313h0M230.4 363.3h0M343.4 314.6h0M148.3 324.6h0M254 335.2h0M343.9 324.6h0M379.2 314.5h0M255.7 313.8h0M340.2 328.7h0M176.7 319.9h0M306.6 384.1h0M411.1 333.7h0M444.2 339.2h0M436.8 354.6h0M199.9 370.8h0M169.9 325.5h0M236.3 363h0M254.3 335.3h0M323.5 366.5h0M314.2 377.4h0M294.5 353.8h0M239.1 313.4h0M186.3 334.6h0M237.4 327.9h0M390.6 332.2h0M295.3 374.9h0M284.1 314.1h0M371.4 328.7h0M396.8 353.2h0M183 372h0M375.2 353.9h0M352 376.3h0M184.5 312.3h0M336 324h0M198.9 314.2h0M451.1 353.8h0M227.2 372.4h0M348.7 315.5h0M308.6 374.8h0M139.1 373.6h0M264 320.9h0M231.4 365.4h0M412.3 336h0M174.2 381.9h0M296.2 383.1h0M195.9 378.9h0M143.8 331.2h0M440.2 359.1h0M267.3 377.8h0M444.9 356.4h0M444.7 341h0M371.5 334.7h0M207.6 330.3h0M295.3 328h0M424.6 360.9h0M325.1 316.6h0M406 361.6h0M430.1 333.4h0M305.5 367.4h0M298 324.7h0M174.7 315.1h0M340.2 333.9h0M426.4 364.1h0M253 315.2h0M332.7 314.8h0M273.6 368h0M412.2 358.9h0M223 326.3h0M217.3 312.6h0M448.3 327.7h0M156.1 383.4h0M239.2 334h0M205.7 376.3h0M259.9 313.2h0M342.7 369.6h0M221.7 309.4h0M251.6 335.5h0M290 379.1h0M326.1 311.9h0M250.4 373.3h0M274.7 314.2h0M311.5 329.9h0M220.8 320.4h0M383.8 367.3h0M457.4 365.3h0M296.5 316h0M265.7 339.7h0M160.7 326.4h0M273 357.2h0M320.6 360.1h0M286.7 316.3h0M292.7 358.1h0M406.4 331.7h0M227 373.2h0M337.5 363.7h0M301.9 316.3h0M190.8 318.9h0M420.4 333.8h0M318.3 323.9h0M163.3 313h0M361.5 377.7h0M318.8 327.7h0M430.3 357.4h0M191.3 377.9h0M243.8 384.6h0M300.9 328.1h0M277 337.9h0M363 334.2h0M379.5 337h0M323.1 327.2h0M290.9 368.4h0M220.9 333.2h0M316.2 327h0M407.4 342.2h0M357.3 338.5h0M292.6 369.5h0M383.2 337.3h0M212.4 364.5h0M264.8 366.2h0M395.5 332.4h0M427.5 364.3h0M386.2 376.1h0M193.4 311.4h0M330 337.6h0M289.2 374.1h0M349.9 330.7h0M315.3 323.1h0M233.3 318.1h0M290.5 320.7h0M358.9 336.5h0M169.8 377.7h0M234.1 325.3h0M356.3 368.9h0M191.4 323.6h0M421.6 331h0M119.6 320.6h0M289.5 335.3h0M449.3 358h0M320.8 335.1h0M326.3 342.7h0M409.6 351.6h0M331.2 316.6h0M398.6 350.3h0M311.4 377.2h0M226.3 380.8h0M309 372.5h0M437.2 330.9h0M380 310.7h0M344.5 355.6h0M176 318.3h0M310.2 358.6h0M395.9 337.3h0M165.1 318.7h0M248.7 337.6h0M292.1 331.4h0M331.9 360.2h0M231.4 319.2h0M301.3 313.8h0M190.1 309.7h0M268.5 327.8h0M208.9 359.4h0M266 335.3h0M126.9 323.3h0M393.5 337.6h0M220.9 335.5h0M334.1 338.2h0M356 338.1h0M290 335.2h0M302.2 331.5h0M400.9 354.5h0M289.9 333.2h0M272.4 337.2h0M347.7 325.7h0M218.2 315.1h0M354.7 368.6h0M236.2 316.8h0M370.1 314.2h0M228.9 311.5h0M209.2 315.3h0M279.2 374.4h0M365.1 356.2h0M253.5 379.7h0M219.8 322.9h0M256.2 357.7h0M319.2 319h0M359.9 355.5h0M279.3 335.8h0M232.9 365.7h0M153.5 374h0M268.3 325.2h0M136.8 339.6h0M307.4 374.5h0M136.6 336.8h0M206.9 377.7h0M271.9 357.5h0M399.9 361.1h0M309.6 316.4h0M236.8 336.4h0M319.6 321.9h0M278.4 315.5h0M356.1 365.3h0M317.4 364.3h0M469 359.7h0M259.2 336.1h0M299.3 380.6h0M133.5 314.2h0M451 328.6h0M370.5 335.2h0M127.1 330.1h0M130.7 374.7h0M118.5 312.7h0M274.8 339.7h0M392.8 359.3h0M317.8 340.4h0M267 324.7h0M366.5 328.4h0M192.4 328h0M242.6 333.1h0M318 369.8h0M323.2 327.3h0M200.1 313.4h0M283.2 375.3h0M267 314.9h0M342.9 370.4h0M212.8 320.6h0M150.8 334.9h0M260.3 370.7h0M343.7 371.9h0M342.3 378.2h0M248.9 321h0M225.7 384.1h0M122.6 318.2h0M129.3 374.6h0M296.7 333.8h0M332.8 320.3h0M346.4 336.4h0M301.5 383.7h0M321.6 366.7h0M445.1 329.7h0M342.1 336.8h0M448.3 358.6h0M258.1 375.3h0M258.9 372.1h0M306.7 336h0M361.5 355h0M205.2 367.2h0M226.6 309.8h0M342.9 327h0M334.6 337.7h0M463.1 335h0M221.3 369.2h0M385.6 368.3h0M385.6 333.1h0M396.4 331.3h0M215.8 370.5h0M378.9 368.6h0M307.9 369.7h0M300.5 368.7h0M108 324.2h0M277 332.1h0M319.9 309.6h0M330.5 373.5h0M363 355.5h0M360.9 365.9h0M314.3 341.2h0M345.7 376.6h0M333.3 353.8h0M330 372.4h0M249.8 316.2h0M360 363.1h0M316.6 356.4h0M303.9 372.2h0M164.1 332.9h0M467.1 355.4h0M295.7 342.1h0M211.8 313.3h0M227.9 312.8h0M233.1 373.5h0M133.2 340.7h0M340.7 354.5h0M195.3 382.1h0M262.9 379.7h0M235.6 365.1h0M305 337.4h0M329.4 374.1h0M213.9 366.6h0M269.2 339.2h0M361 366.1h0M212.6 362.7h0M248.4 357.5h0M411.5 362.7h0M241.6 360.8h0M262.9 313.1h0M365.6 381.6h0M313.6 330.1h0M313.7 374.6h0M360.8 364.2h0M224.5 322.6h0M167.3 370h0M337.4 370.1h0M196.5 334.9h0M315.5 382.5h0M216.7 325.3h0M318.4 381.1h0M347.3 365.3h0M292.1 332h0M324.5 315.7h0M357.8 374.4h0M306.3 313.1h0M257.2 378.1h0M350.1 331.1h0M386.8 353.5h0M391.1 364.8h0M250.3 317.7h0M222.5 330.5h0M346.7 320.8h0M265.4 324.7h0M198 318.8h0M334.7 336.1h0M250.9 384.2h0M265.1 331.3h0M340 329.2h0M323.1 365.8h0M309.2 317.6h0M323.4 383.1h0M260.6 335.6h0M318.5 337h0M233.1 336.3h0M303.3 373.4h0M265.9 355.2h0M457.5 330.3h0M195.9 374.9h0M330.7 322.9h0M193.1 326.3h0M246.2 374.9h0M363.5 376.5h0M334.2 334.5h0M342.7 326.9h0M312.8 381.6h0M316 327.5h0M290.3 336.3h0M366.2 352.2h0M259 358h0M424.1 361.5h0M201.8 311.9h0M351.1 353.8h0M229.9 343.6h0M353.1 321.9h0M373.7 355.7h0M448.6 334.9h0M135.7 339.4h0M316.5 376.1h0M191.2 368.1h0M342.8 338h0M278.2 356.9h0M377 356.4h0M343.2 371.8h0M276.5 317.5h0M223.1 329.1h0M351.3 320.7h0M180.1 323.9h0M329.7 359.1h0M241.4 319.2h0M438.3 359.1h0M264.5 374.7h0M297.8 342.2h0M346.5 316.3h0M259.4 331.8h0M219.8 335.1h0M356.8 328h0M401.8 335.8h0M387.2 358.7h0M355.9 317.5h0M278.3 332.3h0M271 378h0M459.4 333.9h0M289.6 375.6h0M218.1 377.6h0M240.9 317.8h0M448.1 327.1h0M369.5 370.8h0M338.6 359.1h0M284 338.4h0M321.4 314.7h0M380.4 374.6h0M255.7 338.8h0M290.4 322.7h0M334.3 328.6h0M275.1 326h0M465.9 356.5h0M204.8 381.6h0M425.5 334.3h0M279.1 309.2h0M213.3 323.4h0M310.3 358.3h0M198.1 321.4h0M220.1 381.3h0M219.6 321.9h0M343.5 362.2h0M413.3 359.3h0M333.1 355.9h0M232.2 383h0M303.5 354.5h0M258.9 361.3h0M290 326.5h0M224.7 317.3h0M443.7 332.1h0M291.9 314h0M443.7 339.9h0M355.4 362.5h0M174 323.5h0M260.7 312.8h0M224 373.5h0M361.7 369.9h0M360.9 371.6h0M330.4 367h0M227.1 373h0M370.4 375.1h0M281 355.7h0M290.8 313.1h0M250.1 335.5h0M230.8 368.1h0M373.1 321.5h0M177.8 326h0M437.1 360.7h0M274.6 326.7h0M400.3 331.4h0M270 318.9h0M426.7 333.1h0M178.6 319.3h0M272.8 356.9h0M305.9 380.5h0M245.6 335.7h0M209.4 374.8h0M469.6 333h0M311.9 371.1h0M331.2 316.8h0M360.8 351h0M448.4 333.6h0M323.3 326.4h0M386.1 359.7h0M349.7 366.8h0M229.1 370.7h0M255.3 362.5h0M335.5 372.9h0M308.8 314.3h0M205.9 319.1h0M269.2 370.5h0M266.9 336.3h0M421 357.4h0M306.6 373.6h0M298.6 365.3h0M384.6 371.8h0M141.1 316h0M347.2 328.5h0M334.9 377.2h0M290.7 320.8h0M402.2 337.5h0M156.8 384.3h0M469.7 367.1h0M363.6 341.2h0M377.4 356.8h0M236.7 361.9h0M190.6 328.1h0M261.6 357.7h0M338.9 370.9h0M409.5 356.9h0M264.6 375.1h0M174.8 375h0M204.7 371.2h0M266.4 316h0M408.9 332.3h0M370.6 316.5h0M309.8 362.4h0M396.8 338.9h0M393 359.1h0M337.2 356.9h0M213.2 378.6h0M244.5 333.3h0M414.9 368.9h0M190.7 365.3h0M207.7 324.7h0M338.9 337.8h0M229.2 321h0M291.9 337.6h0M387.5 370.2h0M269.7 331.2h0M266.4 334.3h0M214.2 329h0M267.7 370.4h0M272.5 383.9h0M233.3 323.4h0M296.6 371.9h0M316.1 328.1h0M333.5 322.3h0M270.6 324.1h0M318.3 369.4h0M436.2 334.8h0M171.3 324.6h0M411.3 339.2h0M316.7 320.1h0M325.4 361h0M454.7 336.6h0M281.2 331.3h0M308 320.2h0M410.3 330.8h0M272.1 366.3h0M191 310.1h0M349.7 353.8h0M401.2 333.5h0M224.5 318.5h0M413.2 331.2h0M304.8 354.1h0M371.6 325.3h0M380 327.9h0M255.2 332.6h0M295.2 356h0M416.7 326.1h0M205.2 323.7h0M386.8 356.9h0M324.4 357.7h0M351.6 374.2h0M303.1 379.6h0M327.5 354.9h0M231.9 379.4h0M251.5 312.9h0M242.8 377.4h0M374.7 371.5h0M261.5 367.6h0M378.1 358.6h0M327 362.6h0M288 377.2h0M402.7 326.2h0M381.8 366.7h0M295.2 332.9h0M373.3 329.1h0M170.1 374.6h0M312 380.5h0M454.6 331.4h0M270.1 326h0M120.3 338.5h0M183.2 369.9h0M227.4 361.4h0M373.1 323.3h0M122.7 330.8h0M349.8 337.3h0M161.4 327.8h0M370.7 321.3h0M286.5 328.4h0M266.9 356h0M266.6 316h0M174.4 321h0M310.9 364.2h0M420.4 328.7h0M327.4 382.1h0M221.8 330.8h0M406.3 365h0M214.3 366.2h0M324.3 320.4h0M385 357.8h0M199.2 311h0M204.2 374h0M359.5 335.1h0M279.1 333.6h0M281.4 373h0M388.7 329.3h0M354.2 376.5h0M194.4 374.1h0M294.9 315.6h0M262.9 317.6h0M190.3 316h0M230 319.2h0M287.2 335.8h0M344.3 366.2h0M467.8 360h0M376.1 335.3h0M154.6 317.4h0M234.5 326.6h0M248.8 338.2h0M349.9 366.7h0M372.7 369.4h0M391.6 326.9h0M295.6 316.7h0M399 356.7h0M469.7 333.1h0M223.1 377.2h0M415.2 358.4h0M344.9 319.5h0M184.8 323h0M284.4 334.7h0M166.9 318.1h0M208.7 370.8h0M283.4 312.1h0M297.1 324.1h0M374.8 338.2h0M344.7 318.4h0M316.7 319.4h0M275.8 337.4h0M277.8 370.2h0M284.1 372h0M186.1 362.6h0M354.3 367.8h0M372.9 320.8h0M412.5 329.6h0M393.7 362h0M358.3 318.1h0M192.6 324.9h0M437.2 363.3h0M361.4 371.6h0M392.7 330.6h0M277.9 382.7h0M338.3 332.3h0M343.7 330.8h0M274.2 327.5h0M293.1 365.8h0M260.3 376.6h0M444.6 327.1h0M425.9 327.8h0M325.5 327.6h0M339.3 325h0M451.6 329.4h0M232.8 371.7h0M297.5 323.2h0M295.2 373.5h0M182.8 339.4h0M278.9 381.1h0M303.6 333.3h0M251.4 340.2h0M341 313.9h0M297.1 367.8h0M305.3 369.2h0M342.6 315.3h0M216.3 333.6h0M342.9 368.8h0M254.9 374.4h0M364.5 370.5h0M334.3 327.4h0M196.8 313.5h0M195.5 314.6h0M284.3 373.8h0M374.1 338.6h0M129.2 320.1h0M169.1 371h0M296.8 372.8h0M264.2 365.8h0M183 320.8h0M180.2 384.4h0M329 382h0M394.3 356.3h0M320.6 319h0M318.9 379.7h0M183.9 320.4h0M322.6 366h0M444.7 333.3h0M377.4 360.6h0M203.1 380.6h0M449.6 361.6h0M99.5 367.9h0M180.6 327.9h0M207.2 376.4h0M370.1 334.9h0M203.9 370.2h0M276.5 363.6h0M288.2 355.6h0M310.5 337.8h0M404.6 361.2h0M311 376.3h0M124.7 310.2h0M332.1 381.3h0M319 380.2h0M267.1 368.2h0M239.7 356.5h0M396.2 364.6h0M412.3 359.7h0M447.7 358.8h0M435.3 356.5h0M170 320.9h0M447.7 328.5h0M438.8 334.2h0M337.5 324.4h0M348.7 345.6h0M384.5 334.5h0M211.9 380.9h0M377.5 371.4h0M335 365.3h0M402.9 335.1h0M225.3 322.7h0M459.2 326.2h0M283.7 354.5h0M239.3 375.9h0M252.5 371h0M259.4 314.1h0M367.8 329h0M342.6 326.8h0M255.9 382.8h0M358.4 358.3h0M318.7 381.8h0M319.1 376.5h0M455.4 354.3h0M246.4 316.7h0M389.9 332h0M287.6 368.7h0M405.8 364.1h0M318 325.9h0M297.5 369.6h0M179.4 366.8h0M315.7 318.3h0M345.7 331.3h0M261.3 383.1h0M219.2 364h0M241.7 329.8h0M381.7 366.9h0M432.6 354.8h0M330 375.6h0M401.6 359.4h0M436.9 326.8h0M326 337.7h0M161.8 373h0M153.4 312.3h0M238.7 359.4h0M336.2 357.2h0M411.9 326.1h0M228.8 384h0M219.8 322.7h0M321.3 354h0M318.3 354.5h0M381.8 333.8h0M276.5 370.7h0M345.3 356.4h0M325.8 358h0M323.2 378.3h0M166.2 373.2h0M271.8 322.9h0M215.6 330.7h0M329.9 371.9h0M464.8 340.4h0M310.2 357.3h0M263 336.8h0M382 360.7h0M246.3 327.8h0M244 382.1h0M274.2 312.5h0M230.6 321.6h0M193.4 374.7h0M271.1 317.8h0M337.6 368.2h0M372.8 323.9h0M140.1 338.5h0M271.3 317.9h0M221.7 374.7h0M310 322.8h0M330.8 377.1h0M267.2 379.7h0M351.1 365.3h0M135.9 384.6h0M293.1 369.2h0M438.4 325.3h0M191.8 324.5h0M359.8 362.3h0M314.9 328.9h0M228.9 376.1h0M401.2 367.4h0M246.4 324h0M128.7 326.7h0M321.3 381.6h0M251 351.4h0M466.8 346.6h0M160.5 313.9h0M384.1 372.3h0M311.6 316.7h0M316.3 369.9h0M243.5 320.6h0M334.4 353.4h0M329.1 357h0M364.2 313.8h0M348.4 370.5h0M163.7 314.4h0M311 328h0M124.9 380.6h0M269 332.3h0M273.7 310.6h0M292.7 369.1h0M401.9 366h0M248.8 379.9h0M268 332.3h0M272.1 368.6h0M301.8 330.1h0M379 320.9h0M355.6 357.8h0M418 341.6h0M240.4 374.8h0M331.6 367.7h0M404.4 329.7h0M267.8 356.3h0M235.4 323.5h0M204.8 362h0M402.6 331.2h0M379.5 330.7h0M283.8 329.6h0M410.5 334.4h0M344.1 365.4h0M173.7 368.3h0M325.5 377.8h0M343.4 358.4h0M311.1 329.6h0M451.3 355h0M344.7 360.6h0M336.8 323.3h0M300.8 316.5h0M339.2 356.8h0M336.8 324.5h0M306.1 357.3h0M351.4 322.4h0M239.1 376.3h0M392.5 354.8h0M331.2 367.1h0M230.6 319.8h0M228.8 326.9h0M292.9 380.9h0M258 375.6h0M114 372.2h0M393.2 368.6h0M381 354.1h0M314.6 364.7h0M292.5 325h0M318.8 336.7h0M332.8 360.1h0M153.3 337.2h0M385.2 330.2h0M292.3 325.8h0M222 365.1h0M271.7 368.6h0M346.8 330.7h0M347.4 328.8h0M228.1 330.3h0M410.9 365.7h0M255 334.3h0M327.8 343.3h0M232.3 366.1h0M103.3 317.8h0M237.5 337.3h0M322.1 357.7h0M298.1 335.8h0M223.9 315.2h0M312.5 355.8h0M145.7 383.3h0M168.8 328.2h0M254.4 320h0M406.5 359h0M164.9 370.1h0M268 380.6h0M303.2 336.4h0M302.3 380.2h0M381.8 327.6h0M400.7 355h0M309.9 363.9h0M386.6 370.7h0M468.4 355h0M227.5 310.9h0M211 318.6h0M353.4 356.1h0M210.4 311.1h0M251.2 360.8h0M246.8 316.1h0M294.4 316.9h0M425 326.2h0M290.2 322.6h0M377.6 326.4h0M328.8 357.1h0M241.8 324h0M390.3 370.4h0M437.7 371.1h0M215.9 325.8h0M323.4 361h0M281.9 334.8h0M235 319.3h0M443 362.2h0M105 326.9h0M223.9 322h0M247.6 328.6h0M298.4 312.4h0M245.4 334.2h0M348.4 353.1h0M260.4 336.3h0M212 331.7h0M428.2 364.6h0M194.6 380.3h0M213.9 321.5h0M318.6 381.1h0M354.6 320.3h0M347 379h0M218.3 366.1h0M283.9 375.8h0M391.3 337.2h0M417.1 369.2h0M266 366.1h0M433.6 360.3h0M223.3 364.6h0M296 317h0M213.1 316.3h0M453.6 360.9h0M281.1 339.6h0M147 321.6h0M221.5 366.9h0M390.8 358.9h0M393 369.4h0M196.7 316.1h0M259.8 371h0M330.6 365.8h0M318.1 314.2h0M244.2 315h0M356.4 338.9h0M335.4 370.3h0M199.9 377.5h0M217.4 311.1h0M284.6 373.7h0M247.5 317.9h0M351.7 339.5h0M231.7 323.3h0M246 380.2h0M310.9 339.1h0M353.8 371.1h0M381.9 354.4h0M220.7 371.6h0M350.7 376.5h0M295.8 331.9h0M347.8 353.7h0M370.3 340.3h0M339.4 326h0M333.7 367.2h0M227.4 333.6h0M236.6 316.2h0M438.4 359.9h0M458.5 360.1h0M281 369.1h0M278 342.4h0M464.3 338.3h0M350.6 320.4h0M147.1 329.9h0M346.5 323.4h0M232.8 377.4h0M384.8 357.8h0M318 310.8h0M433.5 372.4h0M240.9 319.1h0M372.1 333.9h0M210.6 380.4h0M458.8 333.6h0M263.7 356.9h0M293.5 365h0M150.8 332.6h0M290.6 316.3h0M432.9 364.6h0M123.8 334.6h0M409.3 338.6h0M312.6 318.2h0M306.5 354.3h0M355.9 366.8h0M172.7 379.5h0M327.8 360.2h0M209.4 320.2h0M304.4 319.7h0M367 335.4h0M186.6 320.8h0M285.6 331.6h0M129.3 381.2h0M248.3 323.9h0M428.3 360.1h0M387.8 332.6h0M378.7 356.5h0M443.2 355.4h0M190.9 369.2h0M367.7 331h0M235.2 358.9h0M219.9 321h0M327 310.1h0M364 324.5h0M437 367h0M299.1 337.7h0M332.8 338.6h0M337.1 333.1h0M123.8 382.2h0M458.5 355.7h0M279.6 375.6h0M257.6 380.9h0M290.8 357.5h0M286.4 329.2h0M367.2 335.8h0M313.5 360.1h0M416.2 356.7h0M360 355.8h0M203.6 320.5h0M273.6 322.7h0M334 360.2h0M314.2 364.5h0M333.1 354.8h0M372.9 320.4h0M307.7 321.9h0M418.6 355.9h0M352.6 335.1h0M294.9 339.2h0M274 374.3h0M198.8 322.3h0M227.6 340.9h0M357.8 361.2h0M254.5 316.1h0M334.5 327.8h0M170.4 322.1h0M271.2 382.9h0M419.8 373.5h0M339.2 357.3h0M394 326.6h0M345.4 336.7h0M363.6 321.8h0M347.3 352.3h0M148.7 354.7h0M149 376.1h0M270.3 373.3h0M464.8 332.6h0M268.8 355.6h0M171.3 376.2h0M325.9 379.6h0M399.2 335.3h0M244.7 332.8h0M322.7 354.6h0M340.5 322h0M120 329.4h0M337 354.9h0M222.8 378.1h0M418.8 371.1h0M263.8 381.9h0M365.3 318.6h0M319.3 370.2h0M385.1 360h0M409.8 337.8h0M375.2 335.1h0M340.2 314.9h0M376.1 331.3h0M426.9 330h0M366.9 371.6h0M337.1 368.3h0M289.8 318.4h0M182 328.2h0M423.4 327.1h0M333.9 359.1h0M308.1 370.1h0M201.5 330h0M129.3 355.5h0M213.7 364.9h0M297.4 370.4h0M366.4 357.3h0M390.9 355.4h0M290.4 368.6h0M295 364.5h0M234.5 311.3h0M444.2 334.2h0M313.4 356.7h0M233.5 376.1h0M118.9 315.9h0M245.6 372.1h0M354.4 329.3h0M248.2 363.5h0M189.9 381h0M173.8 383h0M307 382.7h0M302.5 373h0M356.8 317.4h0M162.6 330.7h0M221.8 381.5h0M147.3 381.1h0M293.5 371.2h0M284.7 368.7h0M137.3 323.6h0M347.8 329.3h0M300.8 341h0M202.7 316.5h0M161.8 318h0M334 361h0M402.1 358.3h0M420.6 371.7h0M337.9 317.2h0M355.4 318.9h0M401.2 326.9h0M369.8 373.1h0M292.4 379.7h0M300.5 363.8h0M363.3 372.4h0M380.2 362.2h0M186.6 313.5h0M258.8 336.6h0M356.1 330.4h0M308.9 315.1h0M247.3 371h0M232.2 336.3h0M392.3 360.7h0M287 330.8h0M290.1 376.1h0M274.3 355.6h0M360.4 354.4h0M455.8 336.3h0M297.2 354.1h0M226.6 362.1h0M261 377.7h0M152.5 370.2h0M382.9 374.9h0M226.9 318.7h0M185.4 378.7h0M231.7 319.5h0M306.2 375.5h0M276.4 337.1h0M185.8 376.3h0M283.9 373h0M154.2 327.3h0M416.6 373.8h0M323.9 360.9h0M396.7 335.1h0M316.6 313h0M376.8 325.2h0M351.6 321.1h0M271 333.9h0M315.5 356.9h0M272.3 362.5h0M320.7 372.5h0M342.6 323.1h0M234.4 359.2h0M182.2 325.6h0M250.5 318.2h0M189.9 324.8h0M251.7 377h0M345.2 310h0M194.1 318.1h0M438.2 359h0M282.5 370h0M250.8 334.9h0M321.2 355.6h0M410.9 334.9h0M273.5 352.9h0M364.6 350.9h0M406.6 367.9h0M141.3 329.6h0M122.9 319.4h0M311.8 324.5h0M276.6 364.5h0M320.1 366.4h0M265.8 313.5h0M346.6 376.6h0M398.5 342h0M255.8 335h0M402.6 337.5h0M343.7 347.6h0M419 335.9h0M398.2 366.8h0M320 359.8h0M337.7 375.7h0M299.3 364.6h0M213.9 380.6h0M387.6 365.5h0M263.7 319.9h0M417.6 364.1h0M158.4 376.4h0M345.1 338.1h0M213.1 368.4h0M451.1 365.7h0M164.6 377.5h0M349 370.3h0M245.7 371.6h0M387.8 358.1h0M340.8 354.8h0M297.8 326h0M446.5 333.7h0M173.6 369.7h0M285.1 334.9h0M327.8 365.2h0M224.9 368.4h0M419.5 339.1h0M361.1 321.4h0M379.6 328.1h0M420.6 358.5h0M334.6 326.6h0M262.9 377.2h0M350.8 328.5h0M335.9 325.1h0M367.6 324.4h0M283.4 338h0M370.2 313.8h0M360.6 322.4h0M225.9 315.2h0M392.8 377h0M413.7 362.1h0M310 376.2h0M297.1 366.9h0M107.8 310.8h0M101 316.2h0M117.7 315h0M131.7 309.2h0M378.3 385.3h0M399.7 381.7h0M426.3 383h0M438.3 381.7h0M442.2 382.2h0M455.3 384.7h0M466.3 373.8h0M462.5 367.5h0M413.3 376.7h0M416.7 375.8h0M472.7 328.7h0M479 332.5h0M524 339.5h0M530 350.8h0M513.2 361h0M489.5 373.7h0M506 358h0M507.5 355h0M510.5 351.2h0M518 352.3h0M520.2 352.5h0M511.2 341.5h0M503.7 337.7h0M500.7 340h0M497 340.7h0M497.7 343h0M496.2 357.7h0M489.5 353.5h0M491 357.2h0M485 355h0M484.2 359.5h0M479 361.7h0M477.5 357.2h0M473 355h0M471.5 364.7h0M481.2 349h0M474.5 342.2h0M485 339.2h0M482 337.7h0M488 340h0M428.3 310.3h0M380.8 311.7h0M389.7 313.3h0M398.3 314.2h0M398.7 315.8h0M405 317.5h0M403.3 320.8h0M406.7 319.2h0M443.3 320.8h0M446.3 324.2h0M440.8 324.2h0M464.7 325.8h0M471.7 327.5h0M473.3 330h0M420.8 324.2h0M417.5 325.8h0M409.2 324.2h0M412.5 325.8h0M432.5 325.8h0M435.8 327.5h0M428.3 327.5h0M358.3 310h0M368.3 310.5h0M375.8 313.3h0M472 328.5h0M474 331h0M479 333h0M471.5 336h0M475 335.5h0M479 336.5h0M482 337.5h0M485 339h0M487.5 340h0M467 340h0M470 340h0M475 341h0M475.5 344h0M497 340.5h0M500 342.5h0M503 338.5h0M504.5 337.5h0M498 343.5h0M511 341.5h0M524 339.5h0M481.5 348.5h0M468 355h0M471 355h0M466 358.5h0M476 357h0M479 359h0M478 362h0M482.5 361h0M484 355h0M487 358h0M489 354h0M492 357h0M496 357h0M469.5 363h0M507 352h0M508 357h0M512 352h0M517 352h0M519.5 352.5h0M513 360.5h0M242.8 307.1h0M180.6 390.7h0M240.3 301.6h0M256.4 387.5h0M206.6 307.4h0M278.2 301.6h0M274.1 297.5h0M263.3 304h0M281.9 385.9h0M259 389.2h0M213.7 308.4h0M203.1 307.2h0M241.4 303.6h0M198.3 303.9h0M368.1 386.4h0M249.8 297.2h0M261.3 384.7h0M239 305.2h0M180.7 301.3h0M300.4 387h0M136.9 384.9h0M199 385.3h0M324.4 308.3h0M211.2 298.4h0M255.1 386h0M183.7 302.1h0M325.7 388.3h0M191.2 390.6h0M223.9 390.5h0M353.6 385.2h0M345.7 308.5h0M160.4 301.8h0M186.7 308.2h0M194.1 396.5h0M237.8 388.1h0M188.2 298.5h0M290.5 385.7h0M268.1 302.1h0M251.6 388.6h0M205.9 386.5h0M340.7 386.7h0M233.4 385.2h0M226.6 305.3h0M172.2 296.7h0M262.5 388.1h0M251.9 385.2h0M261.6 301.1h0M214.2 386.2h0M312.7 389.6h0M301 309.1h0M295.8 385.6h0M224.4 384.9h0M190.5 297.1h0M264.4 391.1h0M214.1 296.8h0M215.3 388.9h0M162.9 307.6h0M162.2 299.4h0M302.7 389.7h0M229 303.2h0M192.4 304.8h0M239.8 305.6h0M260.4 390.3h0M203.1 307h0M253.9 306.7h0M279.1 385h0M223.5 303.6h0M239.4 304.9h0M240.1 394.1h0M227.4 396.4h0M262.9 305.4h0M191 307.7h0M211.3 308.7h0M234.9 389.8h0M222.4 390.5h0M170.9 303.9h0M171.4 298.7h0M177.2 307.6h0M178.9 308.2h0M231.2 305.3h0M197.9 296.1h0M264.8 303.6h0M374.3 308.3h0M240.1 297.1h0M165.5 295h0M179.4 300.3h0M231.3 299.2h0M182.5 304.7h0M247.7 304.6h0M237.5 299.8h0M276.4 299h0M370.3 308.1h0M193.8 308.2h0M238.3 297.8h0M272.1 307.3h0M283.4 308.5h0M178.4 308.5h0M222 300.4h0M257.2 304.3h0M255.2 306.5h0M302.3 308.7h0M193.9 303.7h0M210.5 305.6h0M297.7 308.7h0M219.8 304.2h0M232.4 305.2h0M196.2 305.9h0M339.9 308.1h0M369.1 308.6h0M175.4 303.8h0M278.9 306.1h0M229.1 305.8h0M185.3 308.2h0M178.5 303.7h0M267.3 305.9h0M335.7 308.6h0M211.7 390.6h0M310.1 385.8h0M201.7 387.1h0M250.1 389.4h0M259.8 387.6h0M244.6 385.3h0M165.5 387.3h0M241.7 388.9h0M188.3 391.3h0M231.3 387.6h0M204.3 386.1h0M218 387.4h0M247.4 392.8h0M220.7 385.8h0M215.5 391.5h0M145.4 390h0M298 388.5h0M233.2 385.3h0M245.7 386.2h0M244.7 392.9h0M251.2 386.1h0M237.4 388.8h0M312.6 385.2h0M157.6 389.7h0M260.8 389.2h0M259.4 387.9h0M211 387.3h0M245.8 387.4h0M188.5 395.8h0M226 390.3h0M220.1 387.3h0M166.4 387h0M237.4 386.4h0M281.9 387.4h0M183.1 385.4h0M332.6 388.9h0M129.2 388.9h0M194.4 388.9h0M285.9 389.5h0M184.2 387.8h0M269.6 390.4h0M224.8 386.9h0M304.6 389.9h0M155.5 388.8h0M232.9 393.8h0M329.8 386h0M250.6 388.9h0M192.5 388.9h0M149.8 387.9h0M266.4 390h0M208.7 392.2h0M184.2 397.6h0M315 387.3h0M319.8 387.1h0M150 386.4h0M241.6 397.6h0M202.8 388.2h0M218.5 121.2h0M217.5 144.7h0M275.2 117.7h0M289.7 116.7h0M268.8 157.5h0M210 194.5h0M269.7 193.3h0M117.2 240.3h0M154.5 222.8h0M177 218h0M189.2 214h0M189.7 230.5h0M144.5 239h0M164.5 240.2h0M160.5 247.2h0M169.3 251.8h0M162 259.5h0M189.3 260.2h0M199.7 258.7h0M180.3 263.3h0M182.5 264.8h0M149.3 269.3h0M162.5 266.7h0M163.3 269.2h0M164.7 273h0M175.3 271.3h0M162.7 279h0M142.8 281h0M161.3 282.8h0M163.8 286h0M168 285h0M170.8 283.3h0M147.5 288h0M147 289.5h0M137.7 290.7h0M195.8 283.3h0M165.8 290.8h0M166.7 294.2h0M172.5 290.8h0M173.3 293.3h0M182.8 291.3h0M187.5 290h0M223.3 204.2h0M224.5 210.8h0M224.3 215.7h0M283.5 216h0M288.7 214.3h0M230.3 224.5h0M213 227.5h0M218.5 228.3h0M218.7 230.8h0M272 226.7h0M225 234.3h0M231.7 234.3h0M277.3 235.3h0M282 238.5h0M207 240.2h0M237.7 241.3h0M244 240.2h0M251.2 245.5h0M256.5 250.2h0M210.3 248.8h0M213 253h0M213 256.2h0M217.5 254.2h0M226.3 250h0M228.8 251h0M270 252.2h0M201.3 258.7h0M242.8 259.3h0M225.8 263.8h0M230.8 265h0M271.3 263.5h0M276.8 262.7h0M284.7 264.7h0M201.7 269.2h0M235.8 271.7h0M239.7 269.2h0M265.5 266.3h0M266.3 270h0M277 273h0M293 273h0M298.7 269.7h0M210.5 273h0M214.2 275.3h0M218.3 277h0M225.5 275.7h0M252.7 274.8h0M273 276.3h0M209.2 277.5h0M206.7 282h0M219.2 281.5h0M259.5 283.8h0M278.3 279.2h0M279.7 283.3h0M288.3 280.8h0M289.7 284.7h0M206.7 286.7h0M207.5 290h0M211.7 290.8h0M221.7 289.2h0M228.3 285h0M229.2 289.2h0M228.7 293.3h0M234.2 285.8h0M235.8 290.8h0M241.3 288.3h0M248.8 285.8h0M251.7 288.3h0M248.3 292.2h0M259.2 291.7h0M261.7 294.2h0M261.7 288.3h0M278.3 290h0M283.3 288.3h0M281.7 293.3h0M313.8 240.5h0M302.2 250.3h0M326.2 262h0M351.2 259.5h0M300.5 269.7h0M306.3 273h0M305.3 278.8h0M353.8 272h0M361.2 272.8h0M368.3 270.5h0M361.3 278.7h0M325.5 291.7h0M363 291h0M321.7 295h0M317.5 296.3h0M312.5 296.7h0M306.7 298.3h0M344.2 296.3h0M338.3 298.3h0M375.3 295.5h0M382 296.7h0M397.5 292.5h0M396.3 295.8h0M361.7 298.3h0M401.7 290.3h0M114.5 304.2h0M116.7 305.8h0M119.2 307.5h0M122 303h0M129.2 301.3h0M130.8 300.5h0M128.8 307.2h0M145 303h0M147.8 298h0M151.7 300h0M156.7 297h0M152.2 308.7h0M156.3 308.3h0M158.3 303.7h0M159.7 282.5h0M109.5 396.3h0M125.3 396.3h0M146 398h0M146 402h0M133.3 416.3h0M128.5 422.5h0M136.3 431.2h0M148 416.2h0M152.8 409.7h0M156.2 405.3h0M157 406.7h0M161.7 406h0M157 397h0M161.7 398h0M165 398.3h0M167 403h0M165 411.3h0M168.3 411h0M171.7 411.3h0M177.5 403h0M175 416.7h0M178.3 418.3h0M178.3 421.7h0M167 420.3h0M155.3 428.7h0M169.5 430h0M168.8 438h0M174.2 439.3h0M178.7 436.7h0M174.7 474.5h0M176.2 483h0M123 390.8h0M130.3 390.5h0M137 390.8h0M182.5 448h0M192.2 458h0M191.2 464.5h0M204.3 456.3h0M213 448.7h0M227.3 454.7h0M234.5 457.3h0M265.2 457.8h0M281.7 463h0M225 439.3h0M228.7 437.5h0M235 431.7h0M241.7 435.8h0M244.7 436.3h0M249.7 437.5h0M277 433.3h0M261.3 425.3h0M266.7 416.3h0M278.3 416.3h0M243.7 421h0M208 430.5h0M201.7 431.3h0M190 430h0M186.2 427h0M180.8 436.7h0M195.8 423h0M201.3 425h0M202.5 420.5h0M203.3 418.3h0M181.7 423.3h0M183.3 420h0M181.7 415h0M188.7 416.7h0M189.2 420.8h0M205.8 415.8h0M208.7 416.7h0M206.7 410.8h0M196.3 410.3h0M220 419.7h0M222.5 421.7h0M225 419.2h0M227.5 422.5h0M221.7 425.8h0M225 427h0M224.2 413h0M228.3 413h0M226.7 408.3h0M230 405.8h0M240.8 408.3h0M242.5 413.3h0M246.2 407.5h0M250.5 403.3h0M259.7 405.8h0M261.7 403.3h0M255.8 400h0M265 401.7h0M271.3 408h0M276.7 405.3h0M280 403.3h0M214.2 410h0M217 406.7h0M211.7 405.8h0M215.8 401.7h0M201.7 405h0M206.7 403.3h0M200.8 400h0M191.7 406.7h0M185.8 405.8h0M181.7 410h0M180 411.7h0M182.5 398.3h0M190 401.7h0M194.2 400.8h0M291.7 429.2h0M292.2 421h0M310.5 417.5h0M323 421.2h0M327.2 415h0M330.5 410.5h0M325.8 407.8h0M364.5 418.7h0M366.2 425.5h0M292.5 400.8h0M286.7 403.7h0M282.5 401.3h0M280.8 405h0M299.7 401.3h0M300.8 396.7h0M310.8 399.2h0M314.2 398.7h0M325.8 400.3h0M329.2 400.3h0M320 393.7h0M323.3 391.3h0M310.8 391.7h0M306.7 391.3h0M337.5 395h0M340.3 393.7h0M334.7 390.3h0M351.3 397.5h0M349.2 402.5h0M355.3 403h0M355.8 390.8h0M360 390h0M366.3 392.5h0M375 401.3h0M378.7 401.3h0M293.3 395h0M287.5 391.3h0M282.5 393.7h0M294.2 390.3h0M391.8 386.7h0M387.2 394.7h0M433 386.2h0M442.8 389.7h0M426.3 409.5h0M398 292.5h0M396.7 298.7h0M380.8 300.8h0M288.3 281.7h0M289.2 285h0M305 280h0M361.7 280h0M361.7 299.2h0M339.2 298.7h0M345 296.2h0M350 300.8h0M350 304.2h0M338.3 302.5h0M341.7 306.7h0M335.8 305h0M323.3 300h0M320 300.8h0M323.7 306.7h0M328.3 305.8h0M303.3 300h0M306.7 301.7h0M307.5 298.7h0M300.8 303.3h0M310.8 307.5h0M314.2 308h0M305.8 306.7h0M295 299.2h0M291.7 298.3h0M293.3 292.5h0M294.2 295h0M283.3 287.5h0M280 290h0M282.5 294.2h0M280 300h0M284.2 300.8h0M287.5 300.8h0M288.3 304.2h0M285 306.7h0M290.8 306.7h0M286.7 303.3h0"/>
<path stroke="#00f" d="M418.2 328.7h0M334.5 323.5h0M221.1 365.5h0M321.7 377.9h0M448.3 359.3h0M428.2 351.3h0M258.9 356.6h0M287.6 377.7h0M250.2 331.8h0M334.1 360.7h0M339.5 319.6h0M352.3 356.5h0M394.4 357.9h0M350.6 330.9h0M302.8 383.7h0M271.6 334.1h0M233.6 377.3h0M438.2 366.3h0M335.5 324.7h0M324.7 311.1h0M274.6 334.1h0M244.5 373.7h0M166.7 368.7h0M333.4 318.4h0M327.8 336.8h0M354.6 337h0M441.4 338.8h0M303.5 366.3h0M324.3 325.9h0M321 316.5h0M232.1 317.1h0M385.6 362.4h0M340.9 365.1h0M325.2 341.7h0M241.4 330.3h0M177.9 326.4h0M329.6 360.4h0M297.7 336.8h0M150.6 381.5h0M419.5 334.3h0M185.2 324.3h0M257.7 329.7h0M337.4 357.9h0M356.2 383h0M275.3 318.7h0M237.7 371h0M429.6 363.8h0M369.5 321.2h0M225.4 368.7h0M399.7 358.4h0M303.3 381.4h0M263.4 319.7h0M268.5 320.1h0M236.3 335.5h0M271.2 327h0M268.7 320.6h0M182.6 316.5h0M347.9 375h0M350.5 332h0M166.8 319.2h0M243.7 322.6h0M282.2 367.9h0M351.3 316.9h0M215.8 367.1h0M343.8 356.6h0M415.4 329h0M220.6 372.5h0M299.8 317h0M231.3 325.7h0M185.2 381.6h0M392.1 364.7h0M430.6 329.2h0M340.6 362.7h0M376.4 320.1h0M225.6 330.1h0M165.1 313h0M264.6 328.6h0M335.7 383.2h0M153.4 336.1h0M195.6 379h0M212 373.5h0M258.2 373.8h0M227 334h0M301.4 329.9h0M277.5 322.3h0M298 327.2h0M248.2 315.9h0M170.5 377.6h0M246.7 325.5h0M229.8 378.6h0M367.7 316.7h0M315.7 369.5h0M215.8 377.7h0M328.3 369.3h0M290.1 380.9h0M386.1 338.5h0M254.1 335.1h0M361 329.9h0M229.3 333.6h0M352.6 325.4h0M275.3 331.9h0M343.9 361.1h0M246.9 340h0M211.2 325.3h0M230.3 326.4h0M346.9 335.8h0M330.2 321.8h0M190.5 332.3h0M315.1 312.1h0M414.4 368.1h0M423 357.1h0M311.7 338.4h0M366.6 351.3h0M366.6 360.7h0M301.9 311h0M282.6 371.1h0M270.3 370.1h0M274.1 336.2h0M368.3 357h0M183.9 324.3h0M339.1 360.6h0M182.1 319.3h0M385.5 369.4h0M361.8 332.7h0M426.2 336.1h0M328.5 325.1h0M230.1 380.4h0M134.3 363.6h0M203.7 315.3h0M168.1 384h0M239.8 312.1h0M301.7 344.8h0M203.1 329.4h0M400 339.7h0M362.6 324.7h0M283.5 313.4h0M442.4 357.1h0M346.6 360.9h0M405.1 370h0M427.2 330.1h0M460.2 353.8h0M420.9 365.1h0M354.4 320.8h0M395.6 338h0M327.8 370.9h0M240.3 372.1h0M268.7 319.9h0M265.7 358.5h0M260 311.8h0M238.5 321.1h0M283.8 337.4h0M357.9 327.5h0M123.3 347h0M244.4 360.9h0M431.1 327.4h0M322.4 335.8h0M264 325.3h0M347.9 361.6h0M162.5 316.3h0M340.2 382h0M263.5 381.8h0M262.6 327.2h0M344.9 370h0M171.5 317.9h0M266.3 366.2h0M259.7 336.3h0M212.9 381.3h0M321.7 327.7h0M269.7 311.7h0M181.7 370.2h0M323.8 370.4h0M225.7 369.2h0M294.1 353h0M406.2 331.5h0M336.1 374.7h0M281.1 333h0M417.1 363.4h0M299.6 369.9h0M267.8 380.9h0M291 311.7h0M319.7 322.6h0M441.5 364.3h0M318.2 354.4h0M412.7 355.8h0M173.6 318.3h0M286.6 330.3h0M204 370.1h0M247.2 329.4h0M270.7 373.1h0M414.8 330.4h0M333.8 309.3h0M399.4 364.6h0M227.4 315.5h0M202.7 382.2h0M237.3 380.9h0M466.1 355.5h0M322.5 368.8h0M213.8 328.5h0M369.7 364.1h0M325.9 374.8h0M238.2 323.4h0M378.6 356.3h0M427.7 338.4h0M253.8 359.1h0M246.4 331.7h0M271.3 365.4h0M217.3 373.1h0M170 312.9h0M449.1 370.6h0M128.4 332.7h0M283.8 341.4h0M400.1 376.2h0M173.6 327.3h0M264.8 329.3h0M326.8 363h0M316.6 380.7h0M195.9 375.6h0M329.3 316.6h0M312.5 315.6h0M318.1 360.2h0M351.7 320.9h0M328.5 326.1h0M226.9 324.5h0M420.5 325.6h0M371.4 355.8h0M275.3 362.9h0M234.2 382.5h0M416.2 333.9h0M247.7 363.4h0M364.7 376.1h0M169.1 327h0M174.7 331.6h0M274.7 337.4h0M372.2 356h0M351.6 360.7h0M221.7 383.5h0M263.6 360.4h0M431 359.4h0M387.8 339.2h0M138 372h0M277.6 319.6h0M371.9 376.8h0M125.8 381.1h0M274.5 359h0M252.9 377.2h0M270.4 325.9h0M271.7 322.9h0M404.1 334h0M205 316.3h0M269.9 377.5h0M301.1 324h0M275.9 361.5h0M312.7 317.2h0M399.6 367.8h0M331.7 363.7h0M347.1 319.8h0M299.7 355.9h0M294.3 364.6h0M299.8 320.5h0M295.9 353h0M442.1 368.2h0M349.6 333.9h0M366.6 331.7h0M148.4 327.6h0M374.9 358h0M409.6 356.5h0M375.8 340.7h0M171.5 318.2h0M370.4 363.6h0M447.4 360.7h0M421.4 329.2h0M213 375.2h0M275.4 366.9h0M289.7 354.9h0M447.7 335.8h0M284.2 368.4h0M173.2 321.6h0M197.6 324.7h0M137.8 323.3h0M391.9 331.2h0M255.4 362.4h0M276.1 379.8h0M224.4 323.8h0M278.2 378.1h0M298.3 336.8h0M272.7 375.2h0M263.8 326.6h0M317.1 368h0M363 326.8h0M285.6 331.5h0M346.8 371.9h0M243.1 320.7h0M348.8 334.6h0M328.3 326.4h0M165.8 309.8h0M355.8 374.3h0M200.9 325.9h0M314.8 325.1h0M303.9 371.4h0M190.5 331.3h0M404.1 365.1h0M322.6 339.8h0M292.6 331.2h0M297.3 337.6h0M257.8 373h0M419.5 358.1h0M350.1 314.6h0M244.6 373.2h0M209.4 324.9h0M394.6 343h0M287.5 331.1h0M357.3 329.7h0M322.6 316.6h0M291.1 336.2h0M276.3 363.2h0M276.2 356.6h0M375.9 319.2h0M260.7 316.9h0M297.1 317.1h0M318.3 359.9h0M329.1 366.7h0M206.6 315.4h0M356 311h0M271.7 337.5h0M271.9 361.5h0M440.7 332.7h0M272.7 362.5h0M223.6 374.1h0M414.6 366.7h0M355.8 369.4h0M308 353.6h0M191.3 371.3h0M301.3 358.1h0M175.5 333.6h0M272.7 368.7h0M262.6 380.8h0M300.4 337h0M322.4 335h0M159.1 327.1h0M169.3 339.4h0M396.1 325.9h0M207 323.9h0M258.1 317.7h0M292.6 329.6h0M427.6 337.7h0M270.5 357.8h0M339.7 353.6h0M271.3 341.3h0M387.3 335.7h0M303.8 318.7h0M412 363.2h0M298 322.1h0M229.9 367h0M254.5 379.4h0M399.8 371.9h0M239.2 311.7h0M422.7 336.6h0M165.3 375.6h0M421 335h0M269.1 377h0M281.4 309.2h0M248.9 336.3h0M236.5 372.1h0M237.8 365.4h0M277.8 324.4h0M279.9 315h0M340.5 333.7h0M316.9 320.1h0M156.6 324.6h0M269.8 383.2h0M250.8 318.7h0M181.9 373.5h0M139.1 312.7h0M322.8 323.2h0M336.7 329.7h0M242.6 373.3h0M455.8 337.3h0M312.9 336.5h0M208.4 313.4h0M345.7 315h0M380.8 357h0M275.6 372.8h0M466.5 331.5h0M375.3 366.9h0M242.4 326.5h0M206.6 316.3h0M267.4 321.9h0M146.8 376.9h0M284.2 354.7h0M296.8 315.8h0M334.8 367h0M395.1 362.6h0M115.7 319.9h0M382.9 335.4h0M385.8 330.3h0M451.7 351.2h0M193.6 366.8h0M304.1 343.6h0M234.5 366.6h0M390.8 354.4h0M362.3 361.1h0M185.1 378.6h0M413.1 355.2h0M322.7 332.9h0M322.8 357.2h0M327.4 361.3h0M374.8 331.2h0M340.6 318.4h0M315.5 370.3h0M325.5 374.9h0M242.5 362.8h0M365.2 358.1h0M314.5 382.4h0M159.8 310.3h0M208.4 370.5h0M244.8 371.7h0M274.3 320.5h0M211 367.4h0M303.4 338.3h0M364 358.1h0M323.2 324.4h0M239.3 328.2h0M367.3 335.6h0M318.1 356.1h0M334.7 335.1h0M380.3 355.7h0M274.1 379.7h0M454.4 368.6h0M301.4 356h0M312.7 313h0M230.4 363.3h0M343.4 314.6h0M148.3 324.6h0M254 335.2h0M343.9 324.6h0M379.2 314.5h0M275.8 374.6h0M255.7 313.8h0M371.8 333.5h0M340.2 328.7h0M176.7 319.9h0M306.6 384.1h0M411.1 333.7h0M444.2 339.2h0M436.8 354.6h0M199.9 370.8h0M169.9 325.5h0M236.3 363h0M254.3 335.3h0M323.5 366.5h0M314.2 377.4h0M294.5 353.8h0M239.1 313.4h0M186.3 334.6h0M237.4 327.9h0M390.6 332.2h0M295.3 374.9h0M241.5 362.7h0M284.1 314.1h0M371.4 328.7h0M396.8 353.2h0M183 372h0M375.2 353.9h0M352 376.3h0M184.5 312.3h0M336 324h0M198.9 314.2h0M451.1 353.8h0M227.2 372.4h0M348.7 315.5h0M308.6 374.8h0M139.1 373.6h0M286.7 324.8h0M264 320.9h0M231.4 365.4h0M412.3 336h0M174.2 381.9h0M296.2 383.1h0M195.9 378.9h0M143.8 331.2h0M440.2 359.1h0M267.3 377.8h0M444.9 356.4h0M444.7 341h0M259.1 329.2h0M371.5 334.7h0M207.6 330.3h0M383.5 365.4h0M295.3 328h0M424.6 360.9h0M325.1 316.6h0M406 361.6h0M430.1 333.4h0M305.5 367.4h0M298 324.7h0M174.7 315.1h0M340.2 333.9h0M382.5 361.8h0M426.4 364.1h0M253 315.2h0M332.7 314.8h0M273.6 368h0M412.2 358.9h0M361 360.1h0M223 326.3h0M217.3 312.6h0M448.3 327.7h0M156.1 383.4h0M239.2 334h0M205.7 376.3h0M259.9 313.2h0M342.7 369.6h0M221.7 309.4h0M251.6 335.5h0M290 379.1h0M326.1 311.9h0M366.9 362.1h0M250.4 373.3h0M274.7 314.2h0M302.6 322h0M311.5 329.9h0M220.8 320.4h0M348.7 333.7h0M263.6 334.4h0M251.1 333.5h0M383.8 367.3h0M457.4 365.3h0M296.5 316h0M265.7 339.7h0M160.7 326.4h0M273 357.2h0M320.6 360.1h0M286.7 316.3h0M292.7 358.1h0M263.9 329h0M243.9 371.5h0M406.4 331.7h0M227 373.2h0M337.5 363.7h0M301.9 316.3h0M332.9 363.7h0M190.8 318.9h0M421 327.8h0M420.4 333.8h0M318.3 323.9h0M163.3 313h0M361.5 377.7h0M297.3 336.8h0M318.8 327.7h0M430.3 357.4h0M191.3 377.9h0M243.8 384.6h0M300.9 328.1h0M213.7 367.5h0M277 337.9h0M363 334.2h0M330.2 328.3h0M379.5 337h0M267.5 356.8h0M304.6 355.3h0M323.1 327.2h0M290.9 368.4h0M251.3 330.8h0M220.9 333.2h0M316.2 327h0M370.6 330.7h0M407.4 342.2h0M357.3 338.5h0M292.6 369.5h0M383.2 337.3h0M212.4 364.5h0M264.8 366.2h0M395.5 332.4h0M468.8 336.5h0M410.5 332.5h0M427.5 364.3h0M386.2 376.1h0M386.5 366.4h0M266.8 366.1h0M371.6 323.4h0M193.4 311.4h0M330 337.6h0M289.2 374.1h0M349.9 330.7h0M315.3 323.1h0M233.3 318.1h0M290.5 320.7h0M358.9 336.5h0M262.5 321.7h0M169.8 377.7h0M234.1 325.3h0M230.9 330.1h0M356.3 368.9h0M191.4 323.6h0M421.6 331h0M119.6 320.6h0M289.5 335.3h0M449.3 358h0M320.8 335.1h0M326.3 342.7h0M409.6 351.6h0M326.6 335.2h0M331.2 316.6h0M398.6 350.3h0M256.9 368.5h0M311.4 377.2h0M279.9 365.3h0M226.3 380.8h0M309 372.5h0M437.2 330.9h0M380 310.7h0M270.1 321.2h0M344.5 355.6h0M259.5 367h0M176 318.3h0M310.2 358.6h0M395.9 337.3h0M165.1 318.7h0M248.7 337.6h0M292.1 331.4h0M331.9 360.2h0M371.9 366.3h0M231.4 319.2h0M301.3 313.8h0M190.1 309.7h0M268.5 327.8h0M306.8 325.1h0M208.9 359.4h0M243 365.6h0M271.3 328.2h0M266 335.3h0M126.9 323.3h0M393.5 337.6h0M370.2 360.2h0M220.9 335.5h0M334.1 338.2h0M356 338.1h0M290 335.2h0M302.2 331.5h0M400.9 354.5h0M289.9 333.2h0M302.2 326.5h0M272.4 337.2h0M347.7 325.7h0M218.2 315.1h0M257 321.9h0M354.7 368.6h0M250.3 368.8h0M305.5 358h0M224.6 381.7h0M236.2 316.8h0M304.4 323.8h0M370.1 314.2h0M250.2 366.8h0M413.4 329.6h0M228.9 311.5h0M278.1 321.5h0M281.5 326.7h0M209.2 315.3h0M279.2 374.4h0M365.1 356.2h0M253.5 379.7h0M329.6 333.9h0M219.8 322.9h0M256.2 357.7h0M319.2 319h0M359.9 355.5h0M327.4 335.6h0M279.3 335.8h0M232.9 365.7h0M153.5 374h0M268.3 325.2h0M136.8 339.6h0M241.9 372.5h0M307.4 374.5h0M136.6 336.8h0M206.9 377.7h0M271.9 357.5h0M399.9 361.1h0M366.6 363.9h0M309.6 316.4h0M236.8 336.4h0M319.6 321.9h0M278.4 315.5h0M271.2 360.4h0M356.1 365.3h0M367.8 361h0M317.4 364.3h0M469 359.7h0M380.8 364.7h0M271.8 367.2h0M259.2 336.1h0M299.3 380.6h0M133.5 314.2h0M451 328.6h0M241.6 364.4h0M364.6 364.5h0M370.5 335.2h0M127.1 330.1h0M130.7 374.7h0M118.5 312.7h0M274.8 339.7h0M392.8 359.3h0M317.8 340.4h0M267 324.7h0M287.6 322.8h0M366.5 328.4h0M192.4 328h0M242.6 333.1h0M318 369.8h0M276.7 363.1h0M323.2 327.3h0M200.1 313.4h0M283.2 375.3h0M267 314.9h0M342.9 370.4h0M350.6 362.6h0M212.8 320.6h0M150.8 334.9h0M260.3 370.7h0M343.7 371.9h0M260.3 326h0M304.4 329.2h0M342.3 378.2h0M248.9 321h0M234.2 371h0M225.7 384.1h0M362.9 365.2h0M237.5 362.2h0M317 324.9h0M122.6 318.2h0M277.5 320h0M129.3 374.6h0M296.7 333.8h0M248.3 330.1h0M332.8 320.3h0M346.4 336.4h0M301.5 383.7h0M321.6 366.7h0M445.1 329.7h0M342.1 336.8h0M448.3 358.6h0M258.1 375.3h0M258.9 372.1h0M306.7 336h0M361.5 355h0M205.2 367.2h0M226.6 309.8h0M342.9 327h0M334.6 337.7h0M463.1 335h0M221.3 369.2h0M385.6 368.3h0M296.1 335h0M312.5 369.3h0M238.6 367.7h0M319.8 329.5h0M326.6 329.5h0M252.1 324.2h0M385.6 333.1h0M396.4 331.3h0M215.8 370.5h0M378.9 368.6h0M307.9 369.7h0M368.4 359.1h0M300.5 368.7h0M108 324.2h0M423.9 332.5h0M277 332.1h0M319.9 309.6h0M330.5 373.5h0M363 355.5h0M360.9 365.9h0M314.3 341.2h0M345.7 376.6h0M333.3 353.8h0M330 372.4h0M249.8 316.2h0M318.2 328.3h0M360 363.1h0M316.6 356.4h0M377.8 367.3h0M307.8 332.7h0M303.9 372.2h0M164.1 332.9h0M467.1 355.4h0M295.7 342.1h0M350.9 357.3h0M315 338h0M211.8 313.3h0M227.9 312.8h0M233.1 373.5h0M133.2 340.7h0M340.7 354.5h0M195.3 382.1h0M262.9 379.7h0M235.6 365.1h0M305 337.4h0M329.4 374.1h0M213.9 366.6h0M269.2 339.2h0M361 366.1h0M212.6 362.7h0M248.4 357.5h0M411.5 362.7h0M241.6 360.8h0M262.9 313.1h0M365.6 381.6h0M313.6 330.1h0M282.7 318h0M313.7 374.6h0M220.4 324.2h0M360.8 364.2h0M224.5 322.6h0M167.3 370h0M337.4 370.1h0M293.9 331.5h0M222.4 368.8h0M196.5 334.9h0M315.5 382.5h0M216.7 325.3h0M318.4 381.1h0M347.3 365.3h0M292.1 332h0M324.5 315.7h0M357.8 374.4h0M306.3 313.1h0M257.2 378.1h0M350.1 331.1h0M386.8 353.5h0M391.1 364.8h0M250.3 317.7h0M222.5 330.5h0M346.7 320.8h0M265.4 324.7h0M198 318.8h0M334.7 336.1h0M250.9 384.2h0M265.1 331.3h0M340 329.2h0M323.1 365.8h0M309.2 317.6h0M323.4 383.1h0M260.6 335.6h0M318.5 337h0M233.1 336.3h0M282 328.8h0M303.3 373.4h0M265.9 355.2h0M332.3 335.2h0M457.5 330.3h0M195.9 374.9h0M330.7 322.9h0M341.7 363.1h0M193.1 326.3h0M284.7 320.5h0M246.2 374.9h0M363.5 376.5h0M334.2 334.5h0M342.7 326.9h0M312.8 381.6h0M316 327.5h0M290.3 336.3h0M366.2 352.2h0M259 358h0M424.1 361.5h0M250.2 321.1h0M316.1 361.5h0M201.8 311.9h0M296.1 337.1h0M351.1 353.8h0M229.9 343.6h0M353.1 321.9h0M299 325.2h0M249.7 334.4h0M373.7 355.7h0M320.5 331.5h0M448.6 334.9h0M278.7 329.3h0M135.7 339.4h0M316.5 376.1h0M191.2 368.1h0M304.6 361.4h0M342.8 338h0M278.2 356.9h0M377 356.4h0M343.2 371.8h0M239.9 371.3h0M276.5 317.5h0M223.1 329.1h0M351.3 320.7h0M180.1 323.9h0M329.7 359.1h0M241.4 319.2h0M438.3 359.1h0M264.5 374.7h0M297.8 342.2h0M346.5 316.3h0M259.4 331.8h0M219.8 335.1h0M356.8 328h0M320.7 367.9h0M401.8 335.8h0M350.7 362.3h0M387.2 358.7h0M355.9 317.5h0M278.3 332.3h0M271 378h0M325.2 331.9h0M459.4 333.9h0M289.6 375.6h0M218.1 377.6h0M240.9 317.8h0M448.1 327.1h0M351.6 363.2h0M369.5 370.8h0M338.6 359.1h0M284 338.4h0M321.4 314.7h0M254.8 323.2h0M254.3 323.1h0M380.4 374.6h0M255.7 338.8h0M290.4 322.7h0M334.3 328.6h0M275.1 326h0M465.9 356.5h0M204.8 381.6h0M425.5 334.3h0M279.1 309.2h0M213.3 323.4h0M310.3 358.3h0M331.7 361.1h0M198.1 321.4h0M220.1 381.3h0M219.6 321.9h0M343.5 362.2h0M413.3 359.3h0M333.1 355.9h0M364.6 367.8h0M232.2 383h0M303.5 354.5h0M258.9 361.3h0M290 326.5h0M224.7 317.3h0M443.7 332.1h0M256.9 323h0M345.2 359.8h0M275.9 327.2h0M291.9 314h0M443.7 339.9h0M355.4 362.5h0M174 323.5h0M427 363.3h0M260.7 312.8h0M340.7 333.5h0M224 373.5h0M361.7 369.9h0M360.9 371.6h0M330.4 367h0M227.1 373h0M234.9 333.1h0M370.4 375.1h0M247.9 327.4h0M281 355.7h0M366.9 361.9h0M466.8 336.2h0M290.8 313.1h0M250.1 335.5h0M230.8 368.1h0M373.1 321.5h0M177.8 326h0M437.1 360.7h0M274.6 326.7h0M282.8 325.9h0M400.3 331.4h0M270 318.9h0M426.7 333.1h0M217.7 331.6h0M252.5 321h0M178.6 319.3h0M272.8 356.9h0M305.9 380.5h0M245.6 335.7h0M209.4 374.8h0M469.6 333h0M311.9 371.1h0M251.3 331h0M331.2 316.8h0M360.8 351h0M448.4 333.6h0M323.3 326.4h0M386.1 359.7h0M349.7 366.8h0M229.1 370.7h0M255.3 362.5h0M335.5 372.9h0M308.8 314.3h0M311.7 366.8h0M205.9 319.1h0M269.2 370.5h0M266.9 336.3h0M282.4 327.4h0M421 357.4h0M306.6 373.6h0M277.7 326.6h0M279 324.3h0M298.6 365.3h0M384.6 371.8h0M255.3 329.9h0M266.1 362.4h0M141.1 316h0M347.2 328.5h0M334.9 377.2h0M290.7 320.8h0M377.1 369.8h0M402.2 337.5h0M156.8 384.3h0M469.7 367.1h0M229.3 330.2h0M299.6 324.7h0M363.6 341.2h0M378.8 365.9h0M377.4 356.8h0M236.7 361.9h0M190.6 328.1h0M279.7 320.6h0M261.6 357.7h0M338.9 370.9h0M409.5 356.9h0M264.6 375.1h0M174.8 375h0M204.7 371.2h0M266.4 316h0M328.8 333.1h0M221.5 328.1h0M408.9 332.3h0M313.6 367.7h0M370.6 316.5h0M346.3 367.2h0M369.4 334.2h0M279.7 362.6h0M280.1 335.5h0M350.4 364.9h0M317.8 329.8h0M309.8 362.4h0M396.8 338.9h0M278.6 360h0M305 328.7h0M402.8 334h0M393 359.1h0M337.2 356.9h0M308.4 324.3h0M280.2 333h0M213.2 378.6h0M244.5 333.3h0M414.9 368.9h0M217.4 328.2h0M319.7 330.9h0M390.3 356.3h0M190.7 365.3h0M207.7 324.7h0M338.9 337.8h0M229.2 321h0M291.9 337.6h0M387.5 370.2h0M269.7 331.2h0M308.4 333.1h0M389.5 356.9h0M266.4 334.3h0M313.9 365.9h0M214.2 329h0M342.4 325.8h0M267.6 366.7h0M333.7 333.1h0M267.7 370.4h0M272.5 383.9h0M370.9 333.5h0M233.3 323.4h0M296.6 371.9h0M262.4 325.6h0M316.1 328.1h0M333.5 322.3h0M273.1 330.3h0M233.8 370.3h0M369.7 362h0M293.1 360.4h0M270.6 324.1h0M318.3 369.4h0M436.2 334.8h0M171.3 324.6h0M251.4 326.4h0M262.8 323.1h0M411.3 339.2h0M316.7 320.1h0M325.4 361h0M454.7 336.6h0M269.7 359h0M401.2 363.6h0M281.2 331.3h0M308 320.2h0M410.3 330.8h0M272.1 366.3h0M219.8 328h0M191 310.1h0M349.7 353.8h0M401.2 333.5h0M224.5 318.5h0M413.2 331.2h0M304.8 354.1h0M218.6 329.7h0M284.4 365.2h0M371.6 325.3h0M380 327.9h0M255.2 332.6h0M295.2 356h0M279 366.2h0M416.7 326.1h0M329 330.2h0M205.2 323.7h0M261.4 330.7h0M247.8 365.9h0M386.8 356.9h0M217.7 328.6h0M324.4 357.7h0M351.6 374.2h0M303.1 379.6h0M327.5 354.9h0M258.5 326h0M231.9 379.4h0M288.7 320.9h0M251.5 312.9h0M242.8 377.4h0M374.7 371.5h0M261.5 367.6h0M295 362.7h0M331.5 331.6h0M341.2 326.4h0M378.1 358.6h0M327 362.6h0M288 377.2h0M402.7 326.2h0M381.8 366.7h0M295.2 332.9h0M373.3 329.1h0M170.1 374.6h0M312 380.5h0M349.3 366.1h0M454.6 331.4h0M270.1 326h0M120.3 338.5h0M183.2 369.9h0M227.4 361.4h0M373.1 323.3h0M122.7 330.8h0M209.2 321.5h0M242.8 370.1h0M257 363.8h0M349.8 337.3h0M270.8 360.6h0M161.4 327.8h0M370.7 321.3h0M286.5 328.4h0M266.9 356h0M266.6 316h0M174.4 321h0M261.3 331.6h0M349.5 318.7h0M310.9 364.2h0M402.8 362.7h0M333.1 362.8h0M420.4 328.7h0M327.4 382.1h0M285.6 363.5h0M221.8 330.8h0M256 323.1h0M369.9 358.3h0M406.3 365h0M214.3 366.2h0M234.1 329.9h0M324.3 320.4h0M385 357.8h0M199.2 311h0M204.2 374h0M359.5 335.1h0M276.7 326.2h0M279.1 333.6h0M281.4 373h0M250.8 367.3h0M349.1 334.9h0M388.7 329.3h0M354.2 376.5h0M253 330.4h0M194.4 374.1h0M294.9 315.6h0M262.9 317.6h0M190.3 316h0M230 319.2h0M287.2 335.8h0M344.3 366.2h0M334.4 331h0M285.3 360.1h0M467.8 360h0M272.8 337.7h0M376.1 335.3h0M154.6 317.4h0M234.5 326.6h0M248.8 338.2h0M260 325.1h0M349.9 366.7h0M265.6 363.7h0M372.7 369.4h0M391.6 326.9h0M295.6 316.7h0M399 356.7h0M469.7 333.1h0M317.7 335.6h0M301 327h0M223.1 377.2h0M415.2 358.4h0M307.4 334.7h0M344.9 319.5h0M184.8 323h0M284.4 334.7h0M166.9 318.1h0M208.7 370.8h0M283.4 312.1h0M245.9 369.2h0M416.5 327.8h0M297.1 324.1h0M374.8 338.2h0M210.9 323.6h0M344.7 318.4h0M316.7 319.4h0M344.7 334.9h0M275.8 337.4h0M277.8 370.2h0M284.1 372h0M186.1 362.6h0M354.3 367.8h0M372.9 320.8h0M412.5 329.6h0M393.7 362h0M358.3 318.1h0M192.6 324.9h0M437.2 363.3h0M361.4 371.6h0M260.6 321.6h0M392.7 330.6h0M277.9 382.7h0M240.4 363.3h0M338.3 332.3h0M294.4 331.5h0M343.7 330.8h0M258 328.5h0M274.2 327.5h0M293.1 365.8h0M260.3 376.6h0M444.6 327.1h0M425.9 327.8h0M325.5 327.6h0M237.2 329.5h0M254.7 323.1h0M339.3 325h0M451.6 329.4h0M303.1 328.3h0M232.8 371.7h0M297.5 323.2h0M295.2 373.5h0M182.8 339.4h0M282.8 337.1h0M278.9 381.1h0M303.6 333.3h0M251.4 340.2h0M423.3 330.9h0M276.3 358.3h0M341 313.9h0M297.1 367.8h0M305.3 369.2h0M342.6 315.3h0M216.3 333.6h0M342.9 368.8h0M254.9 374.4h0M223.6 322h0M364.5 370.5h0M334.3 327.4h0M287.3 323.6h0M196.8 313.5h0M245.5 365.2h0M195.5 314.6h0M284.3 373.8h0M374.1 338.6h0M129.2 320.1h0M253 366.9h0M315.6 358.8h0M169.1 371h0M296.8 372.8h0M264.2 365.8h0M183 320.8h0M346.2 325.2h0M180.2 384.4h0M329 382h0M373.8 359.9h0M394.3 356.3h0M320.6 319h0M365.2 357.4h0M318.9 379.7h0M283.5 357h0M183.9 320.4h0M322.6 366h0M444.7 333.3h0M377.4 360.6h0M203.1 380.6h0M262.2 362.4h0M449.6 361.6h0M270.2 360.9h0M253.7 333.9h0M282.9 315.5h0M315.3 334.9h0M99.5 367.9h0M180.6 327.9h0M207.2 376.4h0M370.1 334.9h0M203.9 370.2h0M276.5 363.6h0M288.2 355.6h0M276.2 326.9h0M310.5 337.8h0M404.6 361.2h0M311 376.3h0M124.7 310.2h0M268.1 357.6h0M332.1 381.3h0M319 380.2h0M241.4 368.8h0M347.3 355.7h0M267.1 368.2h0M239.7 356.5h0M242 366.8h0M396.2 364.6h0M412.3 359.7h0M447.7 358.8h0M435.3 356.5h0M170 320.9h0M447.7 328.5h0M258.2 328.7h0M438.8 334.2h0M337.5 324.4h0M348.7 345.6h0M384.5 334.5h0M261.2 360.8h0M211.9 380.9h0M377.5 371.4h0M335 365.3h0M402.9 335.1h0M225.3 322.7h0M307.5 327.9h0M287.4 357.8h0M279.6 333.5h0M301.5 327.7h0M459.2 326.2h0M283.7 354.5h0M239.3 375.9h0M252.5 371h0M278.5 361.4h0M259.4 314.1h0M315.8 365.7h0M367.8 329h0M342.6 326.8h0M423.4 329.5h0M255.9 382.8h0M358.4 358.3h0M318.7 381.8h0M319.1 376.5h0M455.4 354.3h0M246.4 316.7h0M307.1 322.6h0M389.9 332h0M287.6 368.7h0M252.4 367.5h0M405.8 364.1h0M318 325.9h0M297.5 369.6h0M179.4 366.8h0M315.7 318.3h0M345.7 331.3h0M261.3 383.1h0M376.5 364.6h0M311.8 335.2h0M305.1 364.9h0M219.2 364h0M241.7 329.8h0M381.7 366.9h0M384.8 363.3h0M307.8 326.8h0M432.6 354.8h0M289 365.8h0M330 375.6h0M401.6 359.4h0M355.5 359.1h0M436.9 326.8h0M326 337.7h0M343.7 359.2h0M230.2 328.4h0M311 334.3h0M310.5 329.1h0M161.8 373h0M153.4 312.3h0M309.2 328.8h0M238.7 359.4h0M336.2 357.2h0M303.4 327.8h0M411.9 326.1h0M228.8 384h0M219.8 322.7h0M284.7 326.6h0M256.8 327.6h0M321.3 354h0M229.2 381.3h0M318.3 354.5h0M250.1 324.4h0M381.8 333.8h0M276.5 370.7h0M345.3 356.4h0M325.8 358h0M323.2 378.3h0M315.1 333.7h0M166.2 373.2h0M271.8 322.9h0M215.6 330.7h0M329.9 371.9h0M464.8 340.4h0M340 360h0M310.2 357.3h0M468.3 333.7h0M253.9 366.3h0M369.1 367.9h0M263 336.8h0M303.4 363.4h0M382 360.7h0M246.3 327.8h0M244 382.1h0M274.2 312.5h0M230.6 321.6h0M193.4 374.7h0M271.1 317.8h0M337.6 368.2h0M372.8 323.9h0M304.2 364.1h0M140.1 338.5h0M271.3 317.9h0M221.7 374.7h0M225.9 370.8h0M310 322.8h0M341.5 324.6h0M330.8 377.1h0M267.2 379.7h0M351.1 365.3h0M135.9 384.6h0M332.4 329.1h0M293.1 369.2h0M438.4 325.3h0M287.2 333.9h0M191.8 324.5h0M359.8 362.3h0M314.9 328.9h0M294.6 333.8h0M228.9 376.1h0M401.2 367.4h0M246.4 324h0M128.7 326.7h0M321.3 381.6h0M251 351.4h0M466.8 346.6h0M160.5 313.9h0M384.1 372.3h0M311.6 316.7h0M309.3 369.3h0M316.3 369.9h0M243.5 320.6h0M334.4 353.4h0M329.1 357h0M364.2 313.8h0M376.1 363.5h0M348.4 370.5h0M163.7 314.4h0M311 328h0M124.9 380.6h0M269 332.3h0M273.7 310.6h0M307.1 335.1h0M292.7 369.1h0M401.9 366h0M248.8 379.9h0M268 332.3h0M272.1 368.6h0M237.8 362.5h0M307.2 360h0M234.7 332.2h0M282 322.9h0M301.8 330.1h0M379 320.9h0M305.5 365.2h0M355.6 357.8h0M418 341.6h0M240.4 374.8h0M331.6 367.7h0M238.6 331.2h0M237.5 368.4h0M269.9 327.4h0M404.4 329.7h0M267.8 356.3h0M235.4 323.5h0M283.5 317.3h0M314.5 334.7h0M285.3 329h0M204.8 362h0M252.3 368.8h0M402.6 331.2h0M379.5 330.7h0M283.8 329.6h0M273.9 321.6h0M410.5 334.4h0M344.1 365.4h0M173.7 368.3h0M231.4 329.1h0M325.5 377.8h0M343.4 358.4h0M311.1 329.6h0M451.3 355h0M344.7 360.6h0M336.8 323.3h0M300.8 316.5h0M339.2 356.8h0M271.4 367.6h0M336.8 324.5h0M276.7 358.5h0M306.1 357.3h0M306.4 363h0M351.4 322.4h0M239.1 376.3h0M316.1 364.5h0M392.5 354.8h0M331.2 367.1h0M230.6 319.8h0M228.8 326.9h0M292.9 380.9h0M258 375.6h0M284.4 325.2h0M114 372.2h0M393.2 368.6h0M381 354.1h0M224.2 383.9h0M298.4 356.7h0M314.6 364.7h0M292.5 325h0M318.8 336.7h0M332.8 360.1h0M153.3 337.2h0M385.2 330.2h0M292.3 325.8h0M222 365.1h0M271.7 368.6h0M222.3 369h0M288.5 334.1h0M346.8 330.7h0M230.7 329.2h0M347.4 328.8h0M228.1 330.3h0M326.1 330.1h0M410.9 365.7h0M349.2 359h0M255 334.3h0M327.8 343.3h0M331.4 328.9h0M262.2 315.2h0M313.9 335.1h0M232.3 366.1h0M207.3 374.6h0M103.3 317.8h0M270.7 360h0M237.5 337.3h0M268.6 361.3h0M223.2 369.5h0M315.6 329.6h0M322.1 357.7h0M307.7 334.7h0M298.1 335.8h0M291.6 333.5h0M290.7 363h0M233.6 369.8h0M223.9 315.2h0M312.5 355.8h0M145.7 383.3h0M301.7 363h0M168.8 328.2h0M254.4 320h0M406.5 359h0M164.9 370.1h0M268 380.6h0M281.5 362.5h0M303.2 336.4h0M302.3 380.2h0M381.8 327.6h0M300.1 360.6h0M400.7 355h0M309.9 363.9h0M312.1 332.1h0M386.6 370.7h0M270.9 362.5h0M468.4 355h0M227.5 310.9h0M211 318.6h0M353.4 356.1h0M210.4 311.1h0M251.2 360.8h0M246.8 316.1h0M294.4 316.9h0M425 326.2h0M331.2 326.6h0M290.2 322.6h0M377.6 326.4h0M343.9 334.7h0M328.8 357.1h0M322.8 319h0M259.8 331h0M241.8 324h0M390.3 370.4h0M437.7 371.1h0M215.9 325.8h0M323.4 361h0M281.9 334.8h0M235 319.3h0M443 362.2h0M105 326.9h0M286.7 364h0M313.6 380.2h0M223.9 322h0M247.6 328.6h0M298.4 312.4h0M245.4 334.2h0M314.7 367.6h0M271.2 319.6h0M348.4 353.1h0M260.4 336.3h0M212 331.7h0M428.2 364.6h0M194.6 380.3h0M213.9 321.5h0M318.6 381.1h0M207.8 372.3h0M354.6 320.3h0M347 379h0M218.3 366.1h0M283.9 375.8h0M391.3 337.2h0M220.9 329.7h0M252.2 333.8h0M262 334h0M417.1 369.2h0M266 366.1h0M433.6 360.3h0M223.3 364.6h0M296 317h0M213.1 316.3h0M305.5 333.8h0M453.6 360.9h0M281.1 339.6h0M147 321.6h0M205.7 321.2h0M221.5 366.9h0M246.7 335.1h0M390.8 358.9h0M393 369.4h0M196.7 316.1h0M303.2 327.8h0M259.8 371h0M330.6 365.8h0M318.1 314.2h0M283.1 362.5h0M244.2 315h0M356.4 338.9h0M335.4 370.3h0M199.9 377.5h0M217.4 311.1h0M371.9 362.8h0M284.6 373.7h0M352.7 364.6h0M247.5 317.9h0M351.7 339.5h0M231.7 323.3h0M246 380.2h0M310.9 339.1h0M243.2 367.2h0M353.8 371.1h0M381.9 354.4h0M286.9 333.7h0M220.7 371.6h0M350.7 376.5h0M286.5 366h0M295.8 331.9h0M347.8 353.7h0M370.3 340.3h0M339.4 326h0M333.7 367.2h0M227.4 333.6h0M236.6 316.2h0M260.4 359.9h0M438.4 359.9h0M458.5 360.1h0M281 369.1h0M278 342.4h0M275.6 361.2h0M262.7 362.6h0M464.3 338.3h0M350.6 320.4h0M147.1 329.9h0M287.5 358.4h0M369.7 368.5h0M317.8 333.2h0M346.5 323.4h0M232.8 377.4h0M284.5 322.1h0M384.8 357.8h0M318 310.8h0M433.5 372.4h0M240.9 319.1h0M237.2 332.8h0M372.1 333.9h0M210.6 380.4h0M458.8 333.6h0M263.7 356.9h0M293.5 365h0M150.8 332.6h0M290.6 316.3h0M339.8 331.2h0M432.9 364.6h0M287 318.9h0M123.8 334.6h0M409.3 338.6h0M312.6 318.2h0M306.5 354.3h0M355.9 366.8h0M291.8 336.6h0M172.7 379.5h0M327.8 360.2h0M250.7 328.5h0M273.2 329.5h0M253.7 368.4h0M209.4 320.2h0M304.4 319.7h0M270 321.1h0M282.9 321.2h0M367 335.4h0M186.6 320.8h0M285.6 331.6h0M253.9 364.6h0M295.6 358.9h0M129.3 381.2h0M257.1 318.4h0M302.5 359.6h0M311.3 315.7h0M248.3 323.9h0M323.3 333.3h0M428.3 360.1h0M387.8 332.6h0M308.6 367.7h0M378.7 356.5h0M336.9 330.5h0M232.6 333.8h0M443.2 355.4h0M333.5 323.6h0M190.9 369.2h0M367.7 331h0M282.2 363.4h0M235.2 358.9h0M219.9 321h0M229.4 331.5h0M327 310.1h0M364 324.5h0M437 367h0M299.1 337.7h0M297.6 359.4h0M332.8 338.6h0M337.1 333.1h0M123.8 382.2h0M458.5 355.7h0M372.1 365.9h0M279.6 375.6h0M257.6 380.9h0M290.8 357.5h0M254.1 369.5h0M347.7 359.9h0M286.4 329.2h0M220.5 325.9h0M367.2 335.8h0M192 326.5h0M313.5 360.1h0M416.2 356.7h0M244.5 371.1h0M360 355.8h0M203.6 320.5h0M273.6 322.7h0M253.8 326.9h0M334 360.2h0M290.1 364.3h0M314.2 364.5h0M333.1 354.8h0M275.5 329.5h0M372.9 320.4h0M307.7 321.9h0M269.2 363.8h0M293 333.6h0M418.6 355.9h0M352.6 335.1h0M294.9 339.2h0M274 374.3h0M198.8 322.3h0M276.6 326.4h0M227.6 340.9h0M291 359h0M357.8 361.2h0M302 328h0M254.5 316.1h0M266.5 360.5h0M334.5 327.8h0M170.4 322.1h0M271.2 382.9h0M419.8 373.5h0M246.4 368.6h0M297.8 362.9h0M301 320h0M339.2 357.3h0M394 326.6h0M345.4 336.7h0M363.6 321.8h0M302.3 382.1h0M309.4 365.8h0M347.3 352.3h0M367.3 368.3h0M148.7 354.7h0M149 376.1h0M289.4 358.1h0M270.3 373.3h0M464.8 332.6h0M267.9 359.9h0M268.8 355.6h0M171.3 376.2h0M325.9 379.6h0M296.1 363.2h0M399.2 335.3h0M320.3 333.7h0M233.2 333.2h0M244.7 332.8h0M322.7 354.6h0M274 332.5h0M340.5 322h0M120 329.4h0M281.5 359h0M285.7 360.9h0M337 354.9h0M372.8 365.6h0M360.8 358.8h0M222.8 378.1h0M418.8 371.1h0M263.8 381.9h0M365.3 318.6h0M319.3 370.2h0M385.1 360h0M409.8 337.8h0M375.2 335.1h0M340.2 314.9h0M376.1 331.3h0M426.9 330h0M366.9 371.6h0M337.1 368.3h0M289.8 318.4h0M182 328.2h0M423.4 327.1h0M333.9 359.1h0M308.1 370.1h0M348.6 357h0M262 326h0M309.3 331.9h0M201.5 330h0M264.6 364.7h0M400.9 360.2h0M129.3 355.5h0M213.7 364.9h0M297.4 370.4h0M310.4 373.1h0M366.4 357.3h0M390.9 355.4h0M292 359.9h0M290.4 368.6h0M315.2 330h0M295 364.5h0M346.8 332h0M330.4 325.9h0M234.5 311.3h0M444.2 334.2h0M282.2 327.5h0M313.4 356.7h0M289.3 321.8h0M233.5 376.1h0M118.9 315.9h0M245.6 372.1h0M354.4 329.3h0M248.2 363.5h0M189.9 381h0M293.2 360.2h0M173.8 383h0M307 382.7h0M302.5 373h0M275.7 328.6h0M356.8 317.4h0M162.6 330.7h0M369.3 361.5h0M221.8 381.5h0M147.3 381.1h0M316.8 364.6h0M308.5 365.8h0M293.5 371.2h0M284.7 368.7h0M137.3 323.6h0M347.8 329.3h0M300.8 341h0M202.7 316.5h0M161.8 318h0M334 361h0M402.1 358.3h0M420.6 371.7h0M337.9 317.2h0M355.4 318.9h0M289.6 358.8h0M250.6 369.7h0M389.9 366.7h0M401.2 326.9h0M369.8 373.1h0M404.4 363.6h0M292.4 379.7h0M300.5 363.8h0M242.8 367.9h0M363.3 372.4h0M323.8 328.6h0M380.2 362.2h0M186.6 313.5h0M258.8 336.6h0M318.1 329.3h0M356.1 330.4h0M256.6 372.6h0M261.5 360.5h0M307.8 323.8h0M308.9 315.1h0M247.3 371h0M232.2 336.3h0M268.7 324.8h0M392.3 360.7h0M260.8 365.7h0M222 329.5h0M287 330.8h0M423.1 334.4h0M290.1 376.1h0M254.1 331.8h0M348.4 365.8h0M274.3 355.6h0M360.4 354.4h0M302.7 326.5h0M455.8 336.3h0M274.5 377.7h0M291.5 367h0M369.2 330.9h0M297.2 354.1h0M226.6 362.1h0M283.3 323h0M261 377.7h0M152.5 370.2h0M309 329.5h0M382.9 374.9h0M280.2 316.3h0M386.4 367.8h0M226.9 318.7h0M274.7 358.1h0M185.4 378.7h0M231.7 319.5h0M306.2 375.5h0M276.4 337.1h0M323.9 336.2h0M185.8 376.3h0M257 326.2h0M270.4 364.2h0M283.9 373h0M154.2 327.3h0M257.1 365.1h0M251.8 363.6h0M257.4 365.4h0M294.6 336.4h0M416.6 373.8h0M323.9 360.9h0M396.7 335.1h0M307.2 329.4h0M316.6 313h0M365.1 364.1h0M376.8 325.2h0M372.2 362.9h0M260.6 320h0M276.4 330.5h0M351.6 321.1h0M271 333.9h0M315.5 356.9h0M272.3 362.5h0M238.5 330.7h0M379 334.4h0M320.7 372.5h0M342.6 323.1h0M234.4 359.2h0M182.2 325.6h0M351 335.5h0M250.5 318.2h0M189.9 324.8h0M251.7 377h0M345.2 310h0M194.1 318.1h0M304.3 332.2h0M438.2 359h0M282.5 370h0M250.8 334.9h0M321.2 355.6h0M368.3 331.1h0M410.9 334.9h0M273.5 352.9h0M364.6 350.9h0M406.6 367.9h0M141.3 329.6h0M318.5 332.5h0M288.3 361.7h0M122.9 319.4h0M373.6 368.6h0M311.8 324.5h0M276.6 364.5h0M320.1 366.4h0M265.8 313.5h0M346.6 376.6h0M398.5 342h0M255.8 335h0M333.9 365.3h0M402.6 337.5h0M343.7 347.6h0M366 367.7h0M328.8 330h0M419 335.9h0M398.2 366.8h0M361.6 362.1h0M320 359.8h0M337.7 375.7h0M299.3 364.6h0M213.9 380.6h0M387.6 365.5h0M263.7 319.9h0M417.6 364.1h0M158.4 376.4h0M345.1 338.1h0M213.1 368.4h0M451.1 365.7h0M164.6 377.5h0M260.9 362.5h0M374.9 332.7h0M349 370.3h0M245.7 371.6h0M387.8 358.1h0M251.8 362.7h0M260.6 321.1h0M340.8 354.8h0M297.8 326h0M446.5 333.7h0M173.6 369.7h0M285.1 334.9h0M327.8 365.2h0M224.9 368.4h0M419.5 339.1h0M361.1 321.4h0M379.6 328.1h0M328.9 358.9h0M420.6 358.5h0M339.5 323.3h0M334.6 326.6h0M262.9 377.2h0M350.8 328.5h0M335.9 325.1h0M367.6 324.4h0M283.4 338h0M370.2 313.8h0M360.6 322.4h0M308.6 329.6h0M225.9 315.2h0M354.2 360.2h0M257.4 324.1h0M392.8 377h0M257.2 363.9h0M413.7 362.1h0M314.9 381.3h0M310 376.2h0M297.1 366.9h0M107.8 310.8h0M101 316.2h0M117.7 315h0M131.7 309.2h0M378.3 385.3h0M399.7 381.7h0M426.3 383h0M438.3 381.7h0M442.2 382.2h0M455.3 384.7h0M466.3 373.8h0M462.5 367.5h0M413.3 376.7h0M416.7 375.8h0M472.7 328.7h0M479 332.5h0M524 339.5h0M530 350.8h0M513.2 361h0M489.5 373.7h0M506 358h0M507.5 355h0M510.5 351.2h0M518 352.3h0M520.2 352.5h0M511.2 341.5h0M503.7 337.7h0M500.7 340h0M497 340.7h0M497.7 343h0M496.2 357.7h0M489.5 353.5h0M491 357.2h0M485 355h0M484.2 359.5h0M479 361.7h0M477.5 357.2h0M473 355h0M471.5 364.7h0M481.2 349h0M474.5 342.2h0M485 339.2h0M482 337.7h0M488 340h0M428.3 310.3h0M380.8 311.7h0M389.7 313.3h0M398.3 314.2h0M398.7 315.8h0M405 317.5h0M403.3 320.8h0M406.7 319.2h0M443.3 320.8h0M446.3 324.2h0M440.8 324.2h0M464.7 325.8h0M471.7 327.5h0M473.3 330h0M420.8 324.2h0M417.5 325.8h0M409.2 324.2h0M412.5 325.8h0M432.5 325.8h0M435.8 327.5h0M428.3 327.5h0M358.3 310h0M368.3 310.5h0M375.8 313.3h0M472 328.5h0M474 331h0M479 333h0M471.5 336h0M475 335.5h0M479 336.5h0M482 337.5h0M485 339h0M487.5 340h0M467 340h0M470 340h0M475 341h0M475.5 344h0M497 340.5h0M500 342.5h0M503 338.5h0M504.5 337.5h0M498 343.5h0M511 341.5h0M524 339.5h0M481.5 348.5h0M468 355h0M471 355h0M466 358.5h0M476 357h0M479 359h0M478 362h0M482.5 361h0M484 355h0M487 358h0M489 354h0M492 357h0M496 357h0M469.5 363h0M507 352h0M508 357h0M512 352h0M517 352h0M519.5 352.5h0M513 360.5h0M242.8 307.1h0M180.6 390.7h0M240.3 301.6h0M256.4 387.5h0M206.6 307.4h0M278.2 301.6h0M274.1 297.5h0M263.3 304h0M281.9 385.9h0M259 389.2h0M213.7 308.4h0M203.1 307.2h0M241.4 303.6h0M198.3 303.9h0M368.1 386.4h0M249.8 297.2h0M261.3 384.7h0M239 305.2h0M180.7 301.3h0M300.4 387h0M136.9 384.9h0M199 385.3h0M324.4 308.3h0M211.2 298.4h0M255.1 386h0M183.7 302.1h0M325.7 388.3h0M191.2 390.6h0M223.9 390.5h0M353.6 385.2h0M345.7 308.5h0M160.4 301.8h0M186.7 308.2h0M194.1 396.5h0M237.8 388.1h0M188.2 298.5h0M290.5 385.7h0M268.1 302.1h0M251.6 388.6h0M205.9 386.5h0M340.7 386.7h0M233.4 385.2h0M226.6 305.3h0M172.2 296.7h0M262.5 388.1h0M251.9 385.2h0M261.6 301.1h0M214.2 386.2h0M312.7 389.6h0M301 309.1h0M295.8 385.6h0M224.4 384.9h0M190.5 297.1h0M264.4 391.1h0M214.1 296.8h0M215.3 388.9h0M162.9 307.6h0M162.2 299.4h0M302.7 389.7h0M229 303.2h0M192.4 304.8h0M239.8 305.6h0M260.4 390.3h0M203.1 307h0M253.9 306.7h0M279.1 385h0M223.5 303.6h0M239.4 304.9h0M240.1 394.1h0M227.4 396.4h0M262.9 305.4h0M191 307.7h0M211.3 308.7h0M234.9 389.8h0M222.4 390.5h0M170.9 303.9h0M171.4 298.7h0M177.2 307.6h0M178.9 308.2h0M231.2 305.3h0M197.9 296.1h0M264.8 303.6h0M374.3 308.3h0M240.1 297.1h0M165.5 295h0M179.4 300.3h0M231.3 299.2h0M182.5 304.7h0M247.7 304.6h0M237.5 299.8h0M276.4 299h0M370.3 308.1h0M193.8 308.2h0M238.3 297.8h0M272.1 307.3h0M283.4 308.5h0M178.4 308.5h0M222 300.4h0M257.2 304.3h0M255.2 306.5h0M302.3 308.7h0M193.9 303.7h0M210.5 305.6h0M297.7 308.7h0M219.8 304.2h0M232.4 305.2h0M196.2 305.9h0M339.9 308.1h0M369.1 308.6h0M175.4 303.8h0M278.9 306.1h0M229.1 305.8h0M185.3 308.2h0M178.5 303.7h0M267.3 305.9h0M335.7 308.6h0M211.7 390.6h0M310.1 385.8h0M201.7 387.1h0M250.1 389.4h0M259.8 387.6h0M244.6 385.3h0M165.5 387.3h0M241.7 388.9h0M188.3 391.3h0M231.3 387.6h0M204.3 386.1h0M218 387.4h0M247.4 392.8h0M220.7 385.8h0M215.5 391.5h0M145.4 390h0M298 388.5h0M233.2 385.3h0M245.7 386.2h0M244.7 392.9h0M251.2 386.1h0M237.4 388.8h0M312.6 385.2h0M157.6 389.7h0M260.8 389.2h0M259.4 387.9h0M211 387.3h0M245.8 387.4h0M188.5 395.8h0M226 390.3h0M220.1 387.3h0M166.4 387h0M237.4 386.4h0M281.9 387.4h0M183.1 385.4h0M332.6 388.9h0M129.2 388.9h0M194.4 388.9h0M285.9 389.5h0M184.2 387.8h0M269.6 390.4h0M224.8 386.9h0M304.6 389.9h0M155.5 388.8h0M232.9 393.8h0M329.8 386h0M250.6 388.9h0M192.5 388.9h0M149.8 387.9h0M266.4 390h0M208.7 392.2h0M184.2 397.6h0M315 387.3h0M319.8 387.1h0M150 386.4h0M241.6 397.6h0M202.8 388.2h0M218.5 121.2h0M217.5 144.7h0M275.2 117.7h0M289.7 116.7h0M268.8 157.5h0M210 194.5h0M269.7 193.3h0M117.2 240.3h0M154.5 222.8h0M177 218h0M189.2 214h0M189.7 230.5h0M144.5 239h0M164.5 240.2h0M160.5 247.2h0M169.3 251.8h0M162 259.5h0M189.3 260.2h0M199.7 258.7h0M180.3 263.3h0M182.5 264.8h0M149.3 269.3h0M162.5 266.7h0M163.3 269.2h0M164.7 273h0M175.3 271.3h0M162.7 279h0M142.8 281h0M161.3 282.8h0M163.8 286h0M168 285h0M170.8 283.3h0M147.5 288h0M147 289.5h0M137.7 290.7h0M195.8 283.3h0M165.8 290.8h0M166.7 294.2h0M172.5 290.8h0M173.3 293.3h0M182.8 291.3h0M187.5 290h0M223.3 204.2h0M224.5 210.8h0M224.3 215.7h0M283.5 216h0M288.7 214.3h0M230.3 224.5h0M213 227.5h0M218.5 228.3h0M218.7 230.8h0M272 226.7h0M225 234.3h0M231.7 234.3h0M277.3 235.3h0M282 238.5h0M207 240.2h0M237.7 241.3h0M244 240.2h0M251.2 245.5h0M256.5 250.2h0M210.3 248.8h0M213 253h0M213 256.2h0M217.5 254.2h0M226.3 250h0M228.8 251h0M270 252.2h0M201.3 258.7h0M242.8 259.3h0M225.8 263.8h0M230.8 265h0M271.3 263.5h0M276.8 262.7h0M284.7 264.7h0M201.7 269.2h0M235.8 271.7h0M239.7 269.2h0M265.5 266.3h0M266.3 270h0M277 273h0M293 273h0M298.7 269.7h0M210.5 273h0M214.2 275.3h0M218.3 277h0M225.5 275.7h0M252.7 274.8h0M273 276.3h0M209.2 277.5h0M206.7 282h0M219.2 281.5h0M259.5 283.8h0M278.3 279.2h0M279.7 283.3h0M288.3 280.8h0M289.7 284.7h0M206.7 286.7h0M207.5 290h0M211.7 290.8h0M221.7 289.2h0M228.3 285h0M229.2 289.2h0M228.7 293.3h0M234.2 285.8h0M235.8 290.8h0M241.3 288.3h0M248.8 285.8h0M251.7 288.3h0M248.3 292.2h0M259.2 291.7h0M261.7 294.2h0M261.7 288.3h0M278.3 290h0M283.3 288.3h0M281.7 293.3h0M313.8 240.5h0M302.2 250.3h0M326.2 262h0M351.2 259.5h0M300.5 269.7h0M306.3 273h0M305.3 278.8h0M353.8 272h0M361.2 272.8h0M368.3 270.5h0M361.3 278.7h0M325.5 291.7h0M363 291h0M321.7 295h0M317.5 296.3h0M312.5 296.7h0M306.7 298.3h0M344.2 296.3h0M338.3 298.3h0M375.3 295.5h0M382 296.7h0M397.5 292.5h0M396.3 295.8h0M361.7 298.3h0M401.7 290.3h0M114.5 304.2h0M116.7 305.8h0M119.2 307.5h0M122 303h0M129.2 301.3h0M130.8 300.5h0M128.8 307.2h0M145 303h0M147.8 298h0M151.7 300h0M156.7 297h0M152.2 308.7h0M156.3 308.3h0M158.3 303.7h0M159.7 282.5h0M109.5 396.3h0M125.3 396.3h0M146 398h0M146 402h0M133.3 416.3h0M128.5 422.5h0M136.3 431.2h0M148 416.2h0M152.8 409.7h0M156.2 405.3h0M157 406.7h0M161.7 406h0M157 397h0M161.7 398h0M165 398.3h0M167 403h0M165 411.3h0M168.3 411h0M171.7 411.3h0M177.5 403h0M175 416.7h0M178.3 418.3h0M178.3 421.7h0M167 420.3h0M155.3 428.7h0M169.5 430h0M168.8 438h0M174.2 439.3h0M178.7 436.7h0M174.7 474.5h0M176.2 483h0M123 390.8h0M130.3 390.5h0M137 390.8h0M182.5 448h0M192.2 458h0M191.2 464.5h0M204.3 456.3h0M213 448.7h0M227.3 454.7h0M234.5 457.3h0M265.2 457.8h0M281.7 463h0M225 439.3h0M228.7 437.5h0M235 431.7h0M241.7 435.8h0M244.7 436.3h0M249.7 437.5h0M277 433.3h0M261.3 425.3h0M266.7 416.3h0M278.3 416.3h0M243.7 421h0M208 430.5h0M201.7 431.3h0M190 430h0M186.2 427h0M180.8 436.7h0M195.8 423h0M201.3 425h0M202.5 420.5h0M203.3 418.3h0M181.7 423.3h0M183.3 420h0M181.7 415h0M188.7 416.7h0M189.2 420.8h0M205.8 415.8h0M208.7 416.7h0M206.7 410.8h0M196.3 410.3h0M220 419.7h0M222.5 421.7h0M225 419.2h0M227.5 422.5h0M221.7 425.8h0M225 427h0M224.2 413h0M228.3 413h0M226.7 408.3h0M230 405.8h0M240.8 408.3h0M242.5 413.3h0M246.2 407.5h0M250.5 403.3h0M259.7 405.8h0M261.7 403.3h0M255.8 400h0M265 401.7h0M271.3 408h0M276.7 405.3h0M280 403.3h0M214.2 410h0M217 406.7h0M211.7 405.8h0M215.8 401.7h0M201.7 405h0M206.7 403.3h0M200.8 400h0M191.7 406.7h0M185.8 405.8h0M181.7 410h0M180 411.7h0M182.5 398.3h0M190 401.7h0M194.2 400.8h0M291.7 429.2h0M292.2 421h0M310.5 417.5h0M323 421.2h0M327.2 415h0M330.5 410.5h0M325.8 407.8h0M364.5 418.7h0M366.2 425.5h0M292.5 400.8h0M286.7 403.7h0M282.5 401.3h0M280.8 405h0M299.7 401.3h0M300.8 396.7h0M310.8 399.2h0M314.2 398.7h0M325.8 400.3h0M329.2 400.3h0M320 393.7h0M323.3 391.3h0M310.8 391.7h0M306.7 391.3h0M337.5 395h0M340.3 393.7h0M334.7 390.3h0M351.3 397.5h0M349.2 402.5h0M355.3 403h0M355.8 390.8h0M360 390h0M366.3 392.5h0M375 401.3h0M378.7 401.3h0M293.3 395h0M287.5 391.3h0M282.5 393.7h0M294.2 390.3h0M391.8 386.7h0M387.2 394.7h0M433 386.2h0M442.8 389.7h0M426.3 409.5h0M398 292.5h0M396.7 298.7h0M380.8 300.8h0M288.3 281.7h0M289.2 285h0M305 280h0M361.7 280h0M361.7 299.2h0M339.2 298.7h0M345 296.2h0M350 300.8h0M350 304.2h0M338.3 302.5h0M341.7 306.7h0M335.8 305h0M323.3 300h0M320 300.8h0M323.7 306.7h0M328.3 305.8h0M303.3 300h0M306.7 301.7h0M307.5 298.7h0M300.8 303.3h0M310.8 307.5h0M314.2 308h0M305.8 306.7h0M295 299.2h0M291.7 298.3h0M293.3 292.5h0M294.2 295h0M283.3 287.5h0M280 290h0M282.5 294.2h0M280 300h0M284.2 300.8h0M287.5 300.8h0M288.3 304.2h0M285 306.7h0M290.8 306.7h0M286.7 303.3h0"/>
<path stroke="#f00" d="M242.8 307.1h0M180.6 390.7h0M240.3 301.6h0M256.4 387.5h0M206.6 307.4h0M278.2 301.6h0M274.1 297.5h0M263.3 304h0M281.9 385.9h0M259 389.2h0M213.7 308.4h0M203.1 307.2h0M241.4 303.6h0M198.3 303.9h0M368.1 386.4h0M249.8 297.2h0M261.3 384.7h0M239 305.2h0M180.7 301.3h0M300.4 387h0M136.9 384.9h0M199 385.3h0M324.4 308.3h0M211.2 298.4h0M255.1 386h0M183.7 302.1h0M325.7 388.3h0M191.2 390.6h0M223.9 390.5h0M353.6 385.2h0M345.7 308.5h0M160.4 301.8h0M186.7 308.2h0M194.1 396.5h0M237.8 388.1h0M188.2 298.5h0M290.5 385.7h0M268.1 302.1h0M251.6 388.6h0M205.9 386.5h0M213 389.3h0M340.7 386.7h0M233.4 385.2h0M226.6 305.3h0M172.2 296.7h0M262.5 388.1h0M251.9 385.2h0M261.6 301.1h0M214.2 386.2h0M312.7 389.6h0M301 309.1h0M295.8 385.6h0M224.4 384.9h0M190.5 297.1h0M264.4 391.1h0M223.3 387h0M214.1 296.8h0M215.3 388.9h0M162.9 307.6h0M162.2 299.4h0M302.7 389.7h0M229 303.2h0M192.4 304.8h0M239.8 305.6h0M260.4 390.3h0M203.1 307h0M253.9 306.7h0M279.1 385h0M223.5 303.6h0M239.4 304.9h0M240.1 394.1h0M227.4 396.4h0M262.9 305.4h0M191 307.7h0M211.3 308.7h0M234.9 389.8h0M222.4 390.5h0M170.9 303.9h0M171.4 298.7h0M177.2 307.6h0M178.9 308.2h0M231.2 305.3h0M197.9 296.1h0M264.8 303.6h0M374.3 308.3h0M240.1 297.1h0M165.5 295h0M179.4 300.3h0M231.3 299.2h0M182.5 304.7h0M247.7 304.6h0M237.5 299.8h0M276.4 299h0M370.3 308.1h0M193.8 308.2h0M238.3 297.8h0M272.1 307.3h0M283.4 308.5h0M178.4 308.5h0M222 300.4h0M257.2 304.3h0M255.2 306.5h0M302.3 308.7h0M193.9 303.7h0M210.5 305.6h0M297.7 308.7h0M219.8 304.2h0M232.4 305.2h0M196.2 305.9h0M339.9 308.1h0M369.1 308.6h0M175.4 303.8h0M278.9 306.1h0M229.1 305.8h0M185.3 308.2h0M178.5 303.7h0M267.3 305.9h0M335.7 308.6h0M211.7 390.6h0M310.1 385.8h0M201.7 387.1h0M250.1 389.4h0M259.8 387.6h0M244.6 385.3h0M165.5 387.3h0M241.7 388.9h0M188.3 391.3h0M231.3 387.6h0M204.3 386.1h0M218 387.4h0M247.4 392.8h0M220.7 385.8h0M215.5 391.5h0M145.4 390h0M298 388.5h0M233.2 385.3h0M245.7 386.2h0M244.7 392.9h0M251.2 386.1h0M237.4 388.8h0M312.6 385.2h0M157.6 389.7h0M260.8 389.2h0M259.4 387.9h0M211 387.3h0M245.8 387.4h0M188.5 395.8h0M226 390.3h0M220.1 387.3h0M166.4 387h0M237.4 386.4h0M281.9 387.4h0M183.1 385.4h0M332.6 388.9h0M129.2 388.9h0M194.4 388.9h0M285.9 389.5h0M184.2 387.8h0M269.6 390.4h0M224.8 386.9h0M304.6 389.9h0M155.5 388.8h0M232.9 393.8h0M329.8 386h0M250.6 388.9h0M192.5 388.9h0M149.8 387.9h0M266.4 390h0M208.7 392.2h0M184.2 397.6h0M315 387.3h0M319.8 387.1h0M150 386.4h0M241.6 397.6h0M202.8 388.2h0M218.5 121.2h0M217.5 144.7h0M275.2 117.7h0M289.7 116.7h0M268.8 157.5h0M210 194.5h0M269.7 193.3h0M117.2 240.3h0M154.5 222.8h0M177 218h0M189.2 214h0M189.7 230.5h0M144.5 239h0M164.5 240.2h0M160.5 247.2h0M169.3 251.8h0M162 259.5h0M189.3 260.2h0M199.7 258.7h0M180.3 263.3h0M182.5 264.8h0M149.3 269.3h0M162.5 266.7h0M163.3 269.2h0M164.7 273h0M175.3 271.3h0M162.7 279h0M142.8 281h0M161.3 282.8h0M163.8 286h0M168 285h0M170.8 283.3h0M147.5 288h0M147 289.5h0M137.7 290.7h0M195.8 283.3h0M165.8 290.8h0M166.7 294.2h0M172.5 290.8h0M173.3 293.3h0M182.8 291.3h0M187.5 290h0M223.3 204.2h0M224.5 210.8h0M224.3 215.7h0M283.5 216h0M288.7 214.3h0M230.3 224.5h0M213 227.5h0M218.5 228.3h0M218.7 230.8h0M272 226.7h0M225 234.3h0M231.7 234.3h0M277.3 235.3h0M282 238.5h0M207 240.2h0M237.7 241.3h0M244 240.2h0M251.2 245.5h0M256.5 250.2h0M210.3 248.8h0M213 253h0M213 256.2h0M217.5 254.2h0M226.3 250h0M228.8 251h0M270 252.2h0M201.3 258.7h0M242.8 259.3h0M225.8 263.8h0M230.8 265h0M271.3 263.5h0M276.8 262.7h0M284.7 264.7h0M201.7 269.2h0M235.8 271.7h0M239.7 269.2h0M265.5 266.3h0M266.3 270h0M277 273h0M293 273h0M298.7 269.7h0M210.5 273h0M214.2 275.3h0M218.3 277h0M225.5 275.7h0M252.7 274.8h0M273 276.3h0M209.2 277.5h0M206.7 282h0M219.2 281.5h0M259.5 283.8h0M278.3 279.2h0M279.7 283.3h0M288.3 280.8h0M289.7 284.7h0M206.7 286.7h0M207.5 290h0M211.7 290.8h0M221.7 289.2h0M228.3 285h0M229.2 289.2h0M228.7 293.3h0M234.2 285.8h0M235.8 290.8h0M241.3 288.3h0M248.8 285.8h0M251.7 288.3h0M248.3 292.2h0M259.2 291.7h0M261.7 294.2h0M261.7 288.3h0M278.3 290h0M283.3 288.3h0M281.7 293.3h0M313.8 240.5h0M302.2 250.3h0M326.2 262h0M351.2 259.5h0M300.5 269.7h0M306.3 273h0M305.3 278.8h0M353.8 272h0M361.2 272.8h0M368.3 270.5h0M361.3 278.7h0M325.5 291.7h0M363 291h0M321.7 295h0M317.5 296.3h0M312.5 296.7h0M306.7 298.3h0M344.2 296.3h0M338.3 298.3h0M375.3 295.5h0M382 296.7h0M397.5 292.5h0M396.3 295.8h0M361.7 298.3h0M401.7 290.3h0M114.5 304.2h0M116.7 305.8h0M119.2 307.5h0M122 303h0M129.2 301.3h0M130.8 300.5h0M128.8 307.2h0M145 303h0M147.8 298h0M151.7 300h0M156.7 297h0M152.2 308.7h0M156.3 308.3h0M158.3 303.7h0M159.7 282.5h0M109.5 396.3h0M125.3 396.3h0M146 398h0M146 402h0M133.3 416.3h0M128.5 422.5h0M136.3 431.2h0M148 416.2h0M152.8 409.7h0M156.2 405.3h0M157 406.7h0M161.7 406h0M157 397h0M161.7 398h0M165 398.3h0M167 403h0M165 411.3h0M168.3 411h0M171.7 411.3h0M177.5 403h0M175 416.7h0M178.3 418.3h0M178.3 421.7h0M167 420.3h0M155.3 428.7h0M169.5 430h0M168.8 438h0M174.2 439.3h0M178.7 436.7h0M174.7 474.5h0M176.2 483h0M123 390.8h0M130.3 390.5h0M137 390.8h0M182.5 448h0M192.2 458h0M191.2 464.5h0M204.3 456.3h0M213 448.7h0M227.3 454.7h0M234.5 457.3h0M265.2 457.8h0M281.7 463h0M225 439.3h0M228.7 437.5h0M235 431.7h0M241.7 435.8h0M244.7 436.3h0M249.7 437.5h0M277 433.3h0M261.3 425.3h0M266.7 416.3h0M278.3 416.3h0M243.7 421h0M208 430.5h0M201.7 431.3h0M190 430h0M186.2 427h0M180.8 436.7h0M195.8 423h0M201.3 425h0M202.5 420.5h0M203.3 418.3h0M181.7 423.3h0M183.3 420h0M181.7 415h0M188.7 416.7h0M189.2 420.8h0M205.8 415.8h0M208.7 416.7h0M206.7 410.8h0M196.3 410.3h0M220 419.7h0M222.5 421.7h0M225 419.2h0M227.5 422.5h0M221.7 425.8h0M225 427h0M224.2 413h0M228.3 413h0M226.7 408.3h0M230 405.8h0M240.8 408.3h0M242.5 413.3h0M246.2 407.5h0M250.5 403.3h0M259.7 405.8h0M261.7 403.3h0M255.8 400h0M265 401.7h0M271.3 408h0M276.7 405.3h0M280 403.3h0M214.2 410h0M217 406.7h0M211.7 405.8h0M215.8 401.7h0M201.7 405h0M206.7 403.3h0M200.8 400h0M191.7 406.7h0M185.8 405.8h0M181.7 410h0M180 411.7h0M182.5 398.3h0M190 401.7h0M194.2 400.8h0M291.7 429.2h0M292.2 421h0M310.5 417.5h0M323 421.2h0M327.2 415h0M330.5 410.5h0M325.8 407.8h0M364.5 418.7h0M366.2 425.5h0M292.5 400.8h0M286.7 403.7h0M282.5 401.3h0M280.8 405h0M299.7 401.3h0M300.8 396.7h0M310.8 399.2h0M314.2 398.7h0M325.8 400.3h0M329.2 400.3h0M320 393.7h0M323.3 391.3h0M310.8 391.7h0M306.7 391.3h0M337.5 395h0M340.3 393.7h0M334.7 390.3h0M351.3 397.5h0M349.2 402.5h0M355.3 403h0M355.8 390.8h0M360 390h0M366.3 392.5h0M375 401.3h0M378.7 401.3h0M293.3 395h0M287.5 391.3h0M282.5 393.7h0M294.2 390.3h0M391.8 386.7h0M387.2 394.7h0M433 386.2h0M442.8 389.7h0M426.3 409.5h0M398 292.5h0M396.7 298.7h0M380.8 300.8h0M288.3 281.7h0M289.2 285h0M305 280h0M361.7 280h0M361.7 299.2h0M339.2 298.7h0M345 296.2h0M350 300.8h0M350 304.2h0M338.3 302.5h0M341.7 306.7h0M335.8 305h0M323.3 300h0M320 300.8h0M323.7 306.7h0M328.3 305.8h0M303.3 300h0M306.7 301.7h0M307.5 298.7h0M300.8 303.3h0M310.8 307.5h0M314.2 308h0M305.8 306.7h0M295 299.2h0M291.7 298.3h0M293.3 292.5h0M294.2 295h0M283.3 287.5h0M280 290h0M282.5 294.2h0M280 300h0M284.2 300.8h0M287.5 300.8h0M288.3 304.2h0M285 306.7h0M290.8 306.7h0M286.7 303.3h0"/>
</g>
<rect x="59.04" y="102.04" width="510.72" height="395.28" fill="none" stroke="#000" stroke-width="1"/>
<g stroke="#000" stroke-width="1">
<path d="M85 497.3V504.5M214.4 497.3V504.5M343.8 497.3V504.5M473.2 497.3V504.5M85 497.3H473.2"/>
<path d="M59 158.3H51.8M59 252.6H51.8M59 346.9H51.8M59 441.2H51.8M59 158.3V441.2"/>
</g>
<g font-size="12" text-anchor="middle">
<text x="85" y="524">0.5</text>
<text x="214.4" y="524">1.0</text>
<text x="343.8" y="524">1.5</text>
<text x="473.2" y="524">2.0</text>
<text x="314.5" y="552" font-size="12.45">log2Signal</text>
<text transform="translate(42.3 158.3) rotate(-90)">1.0</text>
<text transform="translate(42.3 252.6) rotate(-90)">0.5</text>
<text transform="translate(42.3 346.9) rotate(-90)">0.0</text>
<text transform="translate(42.3 441.2) rotate(-90)">-0.5</text>
<text transform="translate(13.2 299.6) rotate(-90)" font-size="12.45">log2FC</text>
</g>
<text x="314.4" y="77.9" font-size="14.55" font-weight="bold" text-anchor="middle">Fold change vs average abundance</text>
</svg>
</body></html>
